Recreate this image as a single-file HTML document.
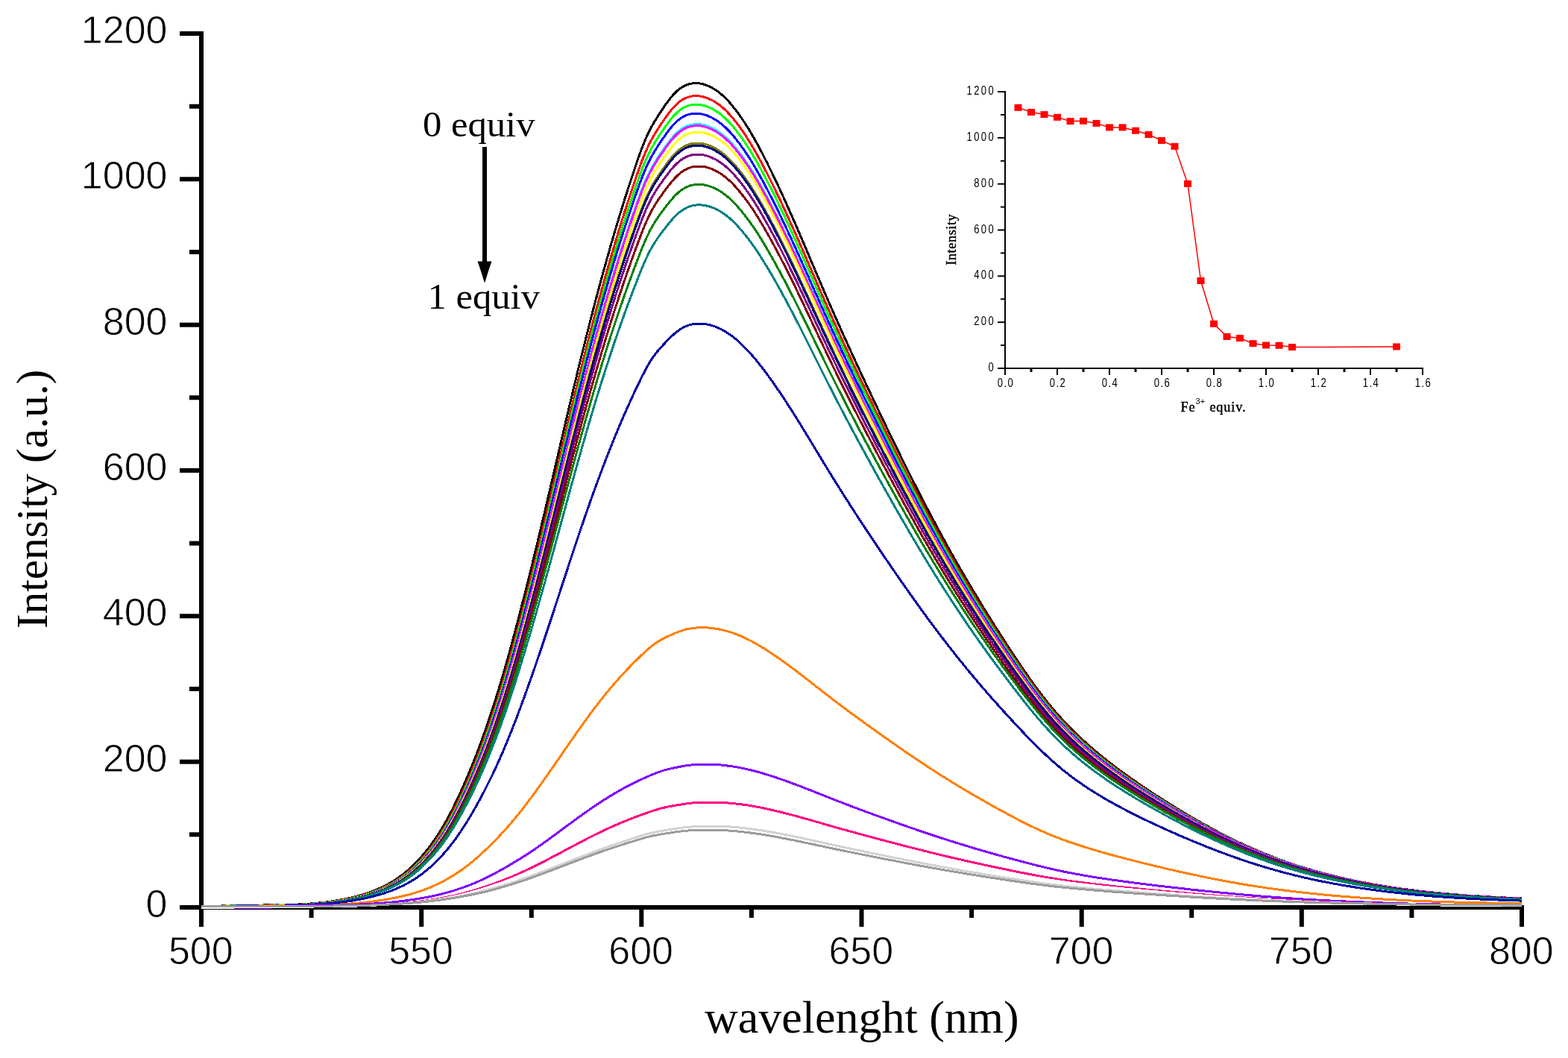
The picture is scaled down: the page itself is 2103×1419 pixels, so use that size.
<!DOCTYPE html><html><head><meta charset="utf-8"><style>html,body{margin:0;padding:0;background:#fff;}svg{display:block;}</style></head><body>
<svg width="2103" height="1419" viewBox="0 0 2103 1419">
<rect width="2103" height="1419" fill="#fff"/>
<g stroke="#000" stroke-width="6" fill="none">
<line x1="270" y1="42" x2="270" y2="1220"/>
<line x1="267" y1="1217" x2="2044" y2="1217"/>
<line x1="241.0" y1="1217.0" x2="270" y2="1217.0"/>
<line x1="254.0" y1="1119.3" x2="270" y2="1119.3"/>
<line x1="241.0" y1="1021.7" x2="270" y2="1021.7"/>
<line x1="254.0" y1="924.0" x2="270" y2="924.0"/>
<line x1="241.0" y1="826.3" x2="270" y2="826.3"/>
<line x1="254.0" y1="728.7" x2="270" y2="728.7"/>
<line x1="241.0" y1="631.0" x2="270" y2="631.0"/>
<line x1="254.0" y1="533.3" x2="270" y2="533.3"/>
<line x1="241.0" y1="435.7" x2="270" y2="435.7"/>
<line x1="254.0" y1="338.0" x2="270" y2="338.0"/>
<line x1="241.0" y1="240.3" x2="270" y2="240.3"/>
<line x1="254.0" y1="142.7" x2="270" y2="142.7"/>
<line x1="241.0" y1="45.0" x2="270" y2="45.0"/>
<line x1="270.0" y1="1217" x2="270.0" y2="1243"/>
<line x1="417.6" y1="1217" x2="417.6" y2="1231"/>
<line x1="565.2" y1="1217" x2="565.2" y2="1243"/>
<line x1="712.8" y1="1217" x2="712.8" y2="1231"/>
<line x1="860.3" y1="1217" x2="860.3" y2="1243"/>
<line x1="1007.9" y1="1217" x2="1007.9" y2="1231"/>
<line x1="1155.5" y1="1217" x2="1155.5" y2="1243"/>
<line x1="1303.1" y1="1217" x2="1303.1" y2="1231"/>
<line x1="1450.7" y1="1217" x2="1450.7" y2="1243"/>
<line x1="1598.2" y1="1217" x2="1598.2" y2="1231"/>
<line x1="1745.8" y1="1217" x2="1745.8" y2="1243"/>
<line x1="1893.4" y1="1217" x2="1893.4" y2="1231"/>
<line x1="2041.0" y1="1217" x2="2041.0" y2="1243"/>
</g>
<g fill="none" stroke-width="3" stroke-linejoin="round" shape-rendering="crispEdges">
<path stroke="#000000" d="M270.0 1216.9L273.0 1216.6L275.9 1216.4L278.9 1216.1L281.8 1215.9L284.8 1215.7L287.7 1215.5L290.7 1215.3L293.6 1215.2L296.6 1215.0L299.5 1214.9L302.5 1214.8L305.4 1214.7L308.4 1214.6L311.3 1214.5L314.3 1214.4L317.2 1214.3L320.2 1214.3L323.1 1214.2L326.1 1214.2L329.0 1214.2L332.0 1214.1L334.9 1214.1L337.9 1214.1L340.8 1214.0L343.8 1214.0L346.7 1214.0L349.7 1214.0L352.6 1214.0L355.6 1213.9L358.6 1213.9L361.5 1213.9L364.5 1213.9L367.4 1213.8L370.4 1213.8L373.3 1213.8L376.3 1213.7L379.2 1213.7L382.2 1213.6L385.1 1213.5L388.1 1213.4L391.0 1213.3L394.0 1213.2L396.9 1213.1L399.9 1213.0L402.8 1212.9L405.8 1212.7L408.7 1212.5L411.7 1212.3L414.6 1212.1L417.6 1211.9L420.5 1211.7L423.5 1211.4L426.4 1211.1L429.4 1210.8L432.3 1210.5L435.3 1210.2L438.2 1209.8L441.2 1209.4L444.1 1209.0L447.1 1208.6L450.1 1208.1L453.0 1207.6L456.0 1207.1L458.9 1206.6L461.9 1206.0L464.8 1205.4L467.8 1204.7L470.7 1204.1L473.7 1203.3L476.6 1202.6L479.6 1201.8L482.5 1201.0L485.5 1200.1L488.4 1199.2L491.4 1198.2L494.3 1197.2L497.3 1196.2L500.2 1195.1L503.2 1193.9L506.1 1192.7L509.1 1191.4L512.0 1190.0L515.0 1188.6L517.9 1187.1L520.9 1185.5L523.8 1183.9L526.8 1182.1L529.7 1180.3L532.7 1178.3L535.6 1176.3L538.6 1174.1L541.6 1171.8L544.5 1169.4L547.5 1166.9L550.4 1164.3L553.4 1161.5L556.3 1158.6L559.3 1155.6L562.2 1152.5L565.2 1149.2L568.1 1145.7L571.1 1142.2L574.0 1138.4L577.0 1134.5L579.9 1130.5L582.9 1126.3L585.8 1121.9L588.8 1117.3L591.7 1112.6L594.7 1107.6L597.6 1102.5L600.6 1097.2L603.5 1091.7L606.5 1086.0L609.4 1080.1L612.4 1074.0L615.3 1067.7L618.3 1061.3L621.2 1054.7L624.2 1047.9L627.2 1041.1L630.1 1034.0L633.1 1026.8L636.0 1019.4L639.0 1011.9L641.9 1004.1L644.9 996.2L647.8 988.1L650.8 979.8L653.7 971.3L656.7 962.6L659.6 953.7L662.6 944.6L665.5 935.3L668.5 925.8L671.4 916.0L674.4 906.1L677.3 895.9L680.3 885.6L683.2 875.0L686.2 864.3L689.1 853.3L692.1 842.2L695.0 831.0L698.0 819.6L700.9 808.1L703.9 796.5L706.8 784.7L709.8 772.8L712.8 760.8L715.7 748.8L718.7 736.6L721.6 724.3L724.6 711.9L727.5 699.5L730.5 687.0L733.4 674.4L736.4 661.8L739.3 649.1L742.3 636.5L745.2 623.8L748.2 611.1L751.1 598.4L754.1 585.8L757.0 573.1L760.0 560.5L762.9 548.0L765.9 535.5L768.8 523.1L771.8 510.8L774.7 498.6L777.7 486.5L780.6 474.5L783.6 462.5L786.5 450.7L789.5 439.1L792.4 427.5L795.4 416.1L798.3 404.8L801.3 393.7L804.3 382.6L807.2 371.8L810.2 361.0L813.1 350.4L816.1 340.0L819.0 329.7L822.0 319.5L824.9 309.5L827.9 299.6L830.8 289.9L833.8 280.3L836.7 270.8L839.7 261.5L842.6 252.3L845.6 243.2L848.5 234.3L851.5 225.5L854.4 216.8L857.4 208.3L860.3 200.3L863.3 192.7L866.2 185.7L869.2 179.2L872.1 173.3L875.1 167.9L878.0 162.8L881.0 158.0L883.9 153.3L886.9 148.8L889.9 144.4L892.8 140.1L895.8 136.0L898.7 132.1L901.7 128.5L904.6 125.3L907.6 122.4L910.5 119.9L913.5 117.7L916.4 115.9L919.4 114.4L922.3 113.3L925.3 112.5L928.2 111.9L931.2 111.6L934.1 111.6L937.1 111.8L940.0 112.2L943.0 112.9L945.9 113.8L948.9 114.9L951.8 116.2L954.8 117.7L957.7 119.4L960.7 121.3L963.6 123.4L966.6 125.7L969.5 128.3L972.5 131.1L975.4 134.1L978.4 137.3L981.4 140.8L984.3 144.4L987.3 148.3L990.2 152.2L993.2 156.3L996.1 160.6L999.1 165.1L1002.0 169.7L1005.0 174.5L1007.9 179.5L1010.9 184.6L1013.8 189.8L1016.8 195.2L1019.7 200.8L1022.7 206.4L1025.6 212.2L1028.6 218.0L1031.5 223.9L1034.5 229.9L1037.4 236.0L1040.4 242.2L1043.3 248.4L1046.3 254.8L1049.2 261.2L1052.2 267.7L1055.1 274.2L1058.1 280.8L1061.0 287.5L1064.0 294.2L1067.0 301.0L1069.9 307.8L1072.9 314.7L1075.8 321.6L1078.8 328.5L1081.7 335.4L1084.7 342.3L1087.6 349.3L1090.6 356.2L1093.5 363.2L1096.5 370.1L1099.4 377.0L1102.4 383.9L1105.3 390.7L1108.3 397.5L1111.2 404.3L1114.2 411.0L1117.1 417.7L1120.1 424.4L1123.0 431.0L1126.0 437.6L1128.9 444.2L1131.9 450.8L1134.8 457.3L1137.8 463.8L1140.7 470.3L1143.7 476.7L1146.6 483.1L1149.6 489.5L1152.5 495.9L1155.5 502.3L1158.5 508.6L1161.4 514.9L1164.4 521.2L1167.3 527.4L1170.3 533.7L1173.2 539.9L1176.2 546.1L1179.1 552.3L1182.1 558.5L1185.0 564.6L1188.0 570.7L1190.9 576.9L1193.9 583.0L1196.8 589.0L1199.8 595.1L1202.7 601.1L1205.7 607.1L1208.6 613.1L1211.6 619.1L1214.5 625.0L1217.5 630.9L1220.4 636.8L1223.4 642.7L1226.3 648.5L1229.3 654.3L1232.2 660.1L1235.2 665.8L1238.1 671.5L1241.1 677.2L1244.0 682.8L1247.0 688.5L1250.0 694.0L1252.9 699.6L1255.9 705.1L1258.8 710.6L1261.8 716.0L1264.7 721.4L1267.7 726.8L1270.6 732.2L1273.6 737.5L1276.5 742.8L1279.5 748.0L1282.4 753.2L1285.4 758.4L1288.3 763.5L1291.3 768.6L1294.2 773.7L1297.2 778.7L1300.1 783.7L1303.1 788.7L1306.0 793.6L1309.0 798.5L1311.9 803.4L1314.9 808.2L1317.8 813.1L1320.8 817.9L1323.7 822.6L1326.7 827.4L1329.6 832.1L1332.6 836.8L1335.6 841.5L1338.5 846.1L1341.5 850.7L1344.4 855.3L1347.4 859.9L1350.3 864.4L1353.3 869.0L1356.2 873.5L1359.2 878.0L1362.1 882.4L1365.1 886.9L1368.0 891.3L1371.0 895.6L1373.9 899.9L1376.9 904.2L1379.8 908.4L1382.8 912.6L1385.7 916.7L1388.7 920.7L1391.6 924.7L1394.6 928.7L1397.5 932.5L1400.5 936.3L1403.4 940.1L1406.4 943.8L1409.3 947.4L1412.3 950.9L1415.2 954.4L1418.2 957.8L1421.2 961.1L1424.1 964.4L1427.1 967.6L1430.0 970.7L1433.0 973.8L1435.9 976.8L1438.9 979.8L1441.8 982.7L1444.8 985.5L1447.7 988.3L1450.7 991.1L1453.6 993.8L1456.6 996.5L1459.5 999.1L1462.5 1001.7L1465.4 1004.2L1468.4 1006.8L1471.3 1009.2L1474.3 1011.7L1477.2 1014.1L1480.2 1016.5L1483.1 1018.8L1486.1 1021.2L1489.0 1023.5L1492.0 1025.7L1494.9 1028.0L1497.9 1030.2L1500.8 1032.4L1503.8 1034.6L1506.7 1036.7L1509.7 1038.9L1512.7 1041.0L1515.6 1043.1L1518.6 1045.1L1521.5 1047.2L1524.5 1049.3L1527.4 1051.3L1530.4 1053.3L1533.3 1055.3L1536.3 1057.3L1539.2 1059.2L1542.2 1061.2L1545.1 1063.1L1548.1 1065.1L1551.0 1067.0L1554.0 1068.9L1556.9 1070.8L1559.9 1072.7L1562.8 1074.6L1565.8 1076.4L1568.7 1078.3L1571.7 1080.1L1574.6 1081.9L1577.6 1083.8L1580.5 1085.6L1583.5 1087.4L1586.4 1089.1L1589.4 1090.9L1592.3 1092.7L1595.3 1094.4L1598.2 1096.1L1601.2 1097.8L1604.2 1099.5L1607.1 1101.2L1610.1 1102.9L1613.0 1104.6L1616.0 1106.2L1618.9 1107.8L1621.9 1109.4L1624.8 1111.0L1627.8 1112.6L1630.7 1114.2L1633.7 1115.8L1636.6 1117.3L1639.6 1118.8L1642.5 1120.3L1645.5 1121.8L1648.4 1123.3L1651.4 1124.8L1654.3 1126.2L1657.3 1127.7L1660.2 1129.1L1663.2 1130.5L1666.1 1131.9L1669.1 1133.2L1672.0 1134.6L1675.0 1135.9L1677.9 1137.2L1680.9 1138.5L1683.8 1139.8L1686.8 1141.1L1689.8 1142.3L1692.7 1143.6L1695.7 1144.8L1698.6 1146.0L1701.6 1147.1L1704.5 1148.3L1707.5 1149.5L1710.4 1150.6L1713.4 1151.7L1716.3 1152.8L1719.3 1153.9L1722.2 1154.9L1725.2 1156.0L1728.1 1157.0L1731.1 1158.0L1734.0 1159.0L1737.0 1160.0L1739.9 1160.9L1742.9 1161.9L1745.8 1162.8L1748.8 1163.7L1751.7 1164.6L1754.7 1165.5L1757.6 1166.4L1760.6 1167.3L1763.5 1168.1L1766.5 1168.9L1769.4 1169.7L1772.4 1170.5L1775.3 1171.3L1778.3 1172.1L1781.3 1172.9L1784.2 1173.6L1787.2 1174.4L1790.1 1175.1L1793.1 1175.8L1796.0 1176.5L1799.0 1177.2L1801.9 1177.9L1804.9 1178.5L1807.8 1179.2L1810.8 1179.8L1813.7 1180.5L1816.7 1181.1L1819.6 1181.7L1822.6 1182.3L1825.5 1182.9L1828.5 1183.5L1831.4 1184.0L1834.4 1184.6L1837.3 1185.1L1840.3 1185.7L1843.2 1186.2L1846.2 1186.7L1849.1 1187.2L1852.1 1187.7L1855.0 1188.2L1858.0 1188.7L1860.9 1189.2L1863.9 1189.6L1866.9 1190.1L1869.8 1190.5L1872.8 1191.0L1875.7 1191.4L1878.7 1191.8L1881.6 1192.2L1884.6 1192.6L1887.5 1193.0L1890.5 1193.4L1893.4 1193.8L1896.4 1194.1L1899.3 1194.5L1902.3 1194.9L1905.2 1195.2L1908.2 1195.6L1911.1 1195.9L1914.1 1196.2L1917.0 1196.5L1920.0 1196.8L1922.9 1197.1L1925.9 1197.4L1928.8 1197.7L1931.8 1198.0L1934.7 1198.3L1937.7 1198.6L1940.6 1198.8L1943.6 1199.1L1946.5 1199.3L1949.5 1199.6L1952.5 1199.8L1955.4 1200.1L1958.4 1200.3L1961.3 1200.5L1964.3 1200.7L1967.2 1201.0L1970.2 1201.2L1973.1 1201.4L1976.1 1201.6L1979.0 1201.8L1982.0 1201.9L1984.9 1202.1L1987.9 1202.3L1990.8 1202.5L1993.8 1202.6L1996.7 1202.8L1999.7 1203.0L2002.6 1203.1L2005.6 1203.3L2008.5 1203.4L2011.5 1203.6L2014.4 1203.7L2017.4 1203.8L2020.3 1204.0L2023.3 1204.1L2026.2 1204.2L2029.2 1204.3L2032.1 1204.4L2035.1 1204.5L2038.0 1204.7L2041.0 1204.8"/>
<path stroke="#FF0000" d="M270.0 1217.0L273.0 1216.9L275.9 1216.6L278.9 1216.3L281.8 1216.1L284.8 1215.9L287.7 1215.7L290.7 1215.5L293.6 1215.3L296.6 1215.2L299.5 1215.0L302.5 1214.9L305.4 1214.8L308.4 1214.7L311.3 1214.6L314.3 1214.5L317.2 1214.4L320.2 1214.4L323.1 1214.3L326.1 1214.3L329.0 1214.2L332.0 1214.2L334.9 1214.2L337.9 1214.1L340.8 1214.1L343.8 1214.1L346.7 1214.1L349.7 1214.0L352.6 1214.0L355.6 1214.0L358.6 1214.0L361.5 1214.0L364.5 1213.9L367.4 1213.9L370.4 1213.9L373.3 1213.8L376.3 1213.8L379.2 1213.7L382.2 1213.7L385.1 1213.6L388.1 1213.5L391.0 1213.5L394.0 1213.4L396.9 1213.3L399.9 1213.1L402.8 1213.0L405.8 1212.9L408.7 1212.7L411.7 1212.5L414.6 1212.4L417.6 1212.1L420.5 1211.9L423.5 1211.7L426.4 1211.4L429.4 1211.1L432.3 1210.8L435.3 1210.5L438.2 1210.2L441.2 1209.8L444.1 1209.4L447.1 1209.0L450.1 1208.6L453.0 1208.1L456.0 1207.6L458.9 1207.1L461.9 1206.5L464.8 1205.9L467.8 1205.3L470.7 1204.7L473.7 1204.0L476.6 1203.3L479.6 1202.5L482.5 1201.7L485.5 1200.9L488.4 1200.0L491.4 1199.1L494.3 1198.1L497.3 1197.1L500.2 1196.1L503.2 1194.9L506.1 1193.8L509.1 1192.5L512.0 1191.2L515.0 1189.9L517.9 1188.4L520.9 1186.9L523.8 1185.3L526.8 1183.7L529.7 1181.9L532.7 1180.0L535.6 1178.1L538.6 1176.0L541.6 1173.8L544.5 1171.5L547.5 1169.1L550.4 1166.5L553.4 1163.9L556.3 1161.1L559.3 1158.2L562.2 1155.2L565.2 1152.0L568.1 1148.7L571.1 1145.2L574.0 1141.6L577.0 1137.8L579.9 1133.9L582.9 1129.8L585.8 1125.6L588.8 1121.2L591.7 1116.6L594.7 1111.8L597.6 1106.8L600.6 1101.7L603.5 1096.3L606.5 1090.8L609.4 1085.0L612.4 1079.1L615.3 1073.0L618.3 1066.7L621.2 1060.3L624.2 1053.7L627.2 1047.0L630.1 1040.1L633.1 1033.0L636.0 1025.8L639.0 1018.4L641.9 1010.9L644.9 1003.1L647.8 995.2L650.8 987.1L653.7 978.8L656.7 970.3L659.6 961.6L662.6 952.7L665.5 943.6L668.5 934.3L671.4 924.7L674.4 915.0L677.3 905.0L680.3 894.9L683.2 884.5L686.2 874.0L689.1 863.3L692.1 852.4L695.0 841.3L698.0 830.1L700.9 818.8L703.9 807.4L706.8 795.8L709.8 784.1L712.8 772.3L715.7 760.4L718.7 748.4L721.6 736.3L724.6 724.1L727.5 711.8L730.5 699.5L733.4 687.1L736.4 674.7L739.3 662.2L742.3 649.7L745.2 637.2L748.2 624.6L751.1 612.1L754.1 599.6L757.0 587.1L760.0 574.7L762.9 562.3L765.9 549.9L768.8 537.7L771.8 525.5L774.7 513.4L777.7 501.3L780.6 489.4L783.6 477.6L786.5 465.9L789.5 454.4L792.4 442.9L795.4 431.6L798.3 420.4L801.3 409.4L804.3 398.5L807.2 387.7L810.2 377.0L813.1 366.5L816.1 356.2L819.0 346.0L822.0 335.9L824.9 326.0L827.9 316.2L830.8 306.5L833.8 297.0L836.7 287.6L839.7 278.4L842.6 269.2L845.6 260.3L848.5 251.4L851.5 242.7L854.4 234.0L857.4 225.6L860.3 217.6L863.3 210.0L866.2 203.0L869.2 196.5L872.1 190.5L875.1 185.1L878.0 180.0L881.0 175.2L883.9 170.6L886.9 166.1L889.9 161.7L892.8 157.4L895.8 153.3L898.7 149.5L901.7 145.9L904.6 142.6L907.6 139.7L910.5 137.1L913.5 134.9L916.4 133.1L919.4 131.6L922.3 130.4L925.3 129.6L928.2 129.0L931.2 128.7L934.1 128.6L937.1 128.8L940.0 129.2L943.0 129.8L945.9 130.7L948.9 131.7L951.8 133.0L954.8 134.4L957.7 136.0L960.7 137.9L963.6 139.9L966.6 142.2L969.5 144.6L972.5 147.3L975.4 150.2L978.4 153.4L981.4 156.8L984.3 160.3L987.3 164.0L990.2 167.9L993.2 171.9L996.1 176.1L999.1 180.5L1002.0 185.0L1005.0 189.7L1007.9 194.5L1010.9 199.5L1013.8 204.6L1016.8 209.9L1019.7 215.3L1022.7 220.8L1025.6 226.5L1028.6 232.2L1031.5 238.0L1034.5 243.9L1037.4 249.8L1040.4 255.9L1043.3 262.0L1046.3 268.2L1049.2 274.5L1052.2 280.9L1055.1 287.3L1058.1 293.8L1061.0 300.3L1064.0 306.9L1067.0 313.5L1069.9 320.2L1072.9 327.0L1075.8 333.7L1078.8 340.5L1081.7 347.3L1084.7 354.1L1087.6 361.0L1090.6 367.8L1093.5 374.6L1096.5 381.4L1099.4 388.2L1102.4 395.0L1105.3 401.7L1108.3 408.4L1111.2 415.0L1114.2 421.7L1117.1 428.3L1120.1 434.8L1123.0 441.4L1126.0 447.9L1128.9 454.3L1131.9 460.8L1134.8 467.2L1137.8 473.6L1140.7 480.0L1143.7 486.3L1146.6 492.6L1149.6 498.9L1152.5 505.2L1155.5 511.4L1158.5 517.6L1161.4 523.8L1164.4 530.0L1167.3 536.2L1170.3 542.3L1173.2 548.5L1176.2 554.6L1179.1 560.6L1182.1 566.7L1185.0 572.7L1188.0 578.8L1190.9 584.8L1193.9 590.8L1196.8 596.8L1199.8 602.7L1202.7 608.7L1205.7 614.6L1208.6 620.5L1211.6 626.3L1214.5 632.2L1217.5 638.0L1220.4 643.8L1223.4 649.5L1226.3 655.3L1229.3 661.0L1232.2 666.7L1235.2 672.3L1238.1 677.9L1241.1 683.5L1244.0 689.1L1247.0 694.6L1250.0 700.1L1252.9 705.6L1255.9 711.0L1258.8 716.4L1261.8 721.8L1264.7 727.1L1267.7 732.4L1270.6 737.7L1273.6 742.9L1276.5 748.1L1279.5 753.2L1282.4 758.4L1285.4 763.5L1288.3 768.5L1291.3 773.5L1294.2 778.5L1297.2 783.5L1300.1 788.4L1303.1 793.3L1306.0 798.2L1309.0 803.0L1311.9 807.8L1314.9 812.6L1317.8 817.3L1320.8 822.1L1323.7 826.8L1326.7 831.4L1329.6 836.1L1332.6 840.7L1335.6 845.3L1338.5 849.9L1341.5 854.4L1344.4 859.0L1347.4 863.5L1350.3 867.9L1353.3 872.4L1356.2 876.8L1359.2 881.3L1362.1 885.6L1365.1 890.0L1368.0 894.3L1371.0 898.6L1373.9 902.9L1376.9 907.1L1379.8 911.3L1382.8 915.4L1385.7 919.5L1388.7 923.5L1391.6 927.4L1394.6 931.3L1397.5 935.1L1400.5 938.9L1403.4 942.6L1406.4 946.3L1409.3 949.8L1412.3 953.4L1415.2 956.8L1418.2 960.2L1421.2 963.5L1424.1 966.7L1427.1 969.9L1430.0 973.0L1433.0 976.1L1435.9 979.1L1438.9 982.0L1441.8 984.9L1444.8 987.7L1447.7 990.5L1450.7 993.2L1453.6 995.9L1456.6 998.5L1459.5 1001.1L1462.5 1003.7L1465.4 1006.2L1468.4 1008.7L1471.3 1011.2L1474.3 1013.6L1477.2 1016.0L1480.2 1018.3L1483.1 1020.7L1486.1 1023.0L1489.0 1025.2L1492.0 1027.5L1494.9 1029.7L1497.9 1031.9L1500.8 1034.1L1503.8 1036.2L1506.7 1038.4L1509.7 1040.5L1512.7 1042.5L1515.6 1044.6L1518.6 1046.7L1521.5 1048.7L1524.5 1050.7L1527.4 1052.7L1530.4 1054.7L1533.3 1056.7L1536.3 1058.6L1539.2 1060.6L1542.2 1062.5L1545.1 1064.4L1548.1 1066.3L1551.0 1068.2L1554.0 1070.1L1556.9 1072.0L1559.9 1073.8L1562.8 1075.7L1565.8 1077.5L1568.7 1079.3L1571.7 1081.2L1574.6 1083.0L1577.6 1084.7L1580.5 1086.5L1583.5 1088.3L1586.4 1090.1L1589.4 1091.8L1592.3 1093.5L1595.3 1095.2L1598.2 1097.0L1601.2 1098.6L1604.2 1100.3L1607.1 1102.0L1610.1 1103.6L1613.0 1105.3L1616.0 1106.9L1618.9 1108.5L1621.9 1110.1L1624.8 1111.7L1627.8 1113.3L1630.7 1114.8L1633.7 1116.4L1636.6 1117.9L1639.6 1119.4L1642.5 1120.9L1645.5 1122.4L1648.4 1123.8L1651.4 1125.3L1654.3 1126.7L1657.3 1128.1L1660.2 1129.5L1663.2 1130.9L1666.1 1132.3L1669.1 1133.6L1672.0 1135.0L1675.0 1136.3L1677.9 1137.6L1680.9 1138.9L1683.8 1140.1L1686.8 1141.4L1689.8 1142.6L1692.7 1143.9L1695.7 1145.1L1698.6 1146.3L1701.6 1147.4L1704.5 1148.6L1707.5 1149.7L1710.4 1150.8L1713.4 1151.9L1716.3 1153.0L1719.3 1154.1L1722.2 1155.2L1725.2 1156.2L1728.1 1157.2L1731.1 1158.2L1734.0 1159.2L1737.0 1160.2L1739.9 1161.1L1742.9 1162.1L1745.8 1163.0L1748.8 1163.9L1751.7 1164.8L1754.7 1165.7L1757.6 1166.6L1760.6 1167.4L1763.5 1168.2L1766.5 1169.1L1769.4 1169.9L1772.4 1170.7L1775.3 1171.5L1778.3 1172.2L1781.3 1173.0L1784.2 1173.8L1787.2 1174.5L1790.1 1175.2L1793.1 1175.9L1796.0 1176.6L1799.0 1177.3L1801.9 1178.0L1804.9 1178.6L1807.8 1179.3L1810.8 1179.9L1813.7 1180.6L1816.7 1181.2L1819.6 1181.8L1822.6 1182.4L1825.5 1183.0L1828.5 1183.5L1831.4 1184.1L1834.4 1184.7L1837.3 1185.2L1840.3 1185.8L1843.2 1186.3L1846.2 1186.8L1849.1 1187.3L1852.1 1187.8L1855.0 1188.3L1858.0 1188.8L1860.9 1189.2L1863.9 1189.7L1866.9 1190.1L1869.8 1190.6L1872.8 1191.0L1875.7 1191.4L1878.7 1191.9L1881.6 1192.3L1884.6 1192.7L1887.5 1193.1L1890.5 1193.5L1893.4 1193.8L1896.4 1194.2L1899.3 1194.6L1902.3 1194.9L1905.2 1195.3L1908.2 1195.6L1911.1 1195.9L1914.1 1196.3L1917.0 1196.6L1920.0 1196.9L1922.9 1197.2L1925.9 1197.5L1928.8 1197.8L1931.8 1198.1L1934.7 1198.4L1937.7 1198.6L1940.6 1198.9L1943.6 1199.2L1946.5 1199.4L1949.5 1199.7L1952.5 1199.9L1955.4 1200.1L1958.4 1200.4L1961.3 1200.6L1964.3 1200.8L1967.2 1201.0L1970.2 1201.2L1973.1 1201.4L1976.1 1201.6L1979.0 1201.8L1982.0 1202.0L1984.9 1202.2L1987.9 1202.4L1990.8 1202.5L1993.8 1202.7L1996.7 1202.9L1999.7 1203.0L2002.6 1203.2L2005.6 1203.3L2008.5 1203.5L2011.5 1203.6L2014.4 1203.8L2017.4 1203.9L2020.3 1204.0L2023.3 1204.2L2026.2 1204.3L2029.2 1204.4L2032.1 1204.5L2035.1 1204.6L2038.0 1204.7L2041.0 1204.9"/>
<path stroke="#00FF00" d="M270.0 1217.0L273.0 1217.0L275.9 1216.7L278.9 1216.5L281.8 1216.2L284.8 1216.0L287.7 1215.8L290.7 1215.6L293.6 1215.4L296.6 1215.3L299.5 1215.1L302.5 1215.0L305.4 1214.9L308.4 1214.8L311.3 1214.7L314.3 1214.6L317.2 1214.5L320.2 1214.4L323.1 1214.4L326.1 1214.3L329.0 1214.3L332.0 1214.2L334.9 1214.2L337.9 1214.2L340.8 1214.1L343.8 1214.1L346.7 1214.1L349.7 1214.1L352.6 1214.1L355.6 1214.0L358.6 1214.0L361.5 1214.0L364.5 1214.0L367.4 1214.0L370.4 1213.9L373.3 1213.9L376.3 1213.9L379.2 1213.8L382.2 1213.8L385.1 1213.7L388.1 1213.6L391.0 1213.5L394.0 1213.5L396.9 1213.4L399.9 1213.2L402.8 1213.1L405.8 1213.0L408.7 1212.8L411.7 1212.7L414.6 1212.5L417.6 1212.3L420.5 1212.1L423.5 1211.8L426.4 1211.6L429.4 1211.3L432.3 1211.0L435.3 1210.7L438.2 1210.4L441.2 1210.0L444.1 1209.7L447.1 1209.3L450.1 1208.8L453.0 1208.4L456.0 1207.9L458.9 1207.4L461.9 1206.9L464.8 1206.3L467.8 1205.7L470.7 1205.1L473.7 1204.4L476.6 1203.7L479.6 1203.0L482.5 1202.2L485.5 1201.4L488.4 1200.6L491.4 1199.7L494.3 1198.7L497.3 1197.7L500.2 1196.7L503.2 1195.6L506.1 1194.5L509.1 1193.3L512.0 1192.0L515.0 1190.7L517.9 1189.3L520.9 1187.8L523.8 1186.3L526.8 1184.6L529.7 1182.9L532.7 1181.1L535.6 1179.2L538.6 1177.2L541.6 1175.0L544.5 1172.8L547.5 1170.5L550.4 1168.0L553.4 1165.4L556.3 1162.7L559.3 1159.8L562.2 1156.9L565.2 1153.8L568.1 1150.5L571.1 1147.1L574.0 1143.6L577.0 1139.9L579.9 1136.1L582.9 1132.1L585.8 1127.9L588.8 1123.6L591.7 1119.1L594.7 1114.4L597.6 1109.6L600.6 1104.5L603.5 1099.3L606.5 1093.8L609.4 1088.2L612.4 1082.4L615.3 1076.4L618.3 1070.2L621.2 1063.9L624.2 1057.4L627.2 1050.7L630.1 1044.0L633.1 1037.0L636.0 1029.9L639.0 1022.7L641.9 1015.2L644.9 1007.6L647.8 999.8L650.8 991.8L653.7 983.6L656.7 975.2L659.6 966.7L662.6 957.9L665.5 948.9L668.5 939.7L671.4 930.3L674.4 920.7L677.3 910.9L680.3 900.9L683.2 890.7L686.2 880.3L689.1 869.7L692.1 858.9L695.0 848.0L698.0 836.9L700.9 825.7L703.9 814.4L706.8 803.0L709.8 791.4L712.8 779.7L715.7 768.0L718.7 756.1L721.6 744.1L724.6 732.0L727.5 719.9L730.5 707.7L733.4 695.4L736.4 683.1L739.3 670.7L742.3 658.3L745.2 645.9L748.2 633.4L751.1 621.0L754.1 608.6L757.0 596.2L760.0 583.9L762.9 571.6L765.9 559.3L768.8 547.2L771.8 535.1L774.7 523.0L777.7 511.1L780.6 499.3L783.6 487.6L786.5 475.9L789.5 464.5L792.4 453.1L795.4 441.8L798.3 430.7L801.3 419.7L804.3 408.9L807.2 398.2L810.2 387.6L813.1 377.2L816.1 366.9L819.0 356.7L822.0 346.7L824.9 336.9L827.9 327.1L830.8 317.5L833.8 308.1L836.7 298.8L839.7 289.6L842.6 280.5L845.6 271.6L848.5 262.8L851.5 254.1L854.4 245.5L857.4 237.2L860.3 229.1L863.3 221.5L866.2 214.5L869.2 208.0L872.1 202.1L875.1 196.6L878.0 191.5L881.0 186.7L883.9 182.1L886.9 177.7L889.9 173.4L892.8 169.1L895.8 165.0L898.7 161.1L901.7 157.5L904.6 154.3L907.6 151.3L910.5 148.8L913.5 146.6L916.4 144.7L919.4 143.2L922.3 142.0L925.3 141.2L928.2 140.6L931.2 140.2L934.1 140.1L937.1 140.3L940.0 140.7L943.0 141.3L945.9 142.1L948.9 143.1L951.8 144.4L954.8 145.8L957.7 147.4L960.7 149.2L963.6 151.2L966.6 153.4L969.5 155.8L972.5 158.5L975.4 161.3L978.4 164.4L981.4 167.8L984.3 171.3L987.3 174.9L990.2 178.7L993.2 182.7L996.1 186.8L999.1 191.1L1002.0 195.6L1005.0 200.2L1007.9 205.0L1010.9 209.9L1013.8 214.9L1016.8 220.2L1019.7 225.5L1022.7 231.0L1025.6 236.5L1028.6 242.2L1031.5 247.9L1034.5 253.7L1037.4 259.6L1040.4 265.6L1043.3 271.6L1046.3 277.8L1049.2 284.0L1052.2 290.2L1055.1 296.6L1058.1 303.0L1061.0 309.5L1064.0 316.0L1067.0 322.5L1069.9 329.2L1072.9 335.8L1075.8 342.5L1078.8 349.2L1081.7 355.9L1084.7 362.7L1087.6 369.4L1090.6 376.2L1093.5 382.9L1096.5 389.7L1099.4 396.4L1102.4 403.1L1105.3 409.7L1108.3 416.3L1111.2 422.9L1114.2 429.5L1117.1 436.0L1120.1 442.5L1123.0 448.9L1126.0 455.4L1128.9 461.8L1131.9 468.2L1134.8 474.5L1137.8 480.8L1140.7 487.1L1143.7 493.4L1146.6 499.7L1149.6 505.9L1152.5 512.1L1155.5 518.3L1158.5 524.4L1161.4 530.6L1164.4 536.7L1167.3 542.8L1170.3 548.8L1173.2 554.9L1176.2 560.9L1179.1 567.0L1182.1 573.0L1185.0 578.9L1188.0 584.9L1190.9 590.8L1193.9 596.8L1196.8 602.7L1199.8 608.6L1202.7 614.4L1205.7 620.3L1208.6 626.1L1211.6 631.9L1214.5 637.7L1217.5 643.5L1220.4 649.2L1223.4 654.9L1226.3 660.6L1229.3 666.2L1232.2 671.8L1235.2 677.4L1238.1 683.0L1241.1 688.5L1244.0 694.0L1247.0 699.5L1250.0 704.9L1252.9 710.3L1255.9 715.7L1258.8 721.1L1261.8 726.4L1264.7 731.7L1267.7 736.9L1270.6 742.1L1273.6 747.3L1276.5 752.4L1279.5 757.5L1282.4 762.6L1285.4 767.6L1288.3 772.6L1291.3 777.6L1294.2 782.6L1297.2 787.5L1300.1 792.3L1303.1 797.2L1306.0 802.0L1309.0 806.8L1311.9 811.5L1314.9 816.3L1317.8 821.0L1320.8 825.6L1323.7 830.3L1326.7 834.9L1329.6 839.5L1332.6 844.1L1335.6 848.6L1338.5 853.2L1341.5 857.7L1344.4 862.1L1347.4 866.6L1350.3 871.0L1353.3 875.4L1356.2 879.8L1359.2 884.2L1362.1 888.6L1365.1 892.9L1368.0 897.2L1371.0 901.4L1373.9 905.6L1376.9 909.8L1379.8 913.9L1382.8 918.0L1385.7 922.0L1388.7 926.0L1391.6 929.9L1394.6 933.8L1397.5 937.6L1400.5 941.3L1403.4 945.0L1406.4 948.6L1409.3 952.2L1412.3 955.6L1415.2 959.1L1418.2 962.4L1421.2 965.7L1424.1 968.9L1427.1 972.1L1430.0 975.2L1433.0 978.2L1435.9 981.1L1438.9 984.1L1441.8 986.9L1444.8 989.7L1447.7 992.5L1450.7 995.2L1453.6 997.8L1456.6 1000.5L1459.5 1003.0L1462.5 1005.6L1465.4 1008.1L1468.4 1010.6L1471.3 1013.0L1474.3 1015.4L1477.2 1017.7L1480.2 1020.1L1483.1 1022.4L1486.1 1024.7L1489.0 1026.9L1492.0 1029.1L1494.9 1031.3L1497.9 1033.5L1500.8 1035.7L1503.8 1037.8L1506.7 1039.9L1509.7 1042.0L1512.7 1044.1L1515.6 1046.1L1518.6 1048.1L1521.5 1050.2L1524.5 1052.1L1527.4 1054.1L1530.4 1056.1L1533.3 1058.0L1536.3 1060.0L1539.2 1061.9L1542.2 1063.8L1545.1 1065.7L1548.1 1067.6L1551.0 1069.5L1554.0 1071.3L1556.9 1073.2L1559.9 1075.0L1562.8 1076.9L1565.8 1078.7L1568.7 1080.5L1571.7 1082.3L1574.6 1084.1L1577.6 1085.8L1580.5 1087.6L1583.5 1089.4L1586.4 1091.1L1589.4 1092.8L1592.3 1094.5L1595.3 1096.2L1598.2 1097.9L1601.2 1099.6L1604.2 1101.3L1607.1 1102.9L1610.1 1104.5L1613.0 1106.2L1616.0 1107.8L1618.9 1109.4L1621.9 1111.0L1624.8 1112.5L1627.8 1114.1L1630.7 1115.6L1633.7 1117.1L1636.6 1118.6L1639.6 1120.1L1642.5 1121.6L1645.5 1123.1L1648.4 1124.5L1651.4 1126.0L1654.3 1127.4L1657.3 1128.8L1660.2 1130.2L1663.2 1131.6L1666.1 1132.9L1669.1 1134.3L1672.0 1135.6L1675.0 1136.9L1677.9 1138.2L1680.9 1139.5L1683.8 1140.7L1686.8 1142.0L1689.8 1143.2L1692.7 1144.4L1695.7 1145.6L1698.6 1146.8L1701.6 1147.9L1704.5 1149.1L1707.5 1150.2L1710.4 1151.3L1713.4 1152.4L1716.3 1153.5L1719.3 1154.6L1722.2 1155.6L1725.2 1156.6L1728.1 1157.6L1731.1 1158.6L1734.0 1159.6L1737.0 1160.6L1739.9 1161.5L1742.9 1162.5L1745.8 1163.4L1748.8 1164.3L1751.7 1165.2L1754.7 1166.1L1757.6 1166.9L1760.6 1167.8L1763.5 1168.6L1766.5 1169.4L1769.4 1170.2L1772.4 1171.0L1775.3 1171.8L1778.3 1172.6L1781.3 1173.3L1784.2 1174.1L1787.2 1174.8L1790.1 1175.5L1793.1 1176.2L1796.0 1176.9L1799.0 1177.6L1801.9 1178.3L1804.9 1178.9L1807.8 1179.6L1810.8 1180.2L1813.7 1180.8L1816.7 1181.4L1819.6 1182.0L1822.6 1182.6L1825.5 1183.2L1828.5 1183.8L1831.4 1184.3L1834.4 1184.9L1837.3 1185.4L1840.3 1186.0L1843.2 1186.5L1846.2 1187.0L1849.1 1187.5L1852.1 1188.0L1855.0 1188.5L1858.0 1189.0L1860.9 1189.4L1863.9 1189.9L1866.9 1190.3L1869.8 1190.8L1872.8 1191.2L1875.7 1191.6L1878.7 1192.0L1881.6 1192.4L1884.6 1192.8L1887.5 1193.2L1890.5 1193.6L1893.4 1194.0L1896.4 1194.4L1899.3 1194.7L1902.3 1195.1L1905.2 1195.4L1908.2 1195.8L1911.1 1196.1L1914.1 1196.4L1917.0 1196.7L1920.0 1197.0L1922.9 1197.3L1925.9 1197.6L1928.8 1197.9L1931.8 1198.2L1934.7 1198.5L1937.7 1198.8L1940.6 1199.0L1943.6 1199.3L1946.5 1199.5L1949.5 1199.8L1952.5 1200.0L1955.4 1200.3L1958.4 1200.5L1961.3 1200.7L1964.3 1200.9L1967.2 1201.1L1970.2 1201.3L1973.1 1201.5L1976.1 1201.7L1979.0 1201.9L1982.0 1202.1L1984.9 1202.3L1987.9 1202.5L1990.8 1202.7L1993.8 1202.8L1996.7 1203.0L1999.7 1203.1L2002.6 1203.3L2005.6 1203.5L2008.5 1203.6L2011.5 1203.7L2014.4 1203.9L2017.4 1204.0L2020.3 1204.1L2023.3 1204.3L2026.2 1204.4L2029.2 1204.5L2032.1 1204.6L2035.1 1204.7L2038.0 1204.8L2041.0 1205.0"/>
<path stroke="#0000FF" d="M270.0 1217.0L273.0 1217.0L275.9 1217.0L278.9 1216.7L281.8 1216.4L284.8 1216.2L287.7 1216.0L290.7 1215.8L293.6 1215.6L296.6 1215.4L299.5 1215.2L302.5 1215.1L305.4 1215.0L308.4 1214.9L311.3 1214.8L314.3 1214.7L317.2 1214.6L320.2 1214.5L323.1 1214.4L326.1 1214.4L329.0 1214.3L332.0 1214.3L334.9 1214.3L337.9 1214.2L340.8 1214.2L343.8 1214.2L346.7 1214.2L349.7 1214.1L352.6 1214.1L355.6 1214.1L358.6 1214.1L361.5 1214.1L364.5 1214.0L367.4 1214.0L370.4 1214.0L373.3 1213.9L376.3 1213.9L379.2 1213.9L382.2 1213.8L385.1 1213.8L388.1 1213.7L391.0 1213.6L394.0 1213.5L396.9 1213.5L399.9 1213.3L402.8 1213.2L405.8 1213.1L408.7 1213.0L411.7 1212.8L414.6 1212.6L417.6 1212.5L420.5 1212.3L423.5 1212.0L426.4 1211.8L429.4 1211.5L432.3 1211.3L435.3 1211.0L438.2 1210.7L441.2 1210.3L444.1 1210.0L447.1 1209.6L450.1 1209.2L453.0 1208.7L456.0 1208.3L458.9 1207.8L461.9 1207.3L464.8 1206.7L467.8 1206.1L470.7 1205.5L473.7 1204.9L476.6 1204.2L479.6 1203.5L482.5 1202.8L485.5 1202.0L488.4 1201.1L491.4 1200.3L494.3 1199.4L497.3 1198.4L500.2 1197.4L503.2 1196.3L506.1 1195.2L509.1 1194.1L512.0 1192.8L515.0 1191.6L517.9 1190.2L520.9 1188.8L523.8 1187.3L526.8 1185.7L529.7 1184.0L532.7 1182.3L535.6 1180.4L538.6 1178.4L541.6 1176.4L544.5 1174.2L547.5 1171.9L550.4 1169.5L553.4 1167.0L556.3 1164.3L559.3 1161.6L562.2 1158.7L565.2 1155.6L568.1 1152.4L571.1 1149.1L574.0 1145.7L577.0 1142.1L579.9 1138.3L582.9 1134.4L585.8 1130.4L588.8 1126.1L591.7 1121.7L594.7 1117.1L597.6 1112.4L600.6 1107.4L603.5 1102.3L606.5 1096.9L609.4 1091.4L612.4 1085.7L615.3 1079.8L618.3 1073.7L621.2 1067.4L624.2 1061.0L627.2 1054.5L630.1 1047.8L633.1 1041.0L636.0 1034.0L639.0 1026.8L641.9 1019.5L644.9 1011.9L647.8 1004.2L650.8 996.4L653.7 988.3L656.7 980.0L659.6 971.6L662.6 962.9L665.5 954.0L668.5 945.0L671.4 935.7L674.4 926.2L677.3 916.5L680.3 906.6L683.2 896.5L686.2 886.2L689.1 875.7L692.1 865.1L695.0 854.3L698.0 843.3L700.9 832.2L703.9 821.0L706.8 809.7L709.8 798.2L712.8 786.6L715.7 775.0L718.7 763.2L721.6 751.3L724.6 739.3L727.5 727.3L730.5 715.2L733.4 703.0L736.4 690.8L739.3 678.5L742.3 666.2L745.2 653.9L748.2 641.5L751.1 629.2L754.1 616.9L757.0 604.6L760.0 592.3L762.9 580.1L765.9 567.9L768.8 555.8L771.8 543.8L774.7 531.9L777.7 520.0L780.6 508.3L783.6 496.6L786.5 485.1L789.5 473.7L792.4 462.4L795.4 451.2L798.3 440.2L801.3 429.3L804.3 418.5L807.2 407.8L810.2 397.3L813.1 387.0L816.1 376.8L819.0 366.7L822.0 356.7L824.9 346.9L827.9 337.3L830.8 327.7L833.8 318.3L836.7 309.1L839.7 300.0L842.6 291.0L845.6 282.1L848.5 273.4L851.5 264.7L854.4 256.3L857.4 247.9L860.3 240.0L863.3 232.5L866.2 225.5L869.2 219.1L872.1 213.2L875.1 207.8L878.0 202.7L881.0 198.0L883.9 193.4L886.9 189.0L889.9 184.7L892.8 180.5L895.8 176.4L898.7 172.6L901.7 169.1L904.6 165.9L907.6 163.0L910.5 160.5L913.5 158.3L916.4 156.5L919.4 155.0L922.3 153.9L925.3 153.1L928.2 152.5L931.2 152.2L934.1 152.1L937.1 152.3L940.0 152.7L943.0 153.4L945.9 154.2L948.9 155.2L951.8 156.5L954.8 157.9L957.7 159.5L960.7 161.3L963.6 163.3L966.6 165.5L969.5 167.9L972.5 170.5L975.4 173.4L978.4 176.4L981.4 179.7L984.3 183.2L987.3 186.8L990.2 190.6L993.2 194.5L996.1 198.6L999.1 202.9L1002.0 207.3L1005.0 211.8L1007.9 216.5L1010.9 221.4L1013.8 226.4L1016.8 231.6L1019.7 236.9L1022.7 242.3L1025.6 247.7L1028.6 253.3L1031.5 259.0L1034.5 264.7L1037.4 270.5L1040.4 276.4L1043.3 282.4L1046.3 288.5L1049.2 294.6L1052.2 300.8L1055.1 307.1L1058.1 313.4L1061.0 319.8L1064.0 326.2L1067.0 332.7L1069.9 339.2L1072.9 345.8L1075.8 352.4L1078.8 359.0L1081.7 365.6L1084.7 372.3L1087.6 379.0L1090.6 385.6L1093.5 392.3L1096.5 398.9L1099.4 405.5L1102.4 412.1L1105.3 418.7L1108.3 425.2L1111.2 431.7L1114.2 438.2L1117.1 444.6L1120.1 451.1L1123.0 457.4L1126.0 463.8L1128.9 470.1L1131.9 476.4L1134.8 482.7L1137.8 488.9L1140.7 495.1L1143.7 501.3L1146.6 507.5L1149.6 513.6L1152.5 519.7L1155.5 525.8L1158.5 531.9L1161.4 538.0L1164.4 544.0L1167.3 550.0L1170.3 556.0L1173.2 562.0L1176.2 568.0L1179.1 573.9L1182.1 579.8L1185.0 585.7L1188.0 591.6L1190.9 597.5L1193.9 603.3L1196.8 609.2L1199.8 615.0L1202.7 620.8L1205.7 626.6L1208.6 632.3L1211.6 638.0L1214.5 643.7L1217.5 649.4L1220.4 655.1L1223.4 660.7L1226.3 666.3L1229.3 671.9L1232.2 677.4L1235.2 683.0L1238.1 688.5L1241.1 693.9L1244.0 699.3L1247.0 704.8L1250.0 710.1L1252.9 715.5L1255.9 720.8L1258.8 726.0L1261.8 731.3L1264.7 736.5L1267.7 741.7L1270.6 746.8L1273.6 751.9L1276.5 757.0L1279.5 762.1L1282.4 767.1L1285.4 772.0L1288.3 777.0L1291.3 781.9L1294.2 786.8L1297.2 791.6L1300.1 796.4L1303.1 801.2L1306.0 806.0L1309.0 810.7L1311.9 815.4L1314.9 820.1L1317.8 824.7L1320.8 829.3L1323.7 833.9L1326.7 838.5L1329.6 843.0L1332.6 847.6L1335.6 852.0L1338.5 856.5L1341.5 861.0L1344.4 865.4L1347.4 869.8L1350.3 874.2L1353.3 878.5L1356.2 882.9L1359.2 887.2L1362.1 891.5L1365.1 895.7L1368.0 900.0L1371.0 904.2L1373.9 908.4L1376.9 912.5L1379.8 916.6L1382.8 920.6L1385.7 924.6L1388.7 928.5L1391.6 932.4L1394.6 936.2L1397.5 940.0L1400.5 943.7L1403.4 947.3L1406.4 950.9L1409.3 954.4L1412.3 957.8L1415.2 961.2L1418.2 964.6L1421.2 967.8L1424.1 971.0L1427.1 974.1L1430.0 977.2L1433.0 980.2L1435.9 983.1L1438.9 986.0L1441.8 988.8L1444.8 991.6L1447.7 994.3L1450.7 997.0L1453.6 999.7L1456.6 1002.3L1459.5 1004.8L1462.5 1007.3L1465.4 1009.8L1468.4 1012.3L1471.3 1014.7L1474.3 1017.0L1477.2 1019.4L1480.2 1021.7L1483.1 1024.0L1486.1 1026.2L1489.0 1028.5L1492.0 1030.7L1494.9 1032.8L1497.9 1035.0L1500.8 1037.1L1503.8 1039.2L1506.7 1041.3L1509.7 1043.4L1512.7 1045.4L1515.6 1047.5L1518.6 1049.5L1521.5 1051.5L1524.5 1053.4L1527.4 1055.4L1530.4 1057.3L1533.3 1059.3L1536.3 1061.2L1539.2 1063.1L1542.2 1065.0L1545.1 1066.8L1548.1 1068.7L1551.0 1070.6L1554.0 1072.4L1556.9 1074.2L1559.9 1076.0L1562.8 1077.9L1565.8 1079.7L1568.7 1081.4L1571.7 1083.2L1574.6 1085.0L1577.6 1086.7L1580.5 1088.5L1583.5 1090.2L1586.4 1091.9L1589.4 1093.6L1592.3 1095.3L1595.3 1097.0L1598.2 1098.7L1601.2 1100.4L1604.2 1102.0L1607.1 1103.6L1610.1 1105.3L1613.0 1106.9L1616.0 1108.5L1618.9 1110.0L1621.9 1111.6L1624.8 1113.1L1627.8 1114.7L1630.7 1116.2L1633.7 1117.7L1636.6 1119.2L1639.6 1120.7L1642.5 1122.2L1645.5 1123.6L1648.4 1125.0L1651.4 1126.5L1654.3 1127.9L1657.3 1129.3L1660.2 1130.6L1663.2 1132.0L1666.1 1133.3L1669.1 1134.7L1672.0 1136.0L1675.0 1137.3L1677.9 1138.6L1680.9 1139.8L1683.8 1141.1L1686.8 1142.3L1689.8 1143.5L1692.7 1144.7L1695.7 1145.9L1698.6 1147.1L1701.6 1148.3L1704.5 1149.4L1707.5 1150.5L1710.4 1151.6L1713.4 1152.7L1716.3 1153.8L1719.3 1154.8L1722.2 1155.9L1725.2 1156.9L1728.1 1157.9L1731.1 1158.9L1734.0 1159.9L1737.0 1160.8L1739.9 1161.8L1742.9 1162.7L1745.8 1163.6L1748.8 1164.5L1751.7 1165.4L1754.7 1166.2L1757.6 1167.1L1760.6 1167.9L1763.5 1168.8L1766.5 1169.6L1769.4 1170.4L1772.4 1171.2L1775.3 1172.0L1778.3 1172.7L1781.3 1173.5L1784.2 1174.2L1787.2 1174.9L1790.1 1175.6L1793.1 1176.3L1796.0 1177.0L1799.0 1177.7L1801.9 1178.4L1804.9 1179.0L1807.8 1179.7L1810.8 1180.3L1813.7 1180.9L1816.7 1181.5L1819.6 1182.1L1822.6 1182.7L1825.5 1183.3L1828.5 1183.9L1831.4 1184.4L1834.4 1185.0L1837.3 1185.5L1840.3 1186.1L1843.2 1186.6L1846.2 1187.1L1849.1 1187.6L1852.1 1188.1L1855.0 1188.6L1858.0 1189.0L1860.9 1189.5L1863.9 1190.0L1866.9 1190.4L1869.8 1190.8L1872.8 1191.3L1875.7 1191.7L1878.7 1192.1L1881.6 1192.5L1884.6 1192.9L1887.5 1193.3L1890.5 1193.7L1893.4 1194.1L1896.4 1194.4L1899.3 1194.8L1902.3 1195.1L1905.2 1195.5L1908.2 1195.8L1911.1 1196.1L1914.1 1196.5L1917.0 1196.8L1920.0 1197.1L1922.9 1197.4L1925.9 1197.7L1928.8 1198.0L1931.8 1198.3L1934.7 1198.5L1937.7 1198.8L1940.6 1199.1L1943.6 1199.3L1946.5 1199.6L1949.5 1199.8L1952.5 1200.1L1955.4 1200.3L1958.4 1200.5L1961.3 1200.8L1964.3 1201.0L1967.2 1201.2L1970.2 1201.4L1973.1 1201.6L1976.1 1201.8L1979.0 1202.0L1982.0 1202.2L1984.9 1202.4L1987.9 1202.5L1990.8 1202.7L1993.8 1202.9L1996.7 1203.0L1999.7 1203.2L2002.6 1203.4L2005.6 1203.5L2008.5 1203.7L2011.5 1203.8L2014.4 1203.9L2017.4 1204.1L2020.3 1204.2L2023.3 1204.3L2026.2 1204.5L2029.2 1204.6L2032.1 1204.7L2035.1 1204.8L2038.0 1204.9L2041.0 1205.0"/>
<path stroke="#00FFFF" d="M270.0 1217.0L273.0 1217.0L275.9 1216.9L278.9 1216.6L281.8 1216.4L284.8 1216.1L287.7 1215.9L290.7 1215.7L293.6 1215.5L296.6 1215.4L299.5 1215.2L302.5 1215.1L305.4 1215.0L308.4 1214.9L311.3 1214.8L314.3 1214.7L317.2 1214.6L320.2 1214.5L323.1 1214.5L326.1 1214.4L329.0 1214.4L332.0 1214.3L334.9 1214.3L337.9 1214.3L340.8 1214.2L343.8 1214.2L346.7 1214.2L349.7 1214.2L352.6 1214.1L355.6 1214.1L358.6 1214.1L361.5 1214.1L364.5 1214.1L367.4 1214.0L370.4 1214.0L373.3 1214.0L376.3 1213.9L379.2 1213.9L382.2 1213.9L385.1 1213.8L388.1 1213.7L391.0 1213.7L394.0 1213.6L396.9 1213.5L399.9 1213.4L402.8 1213.3L405.8 1213.1L408.7 1213.0L411.7 1212.8L414.6 1212.7L417.6 1212.5L420.5 1212.3L423.5 1212.1L426.4 1211.8L429.4 1211.6L432.3 1211.3L435.3 1211.0L438.2 1210.7L441.2 1210.4L444.1 1210.0L447.1 1209.6L450.1 1209.2L453.0 1208.8L456.0 1208.3L458.9 1207.8L461.9 1207.3L464.8 1206.8L467.8 1206.2L470.7 1205.6L473.7 1205.0L476.6 1204.3L479.6 1203.6L482.5 1202.9L485.5 1202.1L488.4 1201.3L491.4 1200.4L494.3 1199.5L497.3 1198.6L500.2 1197.6L503.2 1196.6L506.1 1195.5L509.1 1194.3L512.0 1193.1L515.0 1191.8L517.9 1190.5L520.9 1189.1L523.8 1187.6L526.8 1186.1L529.7 1184.4L532.7 1182.7L535.6 1180.9L538.6 1178.9L541.6 1176.9L544.5 1174.8L547.5 1172.5L550.4 1170.1L553.4 1167.7L556.3 1165.1L559.3 1162.3L562.2 1159.5L565.2 1156.5L568.1 1153.4L571.1 1150.1L574.0 1146.7L577.0 1143.2L579.9 1139.5L582.9 1135.7L585.8 1131.7L588.8 1127.5L591.7 1123.2L594.7 1118.7L597.6 1114.0L600.6 1109.2L603.5 1104.1L606.5 1098.9L609.4 1093.5L612.4 1087.9L615.3 1082.1L618.3 1076.1L621.2 1070.0L624.2 1063.7L627.2 1057.3L630.1 1050.7L633.1 1044.0L636.0 1037.1L639.0 1030.1L641.9 1022.9L644.9 1015.5L647.8 1008.0L650.8 1000.3L653.7 992.3L656.7 984.2L659.6 975.9L662.6 967.5L665.5 958.8L668.5 949.9L671.4 940.8L674.4 931.5L677.3 922.0L680.3 912.3L683.2 902.4L686.2 892.3L689.1 882.0L692.1 871.5L695.0 860.9L698.0 850.2L700.9 839.3L703.9 828.3L706.8 817.2L709.8 806.0L712.8 794.6L715.7 783.1L718.7 771.6L721.6 759.9L724.6 748.2L727.5 736.3L730.5 724.4L733.4 712.5L736.4 700.5L739.3 688.4L742.3 676.3L745.2 664.2L748.2 652.1L751.1 639.9L754.1 627.8L757.0 615.7L760.0 603.7L762.9 591.6L765.9 579.7L768.8 567.8L771.8 555.9L774.7 544.2L777.7 532.5L780.6 520.9L783.6 509.4L786.5 498.1L789.5 486.8L792.4 475.7L795.4 464.6L798.3 453.7L801.3 443.0L804.3 432.4L807.2 421.9L810.2 411.5L813.1 401.3L816.1 391.2L819.0 381.2L822.0 371.4L824.9 361.7L827.9 352.2L830.8 342.8L833.8 333.5L836.7 324.3L839.7 315.3L842.6 306.4L845.6 297.7L848.5 289.0L851.5 280.5L854.4 272.1L857.4 263.9L860.3 255.9L863.3 248.4L866.2 241.3L869.2 234.8L872.1 228.8L875.1 223.3L878.0 218.2L881.0 213.5L883.9 208.9L886.9 204.6L889.9 200.3L892.8 196.1L895.8 192.1L898.7 188.2L901.7 184.6L904.6 181.3L907.6 178.3L910.5 175.7L913.5 173.4L916.4 171.5L919.4 169.9L922.3 168.7L925.3 167.7L928.2 167.1L931.2 166.7L934.1 166.5L937.1 166.6L940.0 166.9L943.0 167.4L945.9 168.1L948.9 169.1L951.8 170.2L954.8 171.5L957.7 173.0L960.7 174.7L963.6 176.6L966.6 178.7L969.5 180.9L972.5 183.4L975.4 186.2L978.4 189.1L981.4 192.3L984.3 195.6L987.3 199.1L990.2 202.8L993.2 206.6L996.1 210.6L999.1 214.7L1002.0 219.0L1005.0 223.4L1007.9 228.0L1010.9 232.7L1013.8 237.6L1016.8 242.6L1019.7 247.8L1022.7 253.0L1025.6 258.4L1028.6 263.9L1031.5 269.4L1034.5 275.1L1037.4 280.8L1040.4 286.6L1043.3 292.4L1046.3 298.4L1049.2 304.4L1052.2 310.5L1055.1 316.6L1058.1 322.8L1061.0 329.1L1064.0 335.4L1067.0 341.8L1069.9 348.2L1072.9 354.7L1075.8 361.2L1078.8 367.7L1081.7 374.2L1084.7 380.8L1087.6 387.4L1090.6 393.9L1093.5 400.5L1096.5 407.1L1099.4 413.6L1102.4 420.1L1105.3 426.6L1108.3 433.1L1111.2 439.5L1114.2 445.9L1117.1 452.3L1120.1 458.6L1123.0 464.9L1126.0 471.2L1128.9 477.5L1131.9 483.7L1134.8 489.9L1137.8 496.0L1140.7 502.2L1143.7 508.3L1146.6 514.4L1149.6 520.5L1152.5 526.5L1155.5 532.5L1158.5 538.6L1161.4 544.5L1164.4 550.5L1167.3 556.4L1170.3 562.4L1173.2 568.3L1176.2 574.2L1179.1 580.0L1182.1 585.9L1185.0 591.7L1188.0 597.5L1190.9 603.3L1193.9 609.1L1196.8 614.9L1199.8 620.6L1202.7 626.3L1205.7 632.0L1208.6 637.7L1211.6 643.4L1214.5 649.0L1217.5 654.7L1220.4 660.2L1223.4 665.8L1226.3 671.3L1229.3 676.9L1232.2 682.3L1235.2 687.8L1238.1 693.2L1241.1 698.6L1244.0 704.0L1247.0 709.4L1250.0 714.7L1252.9 719.9L1255.9 725.2L1258.8 730.4L1261.8 735.6L1264.7 740.8L1267.7 745.9L1270.6 751.0L1273.6 756.0L1276.5 761.1L1279.5 766.0L1282.4 771.0L1285.4 775.9L1288.3 780.8L1291.3 785.7L1294.2 790.5L1297.2 795.3L1300.1 800.1L1303.1 804.8L1306.0 809.5L1309.0 814.2L1311.9 818.8L1314.9 823.4L1317.8 828.0L1320.8 832.6L1323.7 837.1L1326.7 841.7L1329.6 846.2L1332.6 850.6L1335.6 855.1L1338.5 859.5L1341.5 863.9L1344.4 868.3L1347.4 872.6L1350.3 876.9L1353.3 881.2L1356.2 885.5L1359.2 889.8L1362.1 894.1L1365.1 898.3L1368.0 902.5L1371.0 906.6L1373.9 910.8L1376.9 914.8L1379.8 918.9L1382.8 922.9L1385.7 926.8L1388.7 930.7L1391.6 934.6L1394.6 938.4L1397.5 942.1L1400.5 945.8L1403.4 949.4L1406.4 953.0L1409.3 956.5L1412.3 959.9L1415.2 963.3L1418.2 966.6L1421.2 969.8L1424.1 973.0L1427.1 976.1L1430.0 979.1L1433.0 982.1L1435.9 985.1L1438.9 987.9L1441.8 990.7L1444.8 993.5L1447.7 996.2L1450.7 998.9L1453.6 1001.5L1456.6 1004.1L1459.5 1006.6L1462.5 1009.1L1465.4 1011.6L1468.4 1014.0L1471.3 1016.4L1474.3 1018.7L1477.2 1021.1L1480.2 1023.4L1483.1 1025.6L1486.1 1027.9L1489.0 1030.1L1492.0 1032.3L1494.9 1034.4L1497.9 1036.5L1500.8 1038.7L1503.8 1040.7L1506.7 1042.8L1509.7 1044.9L1512.7 1046.9L1515.6 1048.9L1518.6 1050.9L1521.5 1052.9L1524.5 1054.8L1527.4 1056.8L1530.4 1058.7L1533.3 1060.6L1536.3 1062.5L1539.2 1064.4L1542.2 1066.2L1545.1 1068.1L1548.1 1069.9L1551.0 1071.8L1554.0 1073.6L1556.9 1075.4L1559.9 1077.2L1562.8 1079.0L1565.8 1080.8L1568.7 1082.5L1571.7 1084.3L1574.6 1086.0L1577.6 1087.8L1580.5 1089.5L1583.5 1091.2L1586.4 1092.9L1589.4 1094.6L1592.3 1096.3L1595.3 1097.9L1598.2 1099.6L1601.2 1101.2L1604.2 1102.9L1607.1 1104.5L1610.1 1106.1L1613.0 1107.7L1616.0 1109.3L1618.9 1110.8L1621.9 1112.4L1624.8 1113.9L1627.8 1115.4L1630.7 1116.9L1633.7 1118.4L1636.6 1119.9L1639.6 1121.4L1642.5 1122.8L1645.5 1124.3L1648.4 1125.7L1651.4 1127.1L1654.3 1128.5L1657.3 1129.9L1660.2 1131.2L1663.2 1132.6L1666.1 1133.9L1669.1 1135.2L1672.0 1136.5L1675.0 1137.8L1677.9 1139.1L1680.9 1140.4L1683.8 1141.6L1686.8 1142.8L1689.8 1144.0L1692.7 1145.2L1695.7 1146.4L1698.6 1147.6L1701.6 1148.7L1704.5 1149.8L1707.5 1150.9L1710.4 1152.0L1713.4 1153.1L1716.3 1154.2L1719.3 1155.2L1722.2 1156.3L1725.2 1157.3L1728.1 1158.3L1731.1 1159.3L1734.0 1160.2L1737.0 1161.2L1739.9 1162.1L1742.9 1163.0L1745.8 1163.9L1748.8 1164.8L1751.7 1165.7L1754.7 1166.6L1757.6 1167.4L1760.6 1168.3L1763.5 1169.1L1766.5 1169.9L1769.4 1170.7L1772.4 1171.5L1775.3 1172.2L1778.3 1173.0L1781.3 1173.7L1784.2 1174.5L1787.2 1175.2L1790.1 1175.9L1793.1 1176.6L1796.0 1177.3L1799.0 1178.0L1801.9 1178.6L1804.9 1179.3L1807.8 1179.9L1810.8 1180.5L1813.7 1181.2L1816.7 1181.8L1819.6 1182.4L1822.6 1183.0L1825.5 1183.5L1828.5 1184.1L1831.4 1184.6L1834.4 1185.2L1837.3 1185.7L1840.3 1186.3L1843.2 1186.8L1846.2 1187.3L1849.1 1187.8L1852.1 1188.3L1855.0 1188.7L1858.0 1189.2L1860.9 1189.7L1863.9 1190.1L1866.9 1190.6L1869.8 1191.0L1872.8 1191.4L1875.7 1191.9L1878.7 1192.3L1881.6 1192.7L1884.6 1193.1L1887.5 1193.5L1890.5 1193.8L1893.4 1194.2L1896.4 1194.6L1899.3 1194.9L1902.3 1195.3L1905.2 1195.6L1908.2 1196.0L1911.1 1196.3L1914.1 1196.6L1917.0 1196.9L1920.0 1197.2L1922.9 1197.5L1925.9 1197.8L1928.8 1198.1L1931.8 1198.4L1934.7 1198.7L1937.7 1198.9L1940.6 1199.2L1943.6 1199.5L1946.5 1199.7L1949.5 1200.0L1952.5 1200.2L1955.4 1200.4L1958.4 1200.7L1961.3 1200.9L1964.3 1201.1L1967.2 1201.3L1970.2 1201.5L1973.1 1201.7L1976.1 1201.9L1979.0 1202.1L1982.0 1202.3L1984.9 1202.5L1987.9 1202.7L1990.8 1202.8L1993.8 1203.0L1996.7 1203.2L1999.7 1203.3L2002.6 1203.5L2005.6 1203.6L2008.5 1203.8L2011.5 1203.9L2014.4 1204.1L2017.4 1204.2L2020.3 1204.3L2023.3 1204.5L2026.2 1204.6L2029.2 1204.7L2032.1 1204.8L2035.1 1204.9L2038.0 1205.0L2041.0 1205.1"/>
<path stroke="#FF00FF" d="M270.0 1217.0L273.0 1217.0L275.9 1216.9L278.9 1216.6L281.8 1216.4L284.8 1216.1L287.7 1215.9L290.7 1215.7L293.6 1215.5L296.6 1215.4L299.5 1215.2L302.5 1215.1L305.4 1215.0L308.4 1214.9L311.3 1214.8L314.3 1214.7L317.2 1214.6L320.2 1214.5L323.1 1214.5L326.1 1214.4L329.0 1214.4L332.0 1214.3L334.9 1214.3L337.9 1214.3L340.8 1214.2L343.8 1214.2L346.7 1214.2L349.7 1214.2L352.6 1214.2L355.6 1214.1L358.6 1214.1L361.5 1214.1L364.5 1214.1L367.4 1214.1L370.4 1214.0L373.3 1214.0L376.3 1214.0L379.2 1213.9L382.2 1213.9L385.1 1213.8L388.1 1213.7L391.0 1213.7L394.0 1213.6L396.9 1213.5L399.9 1213.4L402.8 1213.3L405.8 1213.1L408.7 1213.0L411.7 1212.9L414.6 1212.7L417.6 1212.5L420.5 1212.3L423.5 1212.1L426.4 1211.8L429.4 1211.6L432.3 1211.3L435.3 1211.0L438.2 1210.7L441.2 1210.4L444.1 1210.0L447.1 1209.6L450.1 1209.2L453.0 1208.8L456.0 1208.3L458.9 1207.9L461.9 1207.4L464.8 1206.8L467.8 1206.2L470.7 1205.6L473.7 1205.0L476.6 1204.3L479.6 1203.7L482.5 1202.9L485.5 1202.1L488.4 1201.3L491.4 1200.5L494.3 1199.6L497.3 1198.6L500.2 1197.6L503.2 1196.6L506.1 1195.5L509.1 1194.4L512.0 1193.2L515.0 1191.9L517.9 1190.6L520.9 1189.2L523.8 1187.7L526.8 1186.1L529.7 1184.5L532.7 1182.8L535.6 1180.9L538.6 1179.0L541.6 1177.0L544.5 1174.8L547.5 1172.6L550.4 1170.2L553.4 1167.8L556.3 1165.2L559.3 1162.4L562.2 1159.6L565.2 1156.6L568.1 1153.5L571.1 1150.3L574.0 1146.9L577.0 1143.4L579.9 1139.7L582.9 1135.9L585.8 1131.9L588.8 1127.7L591.7 1123.4L594.7 1118.9L597.6 1114.3L600.6 1109.4L603.5 1104.4L606.5 1099.1L609.4 1093.7L612.4 1088.1L615.3 1082.3L618.3 1076.4L621.2 1070.3L624.2 1064.0L627.2 1057.6L630.1 1051.1L633.1 1044.4L636.0 1037.5L639.0 1030.5L641.9 1023.3L644.9 1015.9L647.8 1008.4L650.8 1000.7L653.7 992.8L656.7 984.7L659.6 976.4L662.6 968.0L665.5 959.3L668.5 950.4L671.4 941.3L674.4 932.0L677.3 922.6L680.3 912.9L683.2 903.0L686.2 892.9L689.1 882.7L692.1 872.2L695.0 861.7L698.0 850.9L700.9 840.1L703.9 829.1L706.8 818.0L709.8 806.8L712.8 795.5L715.7 784.0L718.7 772.5L721.6 760.8L724.6 749.1L727.5 737.3L730.5 725.4L733.4 713.5L736.4 701.5L739.3 689.5L742.3 677.4L745.2 665.3L748.2 653.2L751.1 641.1L754.1 629.0L757.0 617.0L760.0 604.9L762.9 592.9L765.9 581.0L768.8 569.1L771.8 557.3L774.7 545.5L777.7 533.9L780.6 522.3L783.6 510.9L786.5 499.5L789.5 488.3L792.4 477.2L795.4 466.2L798.3 455.3L801.3 444.6L804.3 433.9L807.2 423.5L810.2 413.1L813.1 402.9L816.1 392.8L819.0 382.9L822.0 373.1L824.9 363.5L827.9 353.9L830.8 344.5L833.8 335.3L836.7 326.1L839.7 317.1L842.6 308.3L845.6 299.5L848.5 290.9L851.5 282.4L854.4 274.1L857.4 265.8L860.3 257.9L863.3 250.3L866.2 243.3L869.2 236.8L872.1 230.8L875.1 225.3L878.0 220.3L881.0 215.5L883.9 211.0L886.9 206.6L889.9 202.4L892.8 198.2L895.8 194.1L898.7 190.3L901.7 186.7L904.6 183.4L907.6 180.4L910.5 177.8L913.5 175.6L916.4 173.6L919.4 172.0L922.3 170.8L925.3 169.9L928.2 169.2L931.2 168.8L934.1 168.6L937.1 168.7L940.0 169.0L943.0 169.5L945.9 170.3L948.9 171.2L951.8 172.3L954.8 173.6L957.7 175.1L960.7 176.8L963.6 178.7L966.6 180.8L969.5 183.0L972.5 185.5L975.4 188.3L978.4 191.2L981.4 194.3L984.3 197.7L987.3 201.2L990.2 204.8L993.2 208.7L996.1 212.6L999.1 216.7L1002.0 221.0L1005.0 225.4L1007.9 230.0L1010.9 234.7L1013.8 239.6L1016.8 244.6L1019.7 249.7L1022.7 255.0L1025.6 260.4L1028.6 265.8L1031.5 271.4L1034.5 277.0L1037.4 282.7L1040.4 288.4L1043.3 294.3L1046.3 300.2L1049.2 306.2L1052.2 312.3L1055.1 318.4L1058.1 324.6L1061.0 330.9L1064.0 337.2L1067.0 343.6L1069.9 350.0L1072.9 356.4L1075.8 362.9L1078.8 369.4L1081.7 376.0L1084.7 382.5L1087.6 389.1L1090.6 395.6L1093.5 402.2L1096.5 408.7L1099.4 415.3L1102.4 421.8L1105.3 428.2L1108.3 434.7L1111.2 441.1L1114.2 447.5L1117.1 453.8L1120.1 460.2L1123.0 466.5L1126.0 472.7L1128.9 479.0L1131.9 485.2L1134.8 491.3L1137.8 497.5L1140.7 503.6L1143.7 509.7L1146.6 515.8L1149.6 521.9L1152.5 527.9L1155.5 533.9L1158.5 539.9L1161.4 545.9L1164.4 551.9L1167.3 557.8L1170.3 563.7L1173.2 569.6L1176.2 575.5L1179.1 581.3L1182.1 587.2L1185.0 593.0L1188.0 598.8L1190.9 604.6L1193.9 610.3L1196.8 616.1L1199.8 621.8L1202.7 627.5L1205.7 633.2L1208.6 638.9L1211.6 644.6L1214.5 650.2L1217.5 655.8L1220.4 661.4L1223.4 666.9L1226.3 672.5L1229.3 678.0L1232.2 683.4L1235.2 688.9L1238.1 694.3L1241.1 699.7L1244.0 705.1L1247.0 710.4L1250.0 715.7L1252.9 721.0L1255.9 726.2L1258.8 731.4L1261.8 736.6L1264.7 741.7L1267.7 746.8L1270.6 751.9L1273.6 757.0L1276.5 762.0L1279.5 767.0L1282.4 771.9L1285.4 776.8L1288.3 781.7L1291.3 786.6L1294.2 791.4L1297.2 796.2L1300.1 800.9L1303.1 805.6L1306.0 810.3L1309.0 815.0L1311.9 819.6L1314.9 824.2L1317.8 828.8L1320.8 833.4L1323.7 837.9L1326.7 842.4L1329.6 846.9L1332.6 851.4L1335.6 855.8L1338.5 860.2L1341.5 864.6L1344.4 869.0L1347.4 873.3L1350.3 877.6L1353.3 881.9L1356.2 886.2L1359.2 890.5L1362.1 894.7L1365.1 898.9L1368.0 903.1L1371.0 907.3L1373.9 911.4L1376.9 915.5L1379.8 919.5L1382.8 923.5L1385.7 927.4L1388.7 931.3L1391.6 935.2L1394.6 938.9L1397.5 942.7L1400.5 946.3L1403.4 950.0L1406.4 953.5L1409.3 957.0L1412.3 960.4L1415.2 963.8L1418.2 967.1L1421.2 970.3L1424.1 973.5L1427.1 976.6L1430.0 979.6L1433.0 982.6L1435.9 985.5L1438.9 988.4L1441.8 991.2L1444.8 993.9L1447.7 996.7L1450.7 999.3L1453.6 1001.9L1456.6 1004.5L1459.5 1007.0L1462.5 1009.5L1465.4 1012.0L1468.4 1014.4L1471.3 1016.8L1474.3 1019.1L1477.2 1021.5L1480.2 1023.8L1483.1 1026.0L1486.1 1028.2L1489.0 1030.5L1492.0 1032.6L1494.9 1034.8L1497.9 1036.9L1500.8 1039.0L1503.8 1041.1L1506.7 1043.2L1509.7 1045.2L1512.7 1047.2L1515.6 1049.2L1518.6 1051.2L1521.5 1053.2L1524.5 1055.1L1527.4 1057.1L1530.4 1059.0L1533.3 1060.9L1536.3 1062.8L1539.2 1064.7L1542.2 1066.5L1545.1 1068.4L1548.1 1070.2L1551.0 1072.0L1554.0 1073.9L1556.9 1075.7L1559.9 1077.5L1562.8 1079.3L1565.8 1081.0L1568.7 1082.8L1571.7 1084.6L1574.6 1086.3L1577.6 1088.0L1580.5 1089.8L1583.5 1091.5L1586.4 1093.2L1589.4 1094.9L1592.3 1096.5L1595.3 1098.2L1598.2 1099.8L1601.2 1101.5L1604.2 1103.1L1607.1 1104.7L1610.1 1106.3L1613.0 1107.9L1616.0 1109.5L1618.9 1111.0L1621.9 1112.6L1624.8 1114.1L1627.8 1115.6L1630.7 1117.1L1633.7 1118.6L1636.6 1120.1L1639.6 1121.6L1642.5 1123.0L1645.5 1124.5L1648.4 1125.9L1651.4 1127.3L1654.3 1128.7L1657.3 1130.0L1660.2 1131.4L1663.2 1132.8L1666.1 1134.1L1669.1 1135.4L1672.0 1136.7L1675.0 1138.0L1677.9 1139.3L1680.9 1140.5L1683.8 1141.7L1686.8 1143.0L1689.8 1144.2L1692.7 1145.4L1695.7 1146.5L1698.6 1147.7L1701.6 1148.8L1704.5 1150.0L1707.5 1151.1L1710.4 1152.2L1713.4 1153.3L1716.3 1154.3L1719.3 1155.4L1722.2 1156.4L1725.2 1157.4L1728.1 1158.4L1731.1 1159.4L1734.0 1160.3L1737.0 1161.3L1739.9 1162.2L1742.9 1163.1L1745.8 1164.0L1748.8 1164.9L1751.7 1165.8L1754.7 1166.7L1757.6 1167.5L1760.6 1168.4L1763.5 1169.2L1766.5 1170.0L1769.4 1170.8L1772.4 1171.6L1775.3 1172.3L1778.3 1173.1L1781.3 1173.8L1784.2 1174.6L1787.2 1175.3L1790.1 1176.0L1793.1 1176.7L1796.0 1177.4L1799.0 1178.0L1801.9 1178.7L1804.9 1179.4L1807.8 1180.0L1810.8 1180.6L1813.7 1181.2L1816.7 1181.8L1819.6 1182.4L1822.6 1183.0L1825.5 1183.6L1828.5 1184.2L1831.4 1184.7L1834.4 1185.3L1837.3 1185.8L1840.3 1186.3L1843.2 1186.8L1846.2 1187.3L1849.1 1187.8L1852.1 1188.3L1855.0 1188.8L1858.0 1189.3L1860.9 1189.7L1863.9 1190.2L1866.9 1190.6L1869.8 1191.1L1872.8 1191.5L1875.7 1191.9L1878.7 1192.3L1881.6 1192.7L1884.6 1193.1L1887.5 1193.5L1890.5 1193.9L1893.4 1194.3L1896.4 1194.6L1899.3 1195.0L1902.3 1195.3L1905.2 1195.7L1908.2 1196.0L1911.1 1196.3L1914.1 1196.7L1917.0 1197.0L1920.0 1197.3L1922.9 1197.6L1925.9 1197.9L1928.8 1198.2L1931.8 1198.4L1934.7 1198.7L1937.7 1199.0L1940.6 1199.2L1943.6 1199.5L1946.5 1199.8L1949.5 1200.0L1952.5 1200.2L1955.4 1200.5L1958.4 1200.7L1961.3 1200.9L1964.3 1201.1L1967.2 1201.4L1970.2 1201.6L1973.1 1201.8L1976.1 1202.0L1979.0 1202.1L1982.0 1202.3L1984.9 1202.5L1987.9 1202.7L1990.8 1202.9L1993.8 1203.0L1996.7 1203.2L1999.7 1203.4L2002.6 1203.5L2005.6 1203.7L2008.5 1203.8L2011.5 1203.9L2014.4 1204.1L2017.4 1204.2L2020.3 1204.4L2023.3 1204.5L2026.2 1204.6L2029.2 1204.7L2032.1 1204.8L2035.1 1204.9L2038.0 1205.1L2041.0 1205.2"/>
<path stroke="#FFFF00" d="M270.0 1217.0L273.0 1217.0L275.9 1216.9L278.9 1216.7L281.8 1216.4L284.8 1216.2L287.7 1216.0L290.7 1215.8L293.6 1215.6L296.6 1215.4L299.5 1215.3L302.5 1215.1L305.4 1215.0L308.4 1214.9L311.3 1214.8L314.3 1214.7L317.2 1214.6L320.2 1214.6L323.1 1214.5L326.1 1214.4L329.0 1214.4L332.0 1214.4L334.9 1214.3L337.9 1214.3L340.8 1214.3L343.8 1214.2L346.7 1214.2L349.7 1214.2L352.6 1214.2L355.6 1214.2L358.6 1214.1L361.5 1214.1L364.5 1214.1L367.4 1214.1L370.4 1214.1L373.3 1214.0L376.3 1214.0L379.2 1213.9L382.2 1213.9L385.1 1213.8L388.1 1213.8L391.0 1213.7L394.0 1213.6L396.9 1213.5L399.9 1213.4L402.8 1213.3L405.8 1213.2L408.7 1213.1L411.7 1212.9L414.6 1212.8L417.6 1212.6L420.5 1212.4L423.5 1212.2L426.4 1212.0L429.4 1211.7L432.3 1211.4L435.3 1211.2L438.2 1210.9L441.2 1210.5L444.1 1210.2L447.1 1209.8L450.1 1209.4L453.0 1209.0L456.0 1208.5L458.9 1208.1L461.9 1207.6L464.8 1207.0L467.8 1206.5L470.7 1205.9L473.7 1205.3L476.6 1204.6L479.6 1204.0L482.5 1203.2L485.5 1202.5L488.4 1201.7L491.4 1200.9L494.3 1200.0L497.3 1199.1L500.2 1198.1L503.2 1197.1L506.1 1196.0L509.1 1194.9L512.0 1193.7L515.0 1192.5L517.9 1191.2L520.9 1189.8L523.8 1188.4L526.8 1186.8L529.7 1185.2L532.7 1183.6L535.6 1181.8L538.6 1179.9L541.6 1177.9L544.5 1175.8L547.5 1173.6L550.4 1171.3L553.4 1168.9L556.3 1166.4L559.3 1163.7L562.2 1160.9L565.2 1158.0L568.1 1155.0L571.1 1151.8L574.0 1148.5L577.0 1145.0L579.9 1141.4L582.9 1137.7L585.8 1133.8L588.8 1129.7L591.7 1125.5L594.7 1121.1L597.6 1116.5L600.6 1111.8L603.5 1106.8L606.5 1101.7L609.4 1096.4L612.4 1090.9L615.3 1085.2L618.3 1079.4L621.2 1073.4L624.2 1067.2L627.2 1060.9L630.1 1054.4L633.1 1047.8L636.0 1041.1L639.0 1034.2L641.9 1027.1L644.9 1019.9L647.8 1012.5L650.8 1004.9L653.7 997.1L656.7 989.2L659.6 981.0L662.6 972.7L665.5 964.1L668.5 955.4L671.4 946.5L674.4 937.3L677.3 928.0L680.3 918.5L683.2 908.7L686.2 898.8L689.1 888.7L692.1 878.4L695.0 868.0L698.0 857.4L700.9 846.7L703.9 835.8L706.8 824.9L709.8 813.8L712.8 802.6L715.7 791.3L718.7 779.9L721.6 768.4L724.6 756.8L727.5 745.1L730.5 733.4L733.4 721.6L736.4 709.7L739.3 697.8L742.3 685.8L745.2 673.8L748.2 661.8L751.1 649.8L754.1 637.9L757.0 625.9L760.0 613.9L762.9 602.0L765.9 590.2L768.8 578.4L771.8 566.6L774.7 555.0L777.7 543.4L780.6 531.9L783.6 520.5L786.5 509.2L789.5 498.1L792.4 487.0L795.4 476.0L798.3 465.2L801.3 454.5L804.3 444.0L807.2 433.5L810.2 423.2L813.1 413.1L816.1 403.1L819.0 393.2L822.0 383.4L824.9 373.8L827.9 364.3L830.8 354.9L833.8 345.7L836.7 336.6L839.7 327.6L842.6 318.8L845.6 310.1L848.5 301.5L851.5 293.1L854.4 284.7L857.4 276.5L860.3 268.5L863.3 260.9L866.2 253.7L869.2 247.1L872.1 241.0L875.1 235.4L878.0 230.2L881.0 225.4L883.9 220.8L886.9 216.5L889.9 212.2L892.8 208.0L895.8 204.0L898.7 200.1L901.7 196.4L904.6 193.0L907.6 190.0L910.5 187.2L913.5 184.9L916.4 182.8L919.4 181.1L922.3 179.8L925.3 178.7L928.2 178.0L931.2 177.5L934.1 177.3L937.1 177.2L940.0 177.5L943.0 177.9L945.9 178.6L948.9 179.4L951.8 180.5L954.8 181.7L957.7 183.1L960.7 184.8L963.6 186.6L966.6 188.6L969.5 190.8L972.5 193.2L975.4 195.8L978.4 198.7L981.4 201.7L984.3 205.0L987.3 208.5L990.2 212.1L993.2 215.8L996.1 219.7L999.1 223.8L1002.0 228.0L1005.0 232.3L1007.9 236.9L1010.9 241.5L1013.8 246.4L1016.8 251.3L1019.7 256.4L1022.7 261.6L1025.6 267.0L1028.6 272.4L1031.5 277.9L1034.5 283.4L1037.4 289.1L1040.4 294.8L1043.3 300.7L1046.3 306.6L1049.2 312.5L1052.2 318.6L1055.1 324.7L1058.1 330.8L1061.0 337.0L1064.0 343.3L1067.0 349.7L1069.9 356.0L1072.9 362.5L1075.8 368.9L1078.8 375.4L1081.7 381.9L1084.7 388.4L1087.6 395.0L1090.6 401.5L1093.5 408.0L1096.5 414.6L1099.4 421.1L1102.4 427.6L1105.3 434.0L1108.3 440.4L1111.2 446.8L1114.2 453.2L1117.1 459.5L1120.1 465.8L1123.0 472.1L1126.0 478.3L1128.9 484.6L1131.9 490.7L1134.8 496.9L1137.8 503.0L1140.7 509.2L1143.7 515.2L1146.6 521.3L1149.6 527.3L1152.5 533.4L1155.5 539.4L1158.5 545.3L1161.4 551.3L1164.4 557.2L1167.3 563.1L1170.3 569.0L1173.2 574.9L1176.2 580.7L1179.1 586.6L1182.1 592.4L1185.0 598.2L1188.0 604.0L1190.9 609.7L1193.9 615.5L1196.8 621.2L1199.8 626.9L1202.7 632.6L1205.7 638.3L1208.6 643.9L1211.6 649.6L1214.5 655.2L1217.5 660.8L1220.4 666.3L1223.4 671.9L1226.3 677.4L1229.3 682.8L1232.2 688.3L1235.2 693.7L1238.1 699.1L1241.1 704.5L1244.0 709.8L1247.0 715.1L1250.0 720.4L1252.9 725.7L1255.9 730.9L1258.8 736.1L1261.8 741.2L1264.7 746.3L1267.7 751.4L1270.6 756.5L1273.6 761.5L1276.5 766.5L1279.5 771.5L1282.4 776.4L1285.4 781.3L1288.3 786.1L1291.3 791.0L1294.2 795.7L1297.2 800.5L1300.1 805.2L1303.1 809.9L1306.0 814.6L1309.0 819.3L1311.9 823.9L1314.9 828.5L1317.8 833.0L1320.8 837.6L1323.7 842.1L1326.7 846.6L1329.6 851.0L1332.6 855.4L1335.6 859.9L1338.5 864.2L1341.5 868.6L1344.4 873.0L1347.4 877.3L1350.3 881.6L1353.3 885.9L1356.2 890.1L1359.2 894.4L1362.1 898.6L1365.1 902.8L1368.0 906.9L1371.0 911.1L1373.9 915.2L1376.9 919.2L1379.8 923.2L1382.8 927.2L1385.7 931.1L1388.7 934.9L1391.6 938.8L1394.6 942.5L1397.5 946.2L1400.5 949.8L1403.4 953.4L1406.4 956.9L1409.3 960.4L1412.3 963.8L1415.2 967.1L1418.2 970.4L1421.2 973.6L1424.1 976.7L1427.1 979.8L1430.0 982.8L1433.0 985.7L1435.9 988.6L1438.9 991.4L1441.8 994.2L1444.8 996.9L1447.7 999.6L1450.7 1002.2L1453.6 1004.8L1456.6 1007.4L1459.5 1009.9L1462.5 1012.3L1465.4 1014.8L1468.4 1017.2L1471.3 1019.5L1474.3 1021.8L1477.2 1024.1L1480.2 1026.4L1483.1 1028.7L1486.1 1030.9L1489.0 1033.0L1492.0 1035.2L1494.9 1037.3L1497.9 1039.4L1500.8 1041.5L1503.8 1043.6L1506.7 1045.6L1509.7 1047.7L1512.7 1049.7L1515.6 1051.7L1518.6 1053.6L1521.5 1055.6L1524.5 1057.5L1527.4 1059.4L1530.4 1061.3L1533.3 1063.2L1536.3 1065.1L1539.2 1067.0L1542.2 1068.8L1545.1 1070.7L1548.1 1072.5L1551.0 1074.3L1554.0 1076.1L1556.9 1077.9L1559.9 1079.7L1562.8 1081.5L1565.8 1083.2L1568.7 1085.0L1571.7 1086.7L1574.6 1088.4L1577.6 1090.2L1580.5 1091.9L1583.5 1093.6L1586.4 1095.3L1589.4 1096.9L1592.3 1098.6L1595.3 1100.2L1598.2 1101.9L1601.2 1103.5L1604.2 1105.1L1607.1 1106.7L1610.1 1108.3L1613.0 1109.9L1616.0 1111.4L1618.9 1113.0L1621.9 1114.5L1624.8 1116.0L1627.8 1117.5L1630.7 1119.0L1633.7 1120.5L1636.6 1122.0L1639.6 1123.4L1642.5 1124.8L1645.5 1126.3L1648.4 1127.7L1651.4 1129.0L1654.3 1130.4L1657.3 1131.8L1660.2 1133.1L1663.2 1134.5L1666.1 1135.8L1669.1 1137.1L1672.0 1138.4L1675.0 1139.6L1677.9 1140.9L1680.9 1142.1L1683.8 1143.3L1686.8 1144.5L1689.8 1145.7L1692.7 1146.9L1695.7 1148.1L1698.6 1149.2L1701.6 1150.3L1704.5 1151.4L1707.5 1152.5L1710.4 1153.6L1713.4 1154.7L1716.3 1155.7L1719.3 1156.7L1722.2 1157.7L1725.2 1158.7L1728.1 1159.7L1731.1 1160.7L1734.0 1161.6L1737.0 1162.6L1739.9 1163.5L1742.9 1164.4L1745.8 1165.3L1748.8 1166.1L1751.7 1167.0L1754.7 1167.9L1757.6 1168.7L1760.6 1169.5L1763.5 1170.3L1766.5 1171.1L1769.4 1171.9L1772.4 1172.6L1775.3 1173.4L1778.3 1174.1L1781.3 1174.9L1784.2 1175.6L1787.2 1176.3L1790.1 1177.0L1793.1 1177.7L1796.0 1178.3L1799.0 1179.0L1801.9 1179.6L1804.9 1180.3L1807.8 1180.9L1810.8 1181.5L1813.7 1182.1L1816.7 1182.7L1819.6 1183.3L1822.6 1183.9L1825.5 1184.4L1828.5 1185.0L1831.4 1185.5L1834.4 1186.1L1837.3 1186.6L1840.3 1187.1L1843.2 1187.6L1846.2 1188.1L1849.1 1188.6L1852.1 1189.1L1855.0 1189.5L1858.0 1190.0L1860.9 1190.4L1863.9 1190.9L1866.9 1191.3L1869.8 1191.7L1872.8 1192.2L1875.7 1192.6L1878.7 1193.0L1881.6 1193.4L1884.6 1193.7L1887.5 1194.1L1890.5 1194.5L1893.4 1194.8L1896.4 1195.2L1899.3 1195.6L1902.3 1195.9L1905.2 1196.2L1908.2 1196.5L1911.1 1196.9L1914.1 1197.2L1917.0 1197.5L1920.0 1197.8L1922.9 1198.1L1925.9 1198.4L1928.8 1198.6L1931.8 1198.9L1934.7 1199.2L1937.7 1199.4L1940.6 1199.7L1943.6 1199.9L1946.5 1200.2L1949.5 1200.4L1952.5 1200.7L1955.4 1200.9L1958.4 1201.1L1961.3 1201.3L1964.3 1201.5L1967.2 1201.7L1970.2 1201.9L1973.1 1202.1L1976.1 1202.3L1979.0 1202.5L1982.0 1202.7L1984.9 1202.9L1987.9 1203.0L1990.8 1203.2L1993.8 1203.4L1996.7 1203.5L1999.7 1203.7L2002.6 1203.8L2005.6 1204.0L2008.5 1204.1L2011.5 1204.2L2014.4 1204.4L2017.4 1204.5L2020.3 1204.6L2023.3 1204.7L2026.2 1204.9L2029.2 1205.0L2032.1 1205.1L2035.1 1205.2L2038.0 1205.3L2041.0 1205.4"/>
<path stroke="#808000" d="M270.0 1217.0L273.0 1217.0L275.9 1217.0L278.9 1216.8L281.8 1216.5L284.8 1216.3L287.7 1216.0L290.7 1215.8L293.6 1215.7L296.6 1215.5L299.5 1215.3L302.5 1215.2L305.4 1215.1L308.4 1215.0L311.3 1214.9L314.3 1214.8L317.2 1214.7L320.2 1214.6L323.1 1214.6L326.1 1214.5L329.0 1214.4L332.0 1214.4L334.9 1214.4L337.9 1214.3L340.8 1214.3L343.8 1214.3L346.7 1214.3L349.7 1214.2L352.6 1214.2L355.6 1214.2L358.6 1214.2L361.5 1214.2L364.5 1214.2L367.4 1214.1L370.4 1214.1L373.3 1214.1L376.3 1214.0L379.2 1214.0L382.2 1214.0L385.1 1213.9L388.1 1213.8L391.0 1213.8L394.0 1213.7L396.9 1213.6L399.9 1213.5L402.8 1213.4L405.8 1213.3L408.7 1213.2L411.7 1213.0L414.6 1212.9L417.6 1212.7L420.5 1212.5L423.5 1212.3L426.4 1212.1L429.4 1211.8L432.3 1211.6L435.3 1211.3L438.2 1211.0L441.2 1210.7L444.1 1210.3L447.1 1210.0L450.1 1209.6L453.0 1209.2L456.0 1208.7L458.9 1208.3L461.9 1207.8L464.8 1207.3L467.8 1206.7L470.7 1206.2L473.7 1205.6L476.6 1204.9L479.6 1204.2L482.5 1203.5L485.5 1202.8L488.4 1202.0L491.4 1201.2L494.3 1200.3L497.3 1199.4L500.2 1198.5L503.2 1197.5L506.1 1196.4L509.1 1195.3L512.0 1194.2L515.0 1193.0L517.9 1191.7L520.9 1190.3L523.8 1188.9L526.8 1187.4L529.7 1185.9L532.7 1184.2L535.6 1182.5L538.6 1180.6L541.6 1178.7L544.5 1176.6L547.5 1174.5L550.4 1172.2L553.4 1169.8L556.3 1167.3L559.3 1164.7L562.2 1161.9L565.2 1159.1L568.1 1156.1L571.1 1153.0L574.0 1149.7L577.0 1146.3L579.9 1142.8L582.9 1139.1L585.8 1135.2L588.8 1131.2L591.7 1127.0L594.7 1122.7L597.6 1118.2L600.6 1113.5L603.5 1108.6L606.5 1103.6L609.4 1098.3L612.4 1092.9L615.3 1087.3L618.3 1081.5L621.2 1075.6L624.2 1069.5L627.2 1063.3L630.1 1056.9L633.1 1050.4L636.0 1043.7L639.0 1036.9L641.9 1029.9L644.9 1022.8L647.8 1015.5L650.8 1008.0L653.7 1000.3L656.7 992.4L659.6 984.4L662.6 976.2L665.5 967.7L668.5 959.1L671.4 950.3L674.4 941.2L677.3 932.0L680.3 922.6L683.2 913.0L686.2 903.1L689.1 893.2L692.1 883.0L695.0 872.7L698.0 862.2L700.9 851.6L703.9 840.9L706.8 830.1L709.8 819.1L712.8 808.0L715.7 796.9L718.7 785.6L721.6 774.2L724.6 762.8L727.5 751.2L730.5 739.6L733.4 727.9L736.4 716.2L739.3 704.4L742.3 692.6L745.2 680.8L748.2 668.9L751.1 657.1L754.1 645.2L757.0 633.4L760.0 621.6L762.9 609.8L765.9 598.1L768.8 586.4L771.8 574.9L774.7 563.3L777.7 551.9L780.6 540.6L783.6 529.3L786.5 518.2L789.5 507.1L792.4 496.2L795.4 485.4L798.3 474.7L801.3 464.2L804.3 453.8L807.2 443.5L810.2 433.3L813.1 423.3L816.1 413.4L819.0 403.6L822.0 394.0L824.9 384.5L827.9 375.2L830.8 365.9L833.8 356.8L836.7 347.9L839.7 339.0L842.6 330.3L845.6 321.7L848.5 313.3L851.5 304.9L854.4 296.7L857.4 288.6L860.3 280.7L863.3 273.3L866.2 266.3L869.2 259.8L872.1 253.8L875.1 248.4L878.0 243.4L881.0 238.7L883.9 234.2L886.9 229.9L889.9 225.7L892.8 221.6L895.8 217.6L898.7 213.8L901.7 210.2L904.6 207.0L907.6 204.0L910.5 201.4L913.5 199.1L916.4 197.2L919.4 195.6L922.3 194.3L925.3 193.3L928.2 192.6L931.2 192.2L934.1 192.0L937.1 192.0L940.0 192.3L943.0 192.8L945.9 193.5L948.9 194.3L951.8 195.4L954.8 196.7L957.7 198.1L960.7 199.7L963.6 201.5L966.6 203.5L969.5 205.7L972.5 208.1L975.4 210.8L978.4 213.6L981.4 216.6L984.3 219.9L987.3 223.3L990.2 226.8L993.2 230.5L996.1 234.4L999.1 238.4L1002.0 242.5L1005.0 246.8L1007.9 251.3L1010.9 255.9L1013.8 260.6L1016.8 265.5L1019.7 270.5L1022.7 275.6L1025.6 280.9L1028.6 286.2L1031.5 291.6L1034.5 297.1L1037.4 302.6L1040.4 308.3L1043.3 314.0L1046.3 319.8L1049.2 325.6L1052.2 331.5L1055.1 337.5L1058.1 343.6L1061.0 349.7L1064.0 355.8L1067.0 362.1L1069.9 368.3L1072.9 374.6L1075.8 381.0L1078.8 387.3L1081.7 393.7L1084.7 400.1L1087.6 406.5L1090.6 412.9L1093.5 419.3L1096.5 425.7L1099.4 432.1L1102.4 438.5L1105.3 444.8L1108.3 451.1L1111.2 457.4L1114.2 463.7L1117.1 469.9L1120.1 476.1L1123.0 482.2L1126.0 488.3L1128.9 494.4L1131.9 500.5L1134.8 506.6L1137.8 512.6L1140.7 518.6L1143.7 524.6L1146.6 530.5L1149.6 536.4L1152.5 542.3L1155.5 548.2L1158.5 554.1L1161.4 559.9L1164.4 565.8L1167.3 571.6L1170.3 577.3L1173.2 583.1L1176.2 588.8L1179.1 594.6L1182.1 600.3L1185.0 606.0L1188.0 611.7L1190.9 617.3L1193.9 623.0L1196.8 628.6L1199.8 634.2L1202.7 639.8L1205.7 645.4L1208.6 650.9L1211.6 656.4L1214.5 661.9L1217.5 667.4L1220.4 672.9L1223.4 678.3L1226.3 683.7L1229.3 689.1L1232.2 694.5L1235.2 699.8L1238.1 705.1L1241.1 710.4L1244.0 715.6L1247.0 720.8L1250.0 726.0L1252.9 731.2L1255.9 736.3L1258.8 741.4L1261.8 746.5L1264.7 751.5L1267.7 756.5L1270.6 761.5L1273.6 766.4L1276.5 771.3L1279.5 776.2L1282.4 781.0L1285.4 785.9L1288.3 790.6L1291.3 795.4L1294.2 800.1L1297.2 804.8L1300.1 809.4L1303.1 814.0L1306.0 818.6L1309.0 823.2L1311.9 827.7L1314.9 832.3L1317.8 836.7L1320.8 841.2L1323.7 845.6L1326.7 850.0L1329.6 854.4L1332.6 858.8L1335.6 863.1L1338.5 867.5L1341.5 871.7L1344.4 876.0L1347.4 880.3L1350.3 884.5L1353.3 888.7L1356.2 892.9L1359.2 897.1L1362.1 901.2L1365.1 905.3L1368.0 909.4L1371.0 913.5L1373.9 917.5L1376.9 921.5L1379.8 925.5L1382.8 929.4L1385.7 933.2L1388.7 937.1L1391.6 940.8L1394.6 944.5L1397.5 948.2L1400.5 951.8L1403.4 955.3L1406.4 958.8L1409.3 962.2L1412.3 965.6L1415.2 968.9L1418.2 972.1L1421.2 975.3L1424.1 978.4L1427.1 981.4L1430.0 984.4L1433.0 987.3L1435.9 990.2L1438.9 993.0L1441.8 995.8L1444.8 998.5L1447.7 1001.1L1450.7 1003.7L1453.6 1006.3L1456.6 1008.8L1459.5 1011.3L1462.5 1013.7L1465.4 1016.2L1468.4 1018.5L1471.3 1020.9L1474.3 1023.2L1477.2 1025.4L1480.2 1027.7L1483.1 1029.9L1486.1 1032.1L1489.0 1034.2L1492.0 1036.4L1494.9 1038.5L1497.9 1040.6L1500.8 1042.6L1503.8 1044.7L1506.7 1046.7L1509.7 1048.7L1512.7 1050.7L1515.6 1052.6L1518.6 1054.6L1521.5 1056.5L1524.5 1058.4L1527.4 1060.3L1530.4 1062.2L1533.3 1064.1L1536.3 1065.9L1539.2 1067.7L1542.2 1069.6L1545.1 1071.4L1548.1 1073.2L1551.0 1075.0L1554.0 1076.8L1556.9 1078.5L1559.9 1080.3L1562.8 1082.0L1565.8 1083.8L1568.7 1085.5L1571.7 1087.2L1574.6 1088.9L1577.6 1090.6L1580.5 1092.3L1583.5 1094.0L1586.4 1095.6L1589.4 1097.3L1592.3 1098.9L1595.3 1100.6L1598.2 1102.2L1601.2 1103.8L1604.2 1105.4L1607.1 1106.9L1610.1 1108.5L1613.0 1110.1L1616.0 1111.6L1618.9 1113.1L1621.9 1114.6L1624.8 1116.1L1627.8 1117.6L1630.7 1119.1L1633.7 1120.6L1636.6 1122.0L1639.6 1123.4L1642.5 1124.9L1645.5 1126.3L1648.4 1127.7L1651.4 1129.0L1654.3 1130.4L1657.3 1131.8L1660.2 1133.1L1663.2 1134.4L1666.1 1135.7L1669.1 1137.0L1672.0 1138.3L1675.0 1139.5L1677.9 1140.8L1680.9 1142.0L1683.8 1143.2L1686.8 1144.4L1689.8 1145.6L1692.7 1146.8L1695.7 1147.9L1698.6 1149.0L1701.6 1150.2L1704.5 1151.3L1707.5 1152.4L1710.4 1153.4L1713.4 1154.5L1716.3 1155.5L1719.3 1156.6L1722.2 1157.6L1725.2 1158.6L1728.1 1159.5L1731.1 1160.5L1734.0 1161.4L1737.0 1162.4L1739.9 1163.3L1742.9 1164.2L1745.8 1165.1L1748.8 1165.9L1751.7 1166.8L1754.7 1167.6L1757.6 1168.5L1760.6 1169.3L1763.5 1170.1L1766.5 1170.9L1769.4 1171.7L1772.4 1172.4L1775.3 1173.2L1778.3 1173.9L1781.3 1174.7L1784.2 1175.4L1787.2 1176.1L1790.1 1176.8L1793.1 1177.5L1796.0 1178.1L1799.0 1178.8L1801.9 1179.4L1804.9 1180.1L1807.8 1180.7L1810.8 1181.3L1813.7 1181.9L1816.7 1182.5L1819.6 1183.1L1822.6 1183.7L1825.5 1184.2L1828.5 1184.8L1831.4 1185.3L1834.4 1185.9L1837.3 1186.4L1840.3 1186.9L1843.2 1187.4L1846.2 1187.9L1849.1 1188.4L1852.1 1188.9L1855.0 1189.3L1858.0 1189.8L1860.9 1190.3L1863.9 1190.7L1866.9 1191.1L1869.8 1191.6L1872.8 1192.0L1875.7 1192.4L1878.7 1192.8L1881.6 1193.2L1884.6 1193.6L1887.5 1194.0L1890.5 1194.3L1893.4 1194.7L1896.4 1195.1L1899.3 1195.4L1902.3 1195.7L1905.2 1196.1L1908.2 1196.4L1911.1 1196.7L1914.1 1197.1L1917.0 1197.4L1920.0 1197.7L1922.9 1198.0L1925.9 1198.2L1928.8 1198.5L1931.8 1198.8L1934.7 1199.1L1937.7 1199.3L1940.6 1199.6L1943.6 1199.8L1946.5 1200.1L1949.5 1200.3L1952.5 1200.6L1955.4 1200.8L1958.4 1201.0L1961.3 1201.2L1964.3 1201.5L1967.2 1201.7L1970.2 1201.9L1973.1 1202.1L1976.1 1202.3L1979.0 1202.4L1982.0 1202.6L1984.9 1202.8L1987.9 1203.0L1990.8 1203.1L1993.8 1203.3L1996.7 1203.5L1999.7 1203.6L2002.6 1203.8L2005.6 1203.9L2008.5 1204.1L2011.5 1204.2L2014.4 1204.4L2017.4 1204.5L2020.3 1204.6L2023.3 1204.7L2026.2 1204.9L2029.2 1205.0L2032.1 1205.1L2035.1 1205.2L2038.0 1205.3L2041.0 1205.4"/>
<path stroke="#000080" d="M270.0 1217.0L273.0 1217.0L275.9 1217.0L278.9 1216.8L281.8 1216.5L284.8 1216.3L287.7 1216.1L290.7 1215.9L293.6 1215.7L296.6 1215.5L299.5 1215.3L302.5 1215.2L305.4 1215.1L308.4 1215.0L311.3 1214.9L314.3 1214.8L317.2 1214.7L320.2 1214.6L323.1 1214.6L326.1 1214.5L329.0 1214.5L332.0 1214.4L334.9 1214.4L337.9 1214.3L340.8 1214.3L343.8 1214.3L346.7 1214.3L349.7 1214.3L352.6 1214.2L355.6 1214.2L358.6 1214.2L361.5 1214.2L364.5 1214.2L367.4 1214.1L370.4 1214.1L373.3 1214.1L376.3 1214.0L379.2 1214.0L382.2 1214.0L385.1 1213.9L388.1 1213.9L391.0 1213.8L394.0 1213.7L396.9 1213.6L399.9 1213.5L402.8 1213.4L405.8 1213.3L408.7 1213.2L411.7 1213.0L414.6 1212.9L417.6 1212.7L420.5 1212.5L423.5 1212.3L426.4 1212.1L429.4 1211.8L432.3 1211.6L435.3 1211.3L438.2 1211.0L441.2 1210.7L444.1 1210.4L447.1 1210.0L450.1 1209.6L453.0 1209.2L456.0 1208.8L458.9 1208.3L461.9 1207.8L464.8 1207.3L467.8 1206.8L470.7 1206.2L473.7 1205.6L476.6 1205.0L479.6 1204.3L482.5 1203.6L485.5 1202.8L488.4 1202.1L491.4 1201.2L494.3 1200.4L497.3 1199.5L500.2 1198.5L503.2 1197.5L506.1 1196.5L509.1 1195.4L512.0 1194.3L515.0 1193.0L517.9 1191.8L520.9 1190.4L523.8 1189.0L526.8 1187.5L529.7 1186.0L532.7 1184.3L535.6 1182.6L538.6 1180.7L541.6 1178.8L544.5 1176.7L547.5 1174.6L550.4 1172.3L553.4 1169.9L556.3 1167.5L559.3 1164.8L562.2 1162.1L565.2 1159.3L568.1 1156.3L571.1 1153.2L574.0 1149.9L577.0 1146.5L579.9 1143.0L582.9 1139.3L585.8 1135.5L588.8 1131.5L591.7 1127.3L594.7 1123.0L597.6 1118.5L600.6 1113.8L603.5 1109.0L606.5 1103.9L609.4 1098.7L612.4 1093.3L615.3 1087.7L618.3 1082.0L621.2 1076.0L624.2 1070.0L627.2 1063.8L630.1 1057.4L633.1 1050.9L636.0 1044.3L639.0 1037.5L641.9 1030.5L644.9 1023.4L647.8 1016.1L650.8 1008.6L653.7 1001.0L656.7 993.1L659.6 985.1L662.6 976.9L665.5 968.5L668.5 959.9L671.4 951.1L674.4 942.1L677.3 932.9L680.3 923.5L683.2 913.9L686.2 904.1L689.1 894.1L692.1 884.0L695.0 873.7L698.0 863.3L700.9 852.7L703.9 842.1L706.8 831.3L709.8 820.3L712.8 809.3L715.7 798.2L718.7 786.9L721.6 775.6L724.6 764.2L727.5 752.6L730.5 741.1L733.4 729.4L736.4 717.7L739.3 706.0L742.3 694.2L745.2 682.4L748.2 670.6L751.1 658.8L754.1 647.0L757.0 635.2L760.0 623.4L762.9 611.7L765.9 600.0L768.8 588.4L771.8 576.8L774.7 565.3L777.7 553.9L780.6 542.6L783.6 531.4L786.5 520.3L789.5 509.3L792.4 498.4L795.4 487.7L798.3 477.0L801.3 466.5L804.3 456.1L807.2 445.9L810.2 435.7L813.1 425.7L816.1 415.9L819.0 406.1L822.0 396.5L824.9 387.1L827.9 377.7L830.8 368.5L833.8 359.5L836.7 350.5L839.7 341.7L842.6 333.0L845.6 324.5L848.5 316.0L851.5 307.7L854.4 299.5L857.4 291.4L860.3 283.6L863.3 276.2L866.2 269.2L869.2 262.7L872.1 256.8L875.1 251.4L878.0 246.4L881.0 241.7L883.9 237.2L886.9 232.9L889.9 228.8L892.8 224.7L895.8 220.7L898.7 216.9L901.7 213.3L904.6 210.1L907.6 207.1L910.5 204.5L913.5 202.2L916.4 200.3L919.4 198.7L922.3 197.4L925.3 196.5L928.2 195.8L931.2 195.3L934.1 195.1L937.1 195.2L940.0 195.4L943.0 195.9L945.9 196.6L948.9 197.5L951.8 198.6L954.8 199.8L957.7 201.2L960.7 202.9L963.6 204.7L966.6 206.6L969.5 208.8L972.5 211.2L975.4 213.8L978.4 216.7L981.4 219.7L984.3 222.9L987.3 226.3L990.2 229.9L993.2 233.6L996.1 237.4L999.1 241.4L1002.0 245.5L1005.0 249.8L1007.9 254.2L1010.9 258.8L1013.8 263.6L1016.8 268.4L1019.7 273.4L1022.7 278.5L1025.6 283.7L1028.6 289.0L1031.5 294.4L1034.5 299.9L1037.4 305.4L1040.4 311.0L1043.3 316.7L1046.3 322.5L1049.2 328.3L1052.2 334.3L1055.1 340.2L1058.1 346.3L1061.0 352.3L1064.0 358.5L1067.0 364.7L1069.9 370.9L1072.9 377.2L1075.8 383.5L1078.8 389.9L1081.7 396.2L1084.7 402.6L1087.6 409.0L1090.6 415.4L1093.5 421.8L1096.5 428.2L1099.4 434.5L1102.4 440.9L1105.3 447.2L1108.3 453.5L1111.2 459.7L1114.2 466.0L1117.1 472.2L1120.1 478.3L1123.0 484.5L1126.0 490.6L1128.9 496.7L1131.9 502.7L1134.8 508.7L1137.8 514.7L1140.7 520.7L1143.7 526.7L1146.6 532.6L1149.6 538.5L1152.5 544.4L1155.5 550.3L1158.5 556.1L1161.4 561.9L1164.4 567.7L1167.3 573.5L1170.3 579.3L1173.2 585.0L1176.2 590.8L1179.1 596.5L1182.1 602.2L1185.0 607.9L1188.0 613.5L1190.9 619.2L1193.9 624.8L1196.8 630.4L1199.8 636.0L1202.7 641.6L1205.7 647.1L1208.6 652.6L1211.6 658.2L1214.5 663.6L1217.5 669.1L1220.4 674.5L1223.4 680.0L1226.3 685.4L1229.3 690.7L1232.2 696.1L1235.2 701.4L1238.1 706.7L1241.1 711.9L1244.0 717.2L1247.0 722.4L1250.0 727.5L1252.9 732.7L1255.9 737.8L1258.8 742.9L1261.8 747.9L1264.7 752.9L1267.7 757.9L1270.6 762.9L1273.6 767.8L1276.5 772.7L1279.5 777.6L1282.4 782.4L1285.4 787.2L1288.3 791.9L1291.3 796.7L1294.2 801.4L1297.2 806.0L1300.1 810.7L1303.1 815.3L1306.0 819.9L1309.0 824.4L1311.9 828.9L1314.9 833.4L1317.8 837.9L1320.8 842.4L1323.7 846.8L1326.7 851.2L1329.6 855.5L1332.6 859.9L1335.6 864.2L1338.5 868.5L1341.5 872.8L1344.4 877.1L1347.4 881.3L1350.3 885.5L1353.3 889.7L1356.2 893.9L1359.2 898.0L1362.1 902.2L1365.1 906.3L1368.0 910.4L1371.0 914.4L1373.9 918.4L1376.9 922.4L1379.8 926.4L1382.8 930.3L1385.7 934.1L1388.7 937.9L1391.6 941.7L1394.6 945.4L1397.5 949.0L1400.5 952.6L1403.4 956.1L1406.4 959.6L1409.3 963.0L1412.3 966.4L1415.2 969.6L1418.2 972.9L1421.2 976.0L1424.1 979.1L1427.1 982.2L1430.0 985.1L1433.0 988.0L1435.9 990.9L1438.9 993.7L1441.8 996.4L1444.8 999.1L1447.7 1001.8L1450.7 1004.4L1453.6 1006.9L1456.6 1009.5L1459.5 1011.9L1462.5 1014.4L1465.4 1016.8L1468.4 1019.1L1471.3 1021.5L1474.3 1023.8L1477.2 1026.0L1480.2 1028.3L1483.1 1030.5L1486.1 1032.7L1489.0 1034.8L1492.0 1036.9L1494.9 1039.0L1497.9 1041.1L1500.8 1043.2L1503.8 1045.2L1506.7 1047.2L1509.7 1049.2L1512.7 1051.2L1515.6 1053.1L1518.6 1055.1L1521.5 1057.0L1524.5 1058.9L1527.4 1060.8L1530.4 1062.7L1533.3 1064.5L1536.3 1066.4L1539.2 1068.2L1542.2 1070.0L1545.1 1071.8L1548.1 1073.6L1551.0 1075.4L1554.0 1077.2L1556.9 1078.9L1559.9 1080.7L1562.8 1082.4L1565.8 1084.2L1568.7 1085.9L1571.7 1087.6L1574.6 1089.3L1577.6 1091.0L1580.5 1092.7L1583.5 1094.4L1586.4 1096.0L1589.4 1097.7L1592.3 1099.3L1595.3 1100.9L1598.2 1102.5L1601.2 1104.1L1604.2 1105.7L1607.1 1107.3L1610.1 1108.8L1613.0 1110.4L1616.0 1111.9L1618.9 1113.4L1621.9 1115.0L1624.8 1116.5L1627.8 1117.9L1630.7 1119.4L1633.7 1120.9L1636.6 1122.3L1639.6 1123.7L1642.5 1125.2L1645.5 1126.6L1648.4 1127.9L1651.4 1129.3L1654.3 1130.7L1657.3 1132.0L1660.2 1133.3L1663.2 1134.7L1666.1 1136.0L1669.1 1137.2L1672.0 1138.5L1675.0 1139.8L1677.9 1141.0L1680.9 1142.2L1683.8 1143.4L1686.8 1144.6L1689.8 1145.8L1692.7 1147.0L1695.7 1148.1L1698.6 1149.3L1701.6 1150.4L1704.5 1151.5L1707.5 1152.6L1710.4 1153.6L1713.4 1154.7L1716.3 1155.7L1719.3 1156.7L1722.2 1157.7L1725.2 1158.7L1728.1 1159.7L1731.1 1160.7L1734.0 1161.6L1737.0 1162.5L1739.9 1163.4L1742.9 1164.3L1745.8 1165.2L1748.8 1166.1L1751.7 1167.0L1754.7 1167.8L1757.6 1168.6L1760.6 1169.4L1763.5 1170.2L1766.5 1171.0L1769.4 1171.8L1772.4 1172.6L1775.3 1173.3L1778.3 1174.1L1781.3 1174.8L1784.2 1175.5L1787.2 1176.2L1790.1 1176.9L1793.1 1177.6L1796.0 1178.3L1799.0 1178.9L1801.9 1179.6L1804.9 1180.2L1807.8 1180.8L1810.8 1181.4L1813.7 1182.0L1816.7 1182.6L1819.6 1183.2L1822.6 1183.8L1825.5 1184.3L1828.5 1184.9L1831.4 1185.4L1834.4 1186.0L1837.3 1186.5L1840.3 1187.0L1843.2 1187.5L1846.2 1188.0L1849.1 1188.5L1852.1 1189.0L1855.0 1189.4L1858.0 1189.9L1860.9 1190.3L1863.9 1190.8L1866.9 1191.2L1869.8 1191.6L1872.8 1192.1L1875.7 1192.5L1878.7 1192.9L1881.6 1193.3L1884.6 1193.7L1887.5 1194.0L1890.5 1194.4L1893.4 1194.8L1896.4 1195.1L1899.3 1195.5L1902.3 1195.8L1905.2 1196.1L1908.2 1196.5L1911.1 1196.8L1914.1 1197.1L1917.0 1197.4L1920.0 1197.7L1922.9 1198.0L1925.9 1198.3L1928.8 1198.6L1931.8 1198.9L1934.7 1199.1L1937.7 1199.4L1940.6 1199.6L1943.6 1199.9L1946.5 1200.1L1949.5 1200.4L1952.5 1200.6L1955.4 1200.8L1958.4 1201.1L1961.3 1201.3L1964.3 1201.5L1967.2 1201.7L1970.2 1201.9L1973.1 1202.1L1976.1 1202.3L1979.0 1202.5L1982.0 1202.7L1984.9 1202.8L1987.9 1203.0L1990.8 1203.2L1993.8 1203.4L1996.7 1203.5L1999.7 1203.7L2002.6 1203.8L2005.6 1204.0L2008.5 1204.1L2011.5 1204.3L2014.4 1204.4L2017.4 1204.5L2020.3 1204.6L2023.3 1204.8L2026.2 1204.9L2029.2 1205.0L2032.1 1205.1L2035.1 1205.2L2038.0 1205.3L2041.0 1205.4"/>
<path stroke="#800080" d="M270.0 1217.0L273.0 1217.0L275.9 1217.0L278.9 1216.8L281.8 1216.5L284.8 1216.3L287.7 1216.1L290.7 1215.9L293.6 1215.7L296.6 1215.5L299.5 1215.4L302.5 1215.3L305.4 1215.1L308.4 1215.0L311.3 1214.9L314.3 1214.8L317.2 1214.7L320.2 1214.7L323.1 1214.6L326.1 1214.5L329.0 1214.5L332.0 1214.5L334.9 1214.4L337.9 1214.4L340.8 1214.4L343.8 1214.3L346.7 1214.3L349.7 1214.3L352.6 1214.3L355.6 1214.3L358.6 1214.2L361.5 1214.2L364.5 1214.2L367.4 1214.2L370.4 1214.1L373.3 1214.1L376.3 1214.1L379.2 1214.1L382.2 1214.0L385.1 1214.0L388.1 1213.9L391.0 1213.8L394.0 1213.8L396.9 1213.7L399.9 1213.6L402.8 1213.5L405.8 1213.4L408.7 1213.2L411.7 1213.1L414.6 1212.9L417.6 1212.8L420.5 1212.6L423.5 1212.4L426.4 1212.2L429.4 1211.9L432.3 1211.7L435.3 1211.4L438.2 1211.1L441.2 1210.8L444.1 1210.5L447.1 1210.1L450.1 1209.8L453.0 1209.4L456.0 1208.9L458.9 1208.5L461.9 1208.0L464.8 1207.5L467.8 1207.0L470.7 1206.4L473.7 1205.8L476.6 1205.2L479.6 1204.6L482.5 1203.9L485.5 1203.1L488.4 1202.4L491.4 1201.6L494.3 1200.7L497.3 1199.9L500.2 1198.9L503.2 1198.0L506.1 1196.9L509.1 1195.9L512.0 1194.7L515.0 1193.5L517.9 1192.3L520.9 1191.0L523.8 1189.6L526.8 1188.1L529.7 1186.6L532.7 1185.0L535.6 1183.3L538.6 1181.5L541.6 1179.6L544.5 1177.6L547.5 1175.5L550.4 1173.2L553.4 1170.9L556.3 1168.5L559.3 1165.9L562.2 1163.2L565.2 1160.4L568.1 1157.5L571.1 1154.5L574.0 1151.3L577.0 1147.9L579.9 1144.5L582.9 1140.9L585.8 1137.1L588.8 1133.2L591.7 1129.1L594.7 1124.9L597.6 1120.5L600.6 1115.9L603.5 1111.1L606.5 1106.2L609.4 1101.0L612.4 1095.7L615.3 1090.2L618.3 1084.6L621.2 1078.7L624.2 1072.8L627.2 1066.7L630.1 1060.4L633.1 1054.0L636.0 1047.5L639.0 1040.8L641.9 1034.0L644.9 1026.9L647.8 1019.8L650.8 1012.4L653.7 1004.9L656.7 997.2L659.6 989.3L662.6 981.2L665.5 972.9L668.5 964.4L671.4 955.8L674.4 946.9L677.3 937.9L680.3 928.6L683.2 919.2L686.2 909.5L689.1 899.7L692.1 889.7L695.0 879.6L698.0 869.3L700.9 858.9L703.9 848.4L706.8 837.7L709.8 826.9L712.8 816.1L715.7 805.1L718.7 794.0L721.6 782.8L724.6 771.5L727.5 760.2L730.5 748.7L733.4 737.2L736.4 725.7L739.3 714.1L742.3 702.5L745.2 690.8L748.2 679.1L751.1 667.5L754.1 655.8L757.0 644.1L760.0 632.5L762.9 620.9L765.9 609.3L768.8 597.8L771.8 586.4L774.7 575.0L777.7 563.8L780.6 552.6L783.6 541.5L786.5 530.5L789.5 519.6L792.4 508.8L795.4 498.2L798.3 487.6L801.3 477.2L804.3 466.9L807.2 456.7L810.2 446.7L813.1 436.8L816.1 427.0L819.0 417.4L822.0 407.9L824.9 398.5L827.9 389.3L830.8 380.2L833.8 371.2L836.7 362.3L839.7 353.6L842.6 345.0L845.6 336.5L848.5 328.1L851.5 319.9L854.4 311.8L857.4 303.8L860.3 296.0L863.3 288.5L866.2 281.5L869.2 275.1L872.1 269.1L875.1 263.6L878.0 258.6L881.0 253.9L883.9 249.5L886.9 245.2L889.9 241.1L892.8 237.0L895.8 233.1L898.7 229.3L901.7 225.7L904.6 222.4L907.6 219.4L910.5 216.8L913.5 214.5L916.4 212.5L919.4 210.9L922.3 209.6L925.3 208.6L928.2 207.8L931.2 207.4L934.1 207.1L937.1 207.1L940.0 207.3L943.0 207.8L945.9 208.4L948.9 209.2L951.8 210.3L954.8 211.5L957.7 212.9L960.7 214.4L963.6 216.2L966.6 218.1L969.5 220.3L972.5 222.6L975.4 225.2L978.4 228.0L981.4 231.0L984.3 234.1L987.3 237.5L990.2 241.0L993.2 244.6L996.1 248.4L999.1 252.3L1002.0 256.4L1005.0 260.6L1007.9 265.0L1010.9 269.6L1013.8 274.2L1016.8 279.1L1019.7 284.0L1022.7 289.1L1025.6 294.2L1028.6 299.5L1031.5 304.8L1034.5 310.2L1037.4 315.7L1040.4 321.3L1043.3 326.9L1046.3 332.6L1049.2 338.4L1052.2 344.3L1055.1 350.2L1058.1 356.2L1061.0 362.2L1064.0 368.3L1067.0 374.4L1069.9 380.6L1072.9 386.9L1075.8 393.1L1078.8 399.4L1081.7 405.7L1084.7 412.0L1087.6 418.4L1090.6 424.7L1093.5 431.1L1096.5 437.4L1099.4 443.7L1102.4 450.0L1105.3 456.3L1108.3 462.5L1111.2 468.7L1114.2 474.9L1117.1 481.0L1120.1 487.1L1123.0 493.2L1126.0 499.3L1128.9 505.3L1131.9 511.3L1134.8 517.3L1137.8 523.3L1140.7 529.2L1143.7 535.1L1146.6 541.0L1149.6 546.8L1152.5 552.7L1155.5 558.5L1158.5 564.3L1161.4 570.1L1164.4 575.8L1167.3 581.5L1170.3 587.3L1173.2 593.0L1176.2 598.6L1179.1 604.3L1182.1 609.9L1185.0 615.6L1188.0 621.2L1190.9 626.8L1193.9 632.4L1196.8 637.9L1199.8 643.5L1202.7 649.0L1205.7 654.5L1208.6 660.0L1211.6 665.4L1214.5 670.9L1217.5 676.3L1220.4 681.7L1223.4 687.1L1226.3 692.4L1229.3 697.7L1232.2 703.0L1235.2 708.3L1238.1 713.5L1241.1 718.7L1244.0 723.9L1247.0 729.1L1250.0 734.2L1252.9 739.3L1255.9 744.3L1258.8 749.4L1261.8 754.4L1264.7 759.4L1267.7 764.3L1270.6 769.2L1273.6 774.1L1276.5 778.9L1279.5 783.7L1282.4 788.5L1285.4 793.3L1288.3 798.0L1291.3 802.7L1294.2 807.3L1297.2 811.9L1300.1 816.5L1303.1 821.1L1306.0 825.6L1309.0 830.1L1311.9 834.6L1314.9 839.1L1317.8 843.5L1320.8 847.9L1323.7 852.3L1326.7 856.6L1329.6 861.0L1332.6 865.3L1335.6 869.6L1338.5 873.8L1341.5 878.1L1344.4 882.3L1347.4 886.5L1350.3 890.6L1353.3 894.8L1356.2 898.9L1359.2 903.1L1362.1 907.1L1365.1 911.2L1368.0 915.3L1371.0 919.3L1373.9 923.2L1376.9 927.2L1379.8 931.1L1382.8 934.9L1385.7 938.7L1388.7 942.5L1391.6 946.2L1394.6 949.8L1397.5 953.4L1400.5 957.0L1403.4 960.4L1406.4 963.9L1409.3 967.2L1412.3 970.5L1415.2 973.7L1418.2 976.9L1421.2 980.0L1424.1 983.1L1427.1 986.1L1430.0 989.0L1433.0 991.9L1435.9 994.7L1438.9 997.4L1441.8 1000.1L1444.8 1002.8L1447.7 1005.4L1450.7 1007.9L1453.6 1010.5L1456.6 1012.9L1459.5 1015.4L1462.5 1017.8L1465.4 1020.1L1468.4 1022.5L1471.3 1024.8L1474.3 1027.0L1477.2 1029.3L1480.2 1031.5L1483.1 1033.6L1486.1 1035.8L1489.0 1037.9L1492.0 1040.0L1494.9 1042.1L1497.9 1044.1L1500.8 1046.2L1503.8 1048.2L1506.7 1050.2L1509.7 1052.1L1512.7 1054.1L1515.6 1056.0L1518.6 1057.9L1521.5 1059.8L1524.5 1061.7L1527.4 1063.6L1530.4 1065.4L1533.3 1067.3L1536.3 1069.1L1539.2 1070.9L1542.2 1072.7L1545.1 1074.5L1548.1 1076.2L1551.0 1078.0L1554.0 1079.8L1556.9 1081.5L1559.9 1083.2L1562.8 1085.0L1565.8 1086.7L1568.7 1088.4L1571.7 1090.1L1574.6 1091.8L1577.6 1093.4L1580.5 1095.1L1583.5 1096.7L1586.4 1098.4L1589.4 1100.0L1592.3 1101.6L1595.3 1103.2L1598.2 1104.8L1601.2 1106.4L1604.2 1107.9L1607.1 1109.5L1610.1 1111.0L1613.0 1112.6L1616.0 1114.1L1618.9 1115.6L1621.9 1117.1L1624.8 1118.6L1627.8 1120.0L1630.7 1121.5L1633.7 1122.9L1636.6 1124.3L1639.6 1125.7L1642.5 1127.1L1645.5 1128.5L1648.4 1129.9L1651.4 1131.2L1654.3 1132.6L1657.3 1133.9L1660.2 1135.2L1663.2 1136.5L1666.1 1137.8L1669.1 1139.0L1672.0 1140.3L1675.0 1141.5L1677.9 1142.7L1680.9 1143.9L1683.8 1145.1L1686.8 1146.3L1689.8 1147.5L1692.7 1148.6L1695.7 1149.7L1698.6 1150.8L1701.6 1151.9L1704.5 1153.0L1707.5 1154.1L1710.4 1155.1L1713.4 1156.2L1716.3 1157.2L1719.3 1158.2L1722.2 1159.2L1725.2 1160.1L1728.1 1161.1L1731.1 1162.0L1734.0 1162.9L1737.0 1163.9L1739.9 1164.8L1742.9 1165.6L1745.8 1166.5L1748.8 1167.4L1751.7 1168.2L1754.7 1169.0L1757.6 1169.8L1760.6 1170.6L1763.5 1171.4L1766.5 1172.2L1769.4 1172.9L1772.4 1173.7L1775.3 1174.4L1778.3 1175.2L1781.3 1175.9L1784.2 1176.6L1787.2 1177.3L1790.1 1177.9L1793.1 1178.6L1796.0 1179.2L1799.0 1179.9L1801.9 1180.5L1804.9 1181.1L1807.8 1181.7L1810.8 1182.3L1813.7 1182.9L1816.7 1183.5L1819.6 1184.1L1822.6 1184.6L1825.5 1185.2L1828.5 1185.7L1831.4 1186.3L1834.4 1186.8L1837.3 1187.3L1840.3 1187.8L1843.2 1188.3L1846.2 1188.8L1849.1 1189.2L1852.1 1189.7L1855.0 1190.2L1858.0 1190.6L1860.9 1191.1L1863.9 1191.5L1866.9 1191.9L1869.8 1192.3L1872.8 1192.7L1875.7 1193.1L1878.7 1193.5L1881.6 1193.9L1884.6 1194.3L1887.5 1194.6L1890.5 1195.0L1893.4 1195.4L1896.4 1195.7L1899.3 1196.0L1902.3 1196.4L1905.2 1196.7L1908.2 1197.0L1911.1 1197.3L1914.1 1197.6L1917.0 1197.9L1920.0 1198.2L1922.9 1198.5L1925.9 1198.8L1928.8 1199.1L1931.8 1199.3L1934.7 1199.6L1937.7 1199.9L1940.6 1200.1L1943.6 1200.3L1946.5 1200.6L1949.5 1200.8L1952.5 1201.0L1955.4 1201.3L1958.4 1201.5L1961.3 1201.7L1964.3 1201.9L1967.2 1202.1L1970.2 1202.3L1973.1 1202.5L1976.1 1202.7L1979.0 1202.8L1982.0 1203.0L1984.9 1203.2L1987.9 1203.4L1990.8 1203.5L1993.8 1203.7L1996.7 1203.8L1999.7 1204.0L2002.6 1204.1L2005.6 1204.3L2008.5 1204.4L2011.5 1204.5L2014.4 1204.7L2017.4 1204.8L2020.3 1204.9L2023.3 1205.0L2026.2 1205.2L2029.2 1205.3L2032.1 1205.4L2035.1 1205.5L2038.0 1205.6L2041.0 1205.7"/>
<path stroke="#800000" d="M270.0 1217.0L273.0 1217.0L275.9 1216.9L278.9 1216.6L281.8 1216.4L284.8 1216.2L287.7 1216.0L290.7 1215.8L293.6 1215.6L296.6 1215.5L299.5 1215.3L302.5 1215.2L305.4 1215.1L308.4 1215.0L311.3 1214.9L314.3 1214.8L317.2 1214.7L320.2 1214.7L323.1 1214.6L326.1 1214.6L329.0 1214.5L332.0 1214.5L334.9 1214.4L337.9 1214.4L340.8 1214.4L343.8 1214.4L346.7 1214.3L349.7 1214.3L352.6 1214.3L355.6 1214.3L358.6 1214.3L361.5 1214.3L364.5 1214.2L367.4 1214.2L370.4 1214.2L373.3 1214.2L376.3 1214.1L379.2 1214.1L382.2 1214.0L385.1 1214.0L388.1 1213.9L391.0 1213.9L394.0 1213.8L396.9 1213.7L399.9 1213.6L402.8 1213.5L405.8 1213.4L408.7 1213.2L411.7 1213.1L414.6 1212.9L417.6 1212.8L420.5 1212.6L423.5 1212.4L426.4 1212.2L429.4 1211.9L432.3 1211.7L435.3 1211.4L438.2 1211.1L441.2 1210.8L444.1 1210.5L447.1 1210.1L450.1 1209.8L453.0 1209.4L456.0 1208.9L458.9 1208.5L461.9 1208.0L464.8 1207.5L467.8 1207.0L470.7 1206.4L473.7 1205.8L476.6 1205.2L479.6 1204.6L482.5 1203.9L485.5 1203.2L488.4 1202.4L491.4 1201.6L494.3 1200.8L497.3 1199.9L500.2 1199.0L503.2 1198.0L506.1 1197.0L509.1 1195.9L512.0 1194.8L515.0 1193.6L517.9 1192.4L520.9 1191.1L523.8 1189.7L526.8 1188.3L529.7 1186.8L532.7 1185.2L535.6 1183.5L538.6 1181.7L541.6 1179.8L544.5 1177.9L547.5 1175.8L550.4 1173.6L553.4 1171.3L556.3 1168.9L559.3 1166.4L562.2 1163.7L565.2 1161.0L568.1 1158.1L571.1 1155.1L574.0 1151.9L577.0 1148.7L579.9 1145.3L582.9 1141.7L585.8 1138.0L588.8 1134.2L591.7 1130.2L594.7 1126.0L597.6 1121.7L600.6 1117.1L603.5 1112.5L606.5 1107.6L609.4 1102.6L612.4 1097.4L615.3 1092.0L618.3 1086.4L621.2 1080.7L624.2 1074.9L627.2 1068.9L630.1 1062.8L633.1 1056.5L636.0 1050.1L639.0 1043.6L641.9 1036.8L644.9 1030.0L647.8 1022.9L650.8 1015.8L653.7 1008.4L656.7 1000.8L659.6 993.1L662.6 985.2L665.5 977.1L668.5 968.8L671.4 960.3L674.4 951.7L677.3 942.8L680.3 933.8L683.2 924.5L686.2 915.1L689.1 905.5L692.1 895.8L695.0 885.8L698.0 875.8L700.9 865.6L703.9 855.3L706.8 844.9L709.8 834.3L712.8 823.7L715.7 812.9L718.7 802.1L721.6 791.1L724.6 780.1L727.5 769.0L730.5 757.8L733.4 746.6L736.4 735.3L739.3 723.9L742.3 712.5L745.2 701.1L748.2 689.7L751.1 678.3L754.1 666.8L757.0 655.4L760.0 644.0L762.9 632.6L765.9 621.3L768.8 610.0L771.8 598.8L774.7 587.7L777.7 576.6L780.6 565.6L783.6 554.7L786.5 544.0L789.5 533.3L792.4 522.7L795.4 512.2L798.3 501.9L801.3 491.6L804.3 481.5L807.2 471.5L810.2 461.7L813.1 451.9L816.1 442.3L819.0 432.8L822.0 423.5L824.9 414.3L827.9 405.2L830.8 396.2L833.8 387.4L836.7 378.6L839.7 370.0L842.6 361.6L845.6 353.2L848.5 345.0L851.5 336.9L854.4 328.9L857.4 321.0L860.3 313.3L863.3 305.8L866.2 298.8L869.2 292.3L872.1 286.2L875.1 280.7L878.0 275.6L881.0 270.9L883.9 266.5L886.9 262.3L889.9 258.1L892.8 254.1L895.8 250.2L898.7 246.4L901.7 242.8L904.6 239.5L907.6 236.4L910.5 233.7L913.5 231.3L916.4 229.2L919.4 227.4L922.3 226.0L925.3 224.9L928.2 224.0L931.2 223.4L934.1 223.1L937.1 223.0L940.0 223.1L943.0 223.4L945.9 223.9L948.9 224.7L951.8 225.6L954.8 226.7L957.7 228.0L960.7 229.5L963.6 231.1L966.6 233.0L969.5 235.0L972.5 237.2L975.4 239.7L978.4 242.3L981.4 245.2L984.3 248.2L987.3 251.5L990.2 254.9L993.2 258.4L996.1 262.1L999.1 265.9L1002.0 269.9L1005.0 274.0L1007.9 278.3L1010.9 282.7L1013.8 287.3L1016.8 292.0L1019.7 296.8L1022.7 301.8L1025.6 306.8L1028.6 312.0L1031.5 317.2L1034.5 322.6L1037.4 328.0L1040.4 333.4L1043.3 339.0L1046.3 344.6L1049.2 350.3L1052.2 356.1L1055.1 361.9L1058.1 367.8L1061.0 373.7L1064.0 379.7L1067.0 385.8L1069.9 391.9L1072.9 398.0L1075.8 404.2L1078.8 410.4L1081.7 416.7L1084.7 422.9L1087.6 429.2L1090.6 435.4L1093.5 441.7L1096.5 448.0L1099.4 454.2L1102.4 460.4L1105.3 466.6L1108.3 472.8L1111.2 478.9L1114.2 485.1L1117.1 491.1L1120.1 497.2L1123.0 503.2L1126.0 509.2L1128.9 515.2L1131.9 521.1L1134.8 527.0L1137.8 532.9L1140.7 538.8L1143.7 544.6L1146.6 550.4L1149.6 556.2L1152.5 562.0L1155.5 567.8L1158.5 573.5L1161.4 579.2L1164.4 584.9L1167.3 590.6L1170.3 596.2L1173.2 601.9L1176.2 607.5L1179.1 613.1L1182.1 618.7L1185.0 624.2L1188.0 629.8L1190.9 635.3L1193.9 640.8L1196.8 646.3L1199.8 651.8L1202.7 657.3L1205.7 662.7L1208.6 668.1L1211.6 673.5L1214.5 678.9L1217.5 684.3L1220.4 689.6L1223.4 694.9L1226.3 700.2L1229.3 705.5L1232.2 710.7L1235.2 715.9L1238.1 721.1L1241.1 726.2L1244.0 731.3L1247.0 736.4L1250.0 741.5L1252.9 746.5L1255.9 751.6L1258.8 756.5L1261.8 761.5L1264.7 766.4L1267.7 771.3L1270.6 776.1L1273.6 781.0L1276.5 785.7L1279.5 790.5L1282.4 795.2L1285.4 799.9L1288.3 804.6L1291.3 809.2L1294.2 813.8L1297.2 818.4L1300.1 822.9L1303.1 827.4L1306.0 831.9L1309.0 836.4L1311.9 840.8L1314.9 845.2L1317.8 849.6L1320.8 853.9L1323.7 858.2L1326.7 862.5L1329.6 866.8L1332.6 871.1L1335.6 875.3L1338.5 879.5L1341.5 883.7L1344.4 887.9L1347.4 892.0L1350.3 896.1L1353.3 900.3L1356.2 904.3L1359.2 908.4L1362.1 912.4L1365.1 916.5L1368.0 920.5L1371.0 924.4L1373.9 928.3L1376.9 932.2L1379.8 936.1L1382.8 939.9L1385.7 943.6L1388.7 947.3L1391.6 951.0L1394.6 954.6L1397.5 958.1L1400.5 961.6L1403.4 965.0L1406.4 968.4L1409.3 971.7L1412.3 975.0L1415.2 978.1L1418.2 981.3L1421.2 984.3L1424.1 987.3L1427.1 990.3L1430.0 993.2L1433.0 996.0L1435.9 998.7L1438.9 1001.5L1441.8 1004.1L1444.8 1006.7L1447.7 1009.3L1450.7 1011.8L1453.6 1014.3L1456.6 1016.7L1459.5 1019.1L1462.5 1021.5L1465.4 1023.8L1468.4 1026.1L1471.3 1028.4L1474.3 1030.6L1477.2 1032.8L1480.2 1035.0L1483.1 1037.1L1486.1 1039.2L1489.0 1041.3L1492.0 1043.4L1494.9 1045.4L1497.9 1047.5L1500.8 1049.5L1503.8 1051.4L1506.7 1053.4L1509.7 1055.3L1512.7 1057.3L1515.6 1059.2L1518.6 1061.1L1521.5 1062.9L1524.5 1064.8L1527.4 1066.6L1530.4 1068.4L1533.3 1070.2L1536.3 1072.0L1539.2 1073.8L1542.2 1075.6L1545.1 1077.4L1548.1 1079.1L1551.0 1080.9L1554.0 1082.6L1556.9 1084.3L1559.9 1086.0L1562.8 1087.7L1565.8 1089.4L1568.7 1091.1L1571.7 1092.7L1574.6 1094.4L1577.6 1096.1L1580.5 1097.7L1583.5 1099.3L1586.4 1100.9L1589.4 1102.5L1592.3 1104.1L1595.3 1105.7L1598.2 1107.3L1601.2 1108.8L1604.2 1110.4L1607.1 1111.9L1610.1 1113.4L1613.0 1114.9L1616.0 1116.4L1618.9 1117.9L1621.9 1119.3L1624.8 1120.8L1627.8 1122.2L1630.7 1123.7L1633.7 1125.1L1636.6 1126.5L1639.6 1127.9L1642.5 1129.2L1645.5 1130.6L1648.4 1131.9L1651.4 1133.3L1654.3 1134.6L1657.3 1135.9L1660.2 1137.2L1663.2 1138.4L1666.1 1139.7L1669.1 1140.9L1672.0 1142.2L1675.0 1143.4L1677.9 1144.6L1680.9 1145.7L1683.8 1146.9L1686.8 1148.1L1689.8 1149.2L1692.7 1150.3L1695.7 1151.4L1698.6 1152.5L1701.6 1153.6L1704.5 1154.6L1707.5 1155.7L1710.4 1156.7L1713.4 1157.7L1716.3 1158.7L1719.3 1159.7L1722.2 1160.7L1725.2 1161.6L1728.1 1162.6L1731.1 1163.5L1734.0 1164.4L1737.0 1165.3L1739.9 1166.1L1742.9 1167.0L1745.8 1167.8L1748.8 1168.7L1751.7 1169.5L1754.7 1170.3L1757.6 1171.1L1760.6 1171.9L1763.5 1172.6L1766.5 1173.4L1769.4 1174.1L1772.4 1174.9L1775.3 1175.6L1778.3 1176.3L1781.3 1177.0L1784.2 1177.7L1787.2 1178.4L1790.1 1179.0L1793.1 1179.7L1796.0 1180.3L1799.0 1180.9L1801.9 1181.5L1804.9 1182.1L1807.8 1182.7L1810.8 1183.3L1813.7 1183.9L1816.7 1184.5L1819.6 1185.0L1822.6 1185.6L1825.5 1186.1L1828.5 1186.6L1831.4 1187.1L1834.4 1187.7L1837.3 1188.1L1840.3 1188.6L1843.2 1189.1L1846.2 1189.6L1849.1 1190.0L1852.1 1190.5L1855.0 1190.9L1858.0 1191.4L1860.9 1191.8L1863.9 1192.2L1866.9 1192.6L1869.8 1193.0L1872.8 1193.4L1875.7 1193.8L1878.7 1194.2L1881.6 1194.6L1884.6 1194.9L1887.5 1195.3L1890.5 1195.7L1893.4 1196.0L1896.4 1196.3L1899.3 1196.7L1902.3 1197.0L1905.2 1197.3L1908.2 1197.6L1911.1 1197.9L1914.1 1198.2L1917.0 1198.5L1920.0 1198.8L1922.9 1199.1L1925.9 1199.3L1928.8 1199.6L1931.8 1199.8L1934.7 1200.1L1937.7 1200.3L1940.6 1200.6L1943.6 1200.8L1946.5 1201.1L1949.5 1201.3L1952.5 1201.5L1955.4 1201.7L1958.4 1201.9L1961.3 1202.1L1964.3 1202.3L1967.2 1202.5L1970.2 1202.7L1973.1 1202.9L1976.1 1203.1L1979.0 1203.2L1982.0 1203.4L1984.9 1203.6L1987.9 1203.7L1990.8 1203.9L1993.8 1204.0L1996.7 1204.2L1999.7 1204.3L2002.6 1204.5L2005.6 1204.6L2008.5 1204.7L2011.5 1204.9L2014.4 1205.0L2017.4 1205.1L2020.3 1205.2L2023.3 1205.4L2026.2 1205.5L2029.2 1205.6L2032.1 1205.7L2035.1 1205.8L2038.0 1205.9L2041.0 1206.0"/>
<path stroke="#008000" d="M270.0 1217.0L273.0 1217.0L275.9 1216.8L278.9 1216.6L281.8 1216.3L284.8 1216.1L287.7 1215.9L290.7 1215.8L293.6 1215.6L296.6 1215.5L299.5 1215.3L302.5 1215.2L305.4 1215.1L308.4 1215.0L311.3 1214.9L314.3 1214.8L317.2 1214.8L320.2 1214.7L323.1 1214.6L326.1 1214.6L329.0 1214.6L332.0 1214.5L334.9 1214.5L337.9 1214.5L340.8 1214.4L343.8 1214.4L346.7 1214.4L349.7 1214.4L352.6 1214.4L355.6 1214.3L358.6 1214.3L361.5 1214.3L364.5 1214.3L367.4 1214.3L370.4 1214.2L373.3 1214.2L376.3 1214.2L379.2 1214.1L382.2 1214.1L385.1 1214.0L388.1 1214.0L391.0 1213.9L394.0 1213.8L396.9 1213.7L399.9 1213.7L402.8 1213.5L405.8 1213.4L408.7 1213.3L411.7 1213.2L414.6 1213.0L417.6 1212.8L420.5 1212.6L423.5 1212.4L426.4 1212.2L429.4 1212.0L432.3 1211.7L435.3 1211.5L438.2 1211.2L441.2 1210.9L444.1 1210.5L447.1 1210.2L450.1 1209.8L453.0 1209.4L456.0 1209.0L458.9 1208.6L461.9 1208.1L464.8 1207.6L467.8 1207.1L470.7 1206.5L473.7 1205.9L476.6 1205.3L479.6 1204.7L482.5 1204.0L485.5 1203.3L488.4 1202.6L491.4 1201.8L494.3 1201.0L497.3 1200.1L500.2 1199.2L503.2 1198.2L506.1 1197.2L509.1 1196.2L512.0 1195.1L515.0 1193.9L517.9 1192.7L520.9 1191.4L523.8 1190.1L526.8 1188.7L529.7 1187.2L532.7 1185.6L535.6 1183.9L538.6 1182.2L541.6 1180.3L544.5 1178.4L547.5 1176.3L550.4 1174.1L553.4 1171.9L556.3 1169.5L559.3 1167.0L562.2 1164.4L565.2 1161.7L568.1 1158.9L571.1 1155.9L574.0 1152.8L577.0 1149.6L579.9 1146.3L582.9 1142.8L585.8 1139.2L588.8 1135.4L591.7 1131.4L594.7 1127.3L597.6 1123.1L600.6 1118.7L603.5 1114.1L606.5 1109.3L609.4 1104.4L612.4 1099.3L615.3 1094.0L618.3 1088.6L621.2 1083.0L624.2 1077.2L627.2 1071.4L630.1 1065.4L633.1 1059.3L636.0 1053.0L639.0 1046.6L641.9 1040.0L644.9 1033.3L647.8 1026.4L650.8 1019.4L653.7 1012.2L656.7 1004.8L659.6 997.2L662.6 989.5L665.5 981.6L668.5 973.5L671.4 965.2L674.4 956.7L677.3 948.1L680.3 939.2L683.2 930.2L686.2 921.0L689.1 911.6L692.1 902.1L695.0 892.4L698.0 882.6L700.9 872.7L703.9 862.6L706.8 852.4L709.8 842.1L712.8 831.8L715.7 821.3L718.7 810.7L721.6 800.0L724.6 789.3L727.5 778.4L730.5 767.5L733.4 756.6L736.4 745.5L739.3 734.5L742.3 723.4L745.2 712.3L748.2 701.1L751.1 690.0L754.1 678.9L757.0 667.7L760.0 656.6L762.9 645.6L765.9 634.5L768.8 623.6L771.8 612.7L774.7 601.8L777.7 591.0L780.6 580.4L783.6 569.8L786.5 559.3L789.5 548.9L792.4 538.6L795.4 528.4L798.3 518.3L801.3 508.3L804.3 498.5L807.2 488.8L810.2 479.2L813.1 469.7L816.1 460.4L819.0 451.2L822.0 442.1L824.9 433.1L827.9 424.2L830.8 415.5L833.8 406.9L836.7 398.4L839.7 390.1L842.6 381.8L845.6 373.7L848.5 365.7L851.5 357.8L854.4 350.0L857.4 342.4L860.3 334.8L863.3 327.6L866.2 320.8L869.2 314.5L872.1 308.6L875.1 303.3L878.0 298.4L881.0 293.8L883.9 289.5L886.9 285.4L889.9 281.4L892.8 277.5L895.8 273.7L898.7 270.0L901.7 266.5L904.6 263.2L907.6 260.3L910.5 257.6L913.5 255.3L916.4 253.3L919.4 251.6L922.3 250.2L925.3 249.1L928.2 248.3L931.2 247.7L934.1 247.4L937.1 247.3L940.0 247.4L943.0 247.7L945.9 248.3L948.9 249.0L951.8 249.9L954.8 251.0L957.7 252.2L960.7 253.6L963.6 255.2L966.6 257.0L969.5 259.0L972.5 261.1L975.4 263.5L978.4 266.1L981.4 268.8L984.3 271.8L987.3 274.9L990.2 278.2L993.2 281.6L996.1 285.2L999.1 288.9L1002.0 292.8L1005.0 296.7L1007.9 300.9L1010.9 305.2L1013.8 309.6L1016.8 314.1L1019.7 318.8L1022.7 323.6L1025.6 328.5L1028.6 333.5L1031.5 338.6L1034.5 343.8L1037.4 349.0L1040.4 354.3L1043.3 359.7L1046.3 365.1L1049.2 370.6L1052.2 376.2L1055.1 381.9L1058.1 387.6L1061.0 393.3L1064.0 399.1L1067.0 405.0L1069.9 410.9L1072.9 416.9L1075.8 422.9L1078.8 428.9L1081.7 434.9L1084.7 441.0L1087.6 447.1L1090.6 453.2L1093.5 459.2L1096.5 465.3L1099.4 471.4L1102.4 477.4L1105.3 483.5L1108.3 489.5L1111.2 495.4L1114.2 501.4L1117.1 507.3L1120.1 513.2L1123.0 519.0L1126.0 524.8L1128.9 530.6L1131.9 536.4L1134.8 542.2L1137.8 547.9L1140.7 553.6L1143.7 559.3L1146.6 564.9L1149.6 570.5L1152.5 576.2L1155.5 581.7L1158.5 587.3L1161.4 592.9L1164.4 598.4L1167.3 603.9L1170.3 609.4L1173.2 614.9L1176.2 620.3L1179.1 625.8L1182.1 631.2L1185.0 636.6L1188.0 642.0L1190.9 647.4L1193.9 652.7L1196.8 658.1L1199.8 663.4L1202.7 668.7L1205.7 674.0L1208.6 679.3L1211.6 684.5L1214.5 689.8L1217.5 695.0L1220.4 700.1L1223.4 705.3L1226.3 710.5L1229.3 715.6L1232.2 720.7L1235.2 725.7L1238.1 730.8L1241.1 735.8L1244.0 740.8L1247.0 745.7L1250.0 750.7L1252.9 755.6L1255.9 760.4L1258.8 765.3L1261.8 770.1L1264.7 774.9L1267.7 779.6L1270.6 784.4L1273.6 789.1L1276.5 793.7L1279.5 798.4L1282.4 803.0L1285.4 807.5L1288.3 812.1L1291.3 816.6L1294.2 821.1L1297.2 825.5L1300.1 829.9L1303.1 834.3L1306.0 838.7L1309.0 843.0L1311.9 847.4L1314.9 851.6L1317.8 855.9L1320.8 860.1L1323.7 864.4L1326.7 868.5L1329.6 872.7L1332.6 876.9L1335.6 881.0L1338.5 885.1L1341.5 889.2L1344.4 893.2L1347.4 897.3L1350.3 901.3L1353.3 905.3L1356.2 909.2L1359.2 913.2L1362.1 917.1L1365.1 921.1L1368.0 925.0L1371.0 928.8L1373.9 932.7L1376.9 936.5L1379.8 940.2L1382.8 943.9L1385.7 947.6L1388.7 951.2L1391.6 954.8L1394.6 958.4L1397.5 961.8L1400.5 965.3L1403.4 968.6L1406.4 971.9L1409.3 975.2L1412.3 978.4L1415.2 981.5L1418.2 984.6L1421.2 987.6L1424.1 990.6L1427.1 993.5L1430.0 996.4L1433.0 999.1L1435.9 1001.9L1438.9 1004.5L1441.8 1007.2L1444.8 1009.7L1447.7 1012.3L1450.7 1014.7L1453.6 1017.2L1456.6 1019.6L1459.5 1021.9L1462.5 1024.3L1465.4 1026.6L1468.4 1028.8L1471.3 1031.0L1474.3 1033.2L1477.2 1035.4L1480.2 1037.5L1483.1 1039.6L1486.1 1041.7L1489.0 1043.8L1492.0 1045.8L1494.9 1047.8L1497.9 1049.8L1500.8 1051.7L1503.8 1053.7L1506.7 1055.6L1509.7 1057.5L1512.7 1059.4L1515.6 1061.2L1518.6 1063.1L1521.5 1064.9L1524.5 1066.7L1527.4 1068.5L1530.4 1070.3L1533.3 1072.1L1536.3 1073.8L1539.2 1075.6L1542.2 1077.3L1545.1 1079.0L1548.1 1080.7L1551.0 1082.4L1554.0 1084.1L1556.9 1085.8L1559.9 1087.5L1562.8 1089.1L1565.8 1090.8L1568.7 1092.4L1571.7 1094.1L1574.6 1095.7L1577.6 1097.3L1580.5 1098.9L1583.5 1100.5L1586.4 1102.1L1589.4 1103.6L1592.3 1105.2L1595.3 1106.7L1598.2 1108.3L1601.2 1109.8L1604.2 1111.3L1607.1 1112.8L1610.1 1114.3L1613.0 1115.7L1616.0 1117.2L1618.9 1118.7L1621.9 1120.1L1624.8 1121.5L1627.8 1122.9L1630.7 1124.3L1633.7 1125.7L1636.6 1127.1L1639.6 1128.4L1642.5 1129.8L1645.5 1131.1L1648.4 1132.4L1651.4 1133.8L1654.3 1135.0L1657.3 1136.3L1660.2 1137.6L1663.2 1138.8L1666.1 1140.1L1669.1 1141.3L1672.0 1142.5L1675.0 1143.7L1677.9 1144.9L1680.9 1146.0L1683.8 1147.2L1686.8 1148.3L1689.8 1149.5L1692.7 1150.6L1695.7 1151.7L1698.6 1152.7L1701.6 1153.8L1704.5 1154.8L1707.5 1155.9L1710.4 1156.9L1713.4 1157.9L1716.3 1158.9L1719.3 1159.8L1722.2 1160.8L1725.2 1161.7L1728.1 1162.7L1731.1 1163.6L1734.0 1164.5L1737.0 1165.4L1739.9 1166.2L1742.9 1167.1L1745.8 1167.9L1748.8 1168.7L1751.7 1169.6L1754.7 1170.4L1757.6 1171.2L1760.6 1171.9L1763.5 1172.7L1766.5 1173.4L1769.4 1174.2L1772.4 1174.9L1775.3 1175.6L1778.3 1176.3L1781.3 1177.0L1784.2 1177.7L1787.2 1178.4L1790.1 1179.0L1793.1 1179.7L1796.0 1180.3L1799.0 1180.9L1801.9 1181.5L1804.9 1182.1L1807.8 1182.7L1810.8 1183.3L1813.7 1183.9L1816.7 1184.4L1819.6 1185.0L1822.6 1185.5L1825.5 1186.1L1828.5 1186.6L1831.4 1187.1L1834.4 1187.6L1837.3 1188.1L1840.3 1188.6L1843.2 1189.1L1846.2 1189.5L1849.1 1190.0L1852.1 1190.5L1855.0 1190.9L1858.0 1191.3L1860.9 1191.8L1863.9 1192.2L1866.9 1192.6L1869.8 1193.0L1872.8 1193.4L1875.7 1193.8L1878.7 1194.2L1881.6 1194.5L1884.6 1194.9L1887.5 1195.3L1890.5 1195.6L1893.4 1196.0L1896.4 1196.3L1899.3 1196.6L1902.3 1197.0L1905.2 1197.3L1908.2 1197.6L1911.1 1197.9L1914.1 1198.2L1917.0 1198.5L1920.0 1198.8L1922.9 1199.0L1925.9 1199.3L1928.8 1199.6L1931.8 1199.8L1934.7 1200.1L1937.7 1200.3L1940.6 1200.6L1943.6 1200.8L1946.5 1201.1L1949.5 1201.3L1952.5 1201.5L1955.4 1201.7L1958.4 1201.9L1961.3 1202.1L1964.3 1202.3L1967.2 1202.5L1970.2 1202.7L1973.1 1202.9L1976.1 1203.1L1979.0 1203.3L1982.0 1203.4L1984.9 1203.6L1987.9 1203.8L1990.8 1203.9L1993.8 1204.1L1996.7 1204.2L1999.7 1204.4L2002.6 1204.5L2005.6 1204.7L2008.5 1204.8L2011.5 1204.9L2014.4 1205.1L2017.4 1205.2L2020.3 1205.3L2023.3 1205.4L2026.2 1205.5L2029.2 1205.7L2032.1 1205.8L2035.1 1205.9L2038.0 1206.0L2041.0 1206.1"/>
<path stroke="#008080" d="M270.0 1217.0L273.0 1217.0L275.9 1216.8L278.9 1216.6L281.8 1216.3L284.8 1216.1L287.7 1216.0L290.7 1215.8L293.6 1215.6L296.6 1215.5L299.5 1215.4L302.5 1215.3L305.4 1215.1L308.4 1215.0L311.3 1215.0L314.3 1214.9L317.2 1214.8L320.2 1214.8L323.1 1214.7L326.1 1214.7L329.0 1214.6L332.0 1214.6L334.9 1214.6L337.9 1214.5L340.8 1214.5L343.8 1214.5L346.7 1214.5L349.7 1214.5L352.6 1214.4L355.6 1214.4L358.6 1214.4L361.5 1214.4L364.5 1214.4L367.4 1214.3L370.4 1214.3L373.3 1214.3L376.3 1214.3L379.2 1214.2L382.2 1214.2L385.1 1214.1L388.1 1214.1L391.0 1214.0L394.0 1213.9L396.9 1213.8L399.9 1213.7L402.8 1213.6L405.8 1213.5L408.7 1213.4L411.7 1213.3L414.6 1213.1L417.6 1212.9L420.5 1212.8L423.5 1212.6L426.4 1212.4L429.4 1212.1L432.3 1211.9L435.3 1211.6L438.2 1211.3L441.2 1211.0L444.1 1210.7L447.1 1210.4L450.1 1210.0L453.0 1209.6L456.0 1209.2L458.9 1208.8L461.9 1208.3L464.8 1207.9L467.8 1207.4L470.7 1206.8L473.7 1206.3L476.6 1205.7L479.6 1205.0L482.5 1204.4L485.5 1203.7L488.4 1203.0L491.4 1202.2L494.3 1201.4L497.3 1200.6L500.2 1199.7L503.2 1198.8L506.1 1197.8L509.1 1196.8L512.0 1195.7L515.0 1194.6L517.9 1193.4L520.9 1192.2L523.8 1190.9L526.8 1189.5L529.7 1188.1L532.7 1186.5L535.6 1184.9L538.6 1183.2L541.6 1181.4L544.5 1179.5L547.5 1177.5L550.4 1175.4L553.4 1173.3L556.3 1171.0L559.3 1168.6L562.2 1166.1L565.2 1163.4L568.1 1160.7L571.1 1157.8L574.0 1154.8L577.0 1151.7L579.9 1148.5L582.9 1145.1L585.8 1141.6L588.8 1137.9L591.7 1134.1L594.7 1130.2L597.6 1126.0L600.6 1121.8L603.5 1117.3L606.5 1112.7L609.4 1107.9L612.4 1103.0L615.3 1097.9L618.3 1092.6L621.2 1087.2L624.2 1081.7L627.2 1076.0L630.1 1070.2L633.1 1064.3L636.0 1058.2L639.0 1052.0L641.9 1045.6L644.9 1039.1L647.8 1032.5L650.8 1025.7L653.7 1018.7L656.7 1011.5L659.6 1004.2L662.6 996.7L665.5 989.1L668.5 981.2L671.4 973.2L674.4 965.0L677.3 956.6L680.3 948.1L683.2 939.3L686.2 930.4L689.1 921.3L692.1 912.1L695.0 902.7L698.0 893.2L700.9 883.6L703.9 873.9L706.8 864.0L709.8 854.0L712.8 844.0L715.7 833.8L718.7 823.6L721.6 813.2L724.6 802.8L727.5 792.3L730.5 781.7L733.4 771.1L736.4 760.4L739.3 749.7L742.3 739.0L745.2 728.2L748.2 717.4L751.1 706.6L754.1 695.8L757.0 685.0L760.0 674.2L762.9 663.4L765.9 652.7L768.8 642.1L771.8 631.5L774.7 621.0L777.7 610.5L780.6 600.1L783.6 589.8L786.5 579.6L789.5 569.5L792.4 559.5L795.4 549.6L798.3 539.8L801.3 530.1L804.3 520.6L807.2 511.1L810.2 501.8L813.1 492.6L816.1 483.5L819.0 474.5L822.0 465.7L824.9 457.0L827.9 448.4L830.8 439.9L833.8 431.5L836.7 423.3L839.7 415.1L842.6 407.1L845.6 399.2L848.5 391.4L851.5 383.7L854.4 376.2L857.4 368.7L860.3 361.4L863.3 354.3L866.2 347.6L869.2 341.4L872.1 335.6L875.1 330.3L878.0 325.5L881.0 321.0L883.9 316.7L886.9 312.7L889.9 308.8L892.8 305.0L895.8 301.3L898.7 297.7L901.7 294.2L904.6 291.0L907.6 288.1L910.5 285.4L913.5 283.1L916.4 281.1L919.4 279.4L922.3 277.9L925.3 276.8L928.2 276.0L931.2 275.4L934.1 275.0L937.1 274.8L940.0 274.9L943.0 275.2L945.9 275.6L948.9 276.3L951.8 277.1L954.8 278.1L957.7 279.3L960.7 280.7L963.6 282.2L966.6 283.9L969.5 285.7L972.5 287.8L975.4 290.1L978.4 292.5L981.4 295.2L984.3 298.0L987.3 301.0L990.2 304.2L993.2 307.5L996.1 311.0L999.1 314.5L1002.0 318.3L1005.0 322.1L1007.9 326.1L1010.9 330.3L1013.8 334.5L1016.8 339.0L1019.7 343.5L1022.7 348.2L1025.6 352.9L1028.6 357.8L1031.5 362.7L1034.5 367.7L1037.4 372.8L1040.4 378.0L1043.3 383.2L1046.3 388.5L1049.2 393.8L1052.2 399.3L1055.1 404.8L1058.1 410.3L1061.0 415.9L1064.0 421.6L1067.0 427.3L1069.9 433.0L1072.9 438.8L1075.8 444.7L1078.8 450.5L1081.7 456.4L1084.7 462.3L1087.6 468.2L1090.6 474.2L1093.5 480.1L1096.5 486.0L1099.4 491.9L1102.4 497.8L1105.3 503.7L1108.3 509.5L1111.2 515.4L1114.2 521.1L1117.1 526.9L1120.1 532.6L1123.0 538.3L1126.0 544.0L1128.9 549.7L1131.9 555.3L1134.8 560.9L1137.8 566.5L1140.7 572.0L1143.7 577.6L1146.6 583.1L1149.6 588.6L1152.5 594.0L1155.5 599.5L1158.5 604.9L1161.4 610.3L1164.4 615.7L1167.3 621.1L1170.3 626.4L1173.2 631.7L1176.2 637.1L1179.1 642.4L1182.1 647.6L1185.0 652.9L1188.0 658.2L1190.9 663.4L1193.9 668.6L1196.8 673.8L1199.8 679.0L1202.7 684.2L1205.7 689.3L1208.6 694.5L1211.6 699.6L1214.5 704.7L1217.5 709.8L1220.4 714.8L1223.4 719.9L1226.3 724.9L1229.3 729.8L1232.2 734.8L1235.2 739.7L1238.1 744.6L1241.1 749.5L1244.0 754.4L1247.0 759.2L1250.0 764.0L1252.9 768.8L1255.9 773.5L1258.8 778.3L1261.8 783.0L1264.7 787.6L1267.7 792.2L1270.6 796.9L1273.6 801.4L1276.5 806.0L1279.5 810.5L1282.4 815.0L1285.4 819.4L1288.3 823.8L1291.3 828.2L1294.2 832.6L1297.2 836.9L1300.1 841.2L1303.1 845.5L1306.0 849.8L1309.0 854.0L1311.9 858.2L1314.9 862.4L1317.8 866.5L1320.8 870.6L1323.7 874.7L1326.7 878.8L1329.6 882.9L1332.6 886.9L1335.6 890.9L1338.5 894.9L1341.5 898.9L1344.4 902.8L1347.4 906.8L1350.3 910.7L1353.3 914.6L1356.2 918.4L1359.2 922.3L1362.1 926.1L1365.1 930.0L1368.0 933.7L1371.0 937.5L1373.9 941.2L1376.9 944.9L1379.8 948.6L1382.8 952.2L1385.7 955.8L1388.7 959.3L1391.6 962.8L1394.6 966.2L1397.5 969.6L1400.5 972.9L1403.4 976.2L1406.4 979.4L1409.3 982.6L1412.3 985.7L1415.2 988.7L1418.2 991.7L1421.2 994.7L1424.1 997.5L1427.1 1000.4L1430.0 1003.1L1433.0 1005.8L1435.9 1008.5L1438.9 1011.1L1441.8 1013.6L1444.8 1016.1L1447.7 1018.6L1450.7 1021.0L1453.6 1023.3L1456.6 1025.7L1459.5 1028.0L1462.5 1030.2L1465.4 1032.4L1468.4 1034.6L1471.3 1036.8L1474.3 1038.9L1477.2 1041.0L1480.2 1043.1L1483.1 1045.1L1486.1 1047.2L1489.0 1049.2L1492.0 1051.1L1494.9 1053.1L1497.9 1055.0L1500.8 1056.9L1503.8 1058.8L1506.7 1060.6L1509.7 1062.5L1512.7 1064.3L1515.6 1066.1L1518.6 1067.9L1521.5 1069.7L1524.5 1071.5L1527.4 1073.2L1530.4 1075.0L1533.3 1076.7L1536.3 1078.4L1539.2 1080.1L1542.2 1081.8L1545.1 1083.4L1548.1 1085.1L1551.0 1086.7L1554.0 1088.4L1556.9 1090.0L1559.9 1091.6L1562.8 1093.3L1565.8 1094.9L1568.7 1096.5L1571.7 1098.0L1574.6 1099.6L1577.6 1101.2L1580.5 1102.7L1583.5 1104.3L1586.4 1105.8L1589.4 1107.3L1592.3 1108.8L1595.3 1110.3L1598.2 1111.8L1601.2 1113.3L1604.2 1114.8L1607.1 1116.2L1610.1 1117.7L1613.0 1119.1L1616.0 1120.5L1618.9 1121.9L1621.9 1123.3L1624.8 1124.7L1627.8 1126.1L1630.7 1127.4L1633.7 1128.8L1636.6 1130.1L1639.6 1131.4L1642.5 1132.8L1645.5 1134.0L1648.4 1135.3L1651.4 1136.6L1654.3 1137.9L1657.3 1139.1L1660.2 1140.3L1663.2 1141.5L1666.1 1142.7L1669.1 1143.9L1672.0 1145.1L1675.0 1146.2L1677.9 1147.4L1680.9 1148.5L1683.8 1149.6L1686.8 1150.7L1689.8 1151.8L1692.7 1152.9L1695.7 1153.9L1698.6 1155.0L1701.6 1156.0L1704.5 1157.0L1707.5 1158.0L1710.4 1159.0L1713.4 1160.0L1716.3 1160.9L1719.3 1161.9L1722.2 1162.8L1725.2 1163.7L1728.1 1164.6L1731.1 1165.5L1734.0 1166.4L1737.0 1167.2L1739.9 1168.0L1742.9 1168.9L1745.8 1169.7L1748.8 1170.5L1751.7 1171.3L1754.7 1172.0L1757.6 1172.8L1760.6 1173.6L1763.5 1174.3L1766.5 1175.0L1769.4 1175.7L1772.4 1176.4L1775.3 1177.1L1778.3 1177.8L1781.3 1178.5L1784.2 1179.1L1787.2 1179.8L1790.1 1180.4L1793.1 1181.0L1796.0 1181.6L1799.0 1182.2L1801.9 1182.8L1804.9 1183.4L1807.8 1184.0L1810.8 1184.6L1813.7 1185.1L1816.7 1185.7L1819.6 1186.2L1822.6 1186.7L1825.5 1187.2L1828.5 1187.7L1831.4 1188.2L1834.4 1188.7L1837.3 1189.2L1840.3 1189.7L1843.2 1190.1L1846.2 1190.6L1849.1 1191.0L1852.1 1191.5L1855.0 1191.9L1858.0 1192.3L1860.9 1192.7L1863.9 1193.1L1866.9 1193.5L1869.8 1193.9L1872.8 1194.3L1875.7 1194.7L1878.7 1195.0L1881.6 1195.4L1884.6 1195.7L1887.5 1196.1L1890.5 1196.4L1893.4 1196.8L1896.4 1197.1L1899.3 1197.4L1902.3 1197.7L1905.2 1198.0L1908.2 1198.3L1911.1 1198.6L1914.1 1198.9L1917.0 1199.2L1920.0 1199.4L1922.9 1199.7L1925.9 1200.0L1928.8 1200.2L1931.8 1200.5L1934.7 1200.7L1937.7 1201.0L1940.6 1201.2L1943.6 1201.4L1946.5 1201.7L1949.5 1201.9L1952.5 1202.1L1955.4 1202.3L1958.4 1202.5L1961.3 1202.7L1964.3 1202.9L1967.2 1203.1L1970.2 1203.3L1973.1 1203.4L1976.1 1203.6L1979.0 1203.8L1982.0 1203.9L1984.9 1204.1L1987.9 1204.3L1990.8 1204.4L1993.8 1204.6L1996.7 1204.7L1999.7 1204.8L2002.6 1205.0L2005.6 1205.1L2008.5 1205.2L2011.5 1205.4L2014.4 1205.5L2017.4 1205.6L2020.3 1205.7L2023.3 1205.8L2026.2 1205.9L2029.2 1206.1L2032.1 1206.2L2035.1 1206.3L2038.0 1206.4L2041.0 1206.4"/>
<path stroke="#0000A0" d="M270.0 1217.0L273.0 1217.0L275.9 1217.0L278.9 1217.0L281.8 1217.0L284.8 1217.0L287.7 1217.0L290.7 1216.9L293.6 1216.6L296.6 1216.3L299.5 1216.1L302.5 1215.9L305.4 1215.7L308.4 1215.5L311.3 1215.3L314.3 1215.2L317.2 1215.0L320.2 1214.9L323.1 1214.8L326.1 1214.7L329.0 1214.6L332.0 1214.5L334.9 1214.5L337.9 1214.4L340.8 1214.3L343.8 1214.3L346.7 1214.3L349.7 1214.2L352.6 1214.2L355.6 1214.2L358.6 1214.1L361.5 1214.1L364.5 1214.1L367.4 1214.1L370.4 1214.1L373.3 1214.1L376.3 1214.0L379.2 1214.0L382.2 1214.0L385.1 1214.0L388.1 1213.9L391.0 1213.9L394.0 1213.8L396.9 1213.8L399.9 1213.7L402.8 1213.7L405.8 1213.6L408.7 1213.5L411.7 1213.4L414.6 1213.3L417.6 1213.2L420.5 1213.1L423.5 1212.9L426.4 1212.8L429.4 1212.6L432.3 1212.4L435.3 1212.2L438.2 1212.0L441.2 1211.7L444.1 1211.5L447.1 1211.2L450.1 1210.9L453.0 1210.6L456.0 1210.3L458.9 1209.9L461.9 1209.5L464.8 1209.1L467.8 1208.7L470.7 1208.3L473.7 1207.8L476.6 1207.3L479.6 1206.8L482.5 1206.2L485.5 1205.7L488.4 1205.1L491.4 1204.4L494.3 1203.8L497.3 1203.1L500.2 1202.3L503.2 1201.6L506.1 1200.7L509.1 1199.9L512.0 1199.0L515.0 1198.1L517.9 1197.1L520.9 1196.1L523.8 1195.0L526.8 1193.9L529.7 1192.7L532.7 1191.4L535.6 1190.1L538.6 1188.8L541.6 1187.3L544.5 1185.8L547.5 1184.2L550.4 1182.5L553.4 1180.7L556.3 1178.9L559.3 1176.9L562.2 1174.8L565.2 1172.7L568.1 1170.5L571.1 1168.1L574.0 1165.7L577.0 1163.1L579.9 1160.4L582.9 1157.7L585.8 1154.8L588.8 1151.8L591.7 1148.7L594.7 1145.4L597.6 1142.0L600.6 1138.5L603.5 1134.9L606.5 1131.1L609.4 1127.2L612.4 1123.2L615.3 1118.9L618.3 1114.6L621.2 1110.1L624.2 1105.5L627.2 1100.7L630.1 1095.8L633.1 1090.8L636.0 1085.7L639.0 1080.5L641.9 1075.2L644.9 1069.8L647.8 1064.2L650.8 1058.5L653.7 1052.7L656.7 1046.8L659.6 1040.8L662.6 1034.6L665.5 1028.2L668.5 1021.7L671.4 1015.1L674.4 1008.4L677.3 1001.4L680.3 994.4L683.2 987.2L686.2 979.8L689.1 972.3L692.1 964.7L695.0 956.9L698.0 949.0L700.9 941.0L703.9 932.9L706.8 924.7L709.8 916.4L712.8 908.0L715.7 899.5L718.7 891.0L721.6 882.4L724.6 873.7L727.5 864.9L730.5 856.1L733.4 847.3L736.4 838.4L739.3 829.5L742.3 820.5L745.2 811.5L748.2 802.5L751.1 793.5L754.1 784.4L757.0 775.4L760.0 766.4L762.9 757.5L765.9 748.5L768.8 739.6L771.8 730.8L774.7 722.0L777.7 713.2L780.6 704.5L783.6 695.9L786.5 687.4L789.5 679.0L792.4 670.6L795.4 662.4L798.3 654.2L801.3 646.1L804.3 638.1L807.2 630.3L810.2 622.5L813.1 614.9L816.1 607.3L819.0 599.9L822.0 592.5L824.9 585.3L827.9 578.2L830.8 571.1L833.8 564.2L836.7 557.4L839.7 550.7L842.6 544.1L845.6 537.6L848.5 531.2L851.5 524.8L854.4 518.6L857.4 512.5L860.3 506.5L863.3 500.6L866.2 494.9L869.2 489.6L872.1 484.7L875.1 480.2L878.0 476.0L881.0 472.2L883.9 468.7L886.9 465.4L889.9 462.2L892.8 459.0L895.8 456.0L898.7 453.0L901.7 450.2L904.6 447.5L907.6 445.1L910.5 442.9L913.5 440.9L916.4 439.2L919.4 437.8L922.3 436.6L925.3 435.6L928.2 434.9L931.2 434.4L934.1 434.1L937.1 434.0L940.0 434.0L943.0 434.2L945.9 434.6L948.9 435.1L951.8 435.8L954.8 436.6L957.7 437.5L960.7 438.6L963.6 439.9L966.6 441.3L969.5 442.8L972.5 444.4L975.4 446.3L978.4 448.3L981.4 450.4L984.3 452.7L987.3 455.2L990.2 457.8L993.2 460.5L996.1 463.3L999.1 466.2L1002.0 469.3L1005.0 472.4L1007.9 475.7L1010.9 479.1L1013.8 482.6L1016.8 486.2L1019.7 489.9L1022.7 493.7L1025.6 497.6L1028.6 501.6L1031.5 505.7L1034.5 509.8L1037.4 513.9L1040.4 518.2L1043.3 522.5L1046.3 526.8L1049.2 531.2L1052.2 535.7L1055.1 540.2L1058.1 544.7L1061.0 549.3L1064.0 554.0L1067.0 558.7L1069.9 563.4L1072.9 568.2L1075.8 573.0L1078.8 577.8L1081.7 582.6L1084.7 587.5L1087.6 592.4L1090.6 597.3L1093.5 602.2L1096.5 607.0L1099.4 611.9L1102.4 616.8L1105.3 621.7L1108.3 626.5L1111.2 631.3L1114.2 636.1L1117.1 640.9L1120.1 645.6L1123.0 650.3L1126.0 655.0L1128.9 659.7L1131.9 664.4L1134.8 669.0L1137.8 673.6L1140.7 678.2L1143.7 682.8L1146.6 687.4L1149.6 691.9L1152.5 696.4L1155.5 700.9L1158.5 705.4L1161.4 709.9L1164.4 714.3L1167.3 718.8L1170.3 723.2L1173.2 727.6L1176.2 732.0L1179.1 736.4L1182.1 740.8L1185.0 745.1L1188.0 749.5L1190.9 753.8L1193.9 758.1L1196.8 762.4L1199.8 766.7L1202.7 771.0L1205.7 775.2L1208.6 779.5L1211.6 783.7L1214.5 787.9L1217.5 792.1L1220.4 796.3L1223.4 800.5L1226.3 804.6L1229.3 808.7L1232.2 812.8L1235.2 816.9L1238.1 821.0L1241.1 825.0L1244.0 829.1L1247.0 833.1L1250.0 837.1L1252.9 841.0L1255.9 845.0L1258.8 848.9L1261.8 852.8L1264.7 856.6L1267.7 860.5L1270.6 864.3L1273.6 868.1L1276.5 871.8L1279.5 875.6L1282.4 879.3L1285.4 883.0L1288.3 886.7L1291.3 890.3L1294.2 894.0L1297.2 897.5L1300.1 901.1L1303.1 904.7L1306.0 908.2L1309.0 911.7L1311.9 915.2L1314.9 918.7L1317.8 922.1L1320.8 925.5L1323.7 928.9L1326.7 932.3L1329.6 935.7L1332.6 939.0L1335.6 942.3L1338.5 945.6L1341.5 948.9L1344.4 952.2L1347.4 955.5L1350.3 958.7L1353.3 961.9L1356.2 965.1L1359.2 968.3L1362.1 971.5L1365.1 974.6L1368.0 977.8L1371.0 980.9L1373.9 984.0L1376.9 987.1L1379.8 990.1L1382.8 993.2L1385.7 996.2L1388.7 999.1L1391.6 1002.1L1394.6 1004.9L1397.5 1007.8L1400.5 1010.6L1403.4 1013.4L1406.4 1016.1L1409.3 1018.8L1412.3 1021.4L1415.2 1024.0L1418.2 1026.5L1421.2 1029.0L1424.1 1031.5L1427.1 1033.9L1430.0 1036.2L1433.0 1038.5L1435.9 1040.8L1438.9 1043.0L1441.8 1045.2L1444.8 1047.3L1447.7 1049.4L1450.7 1051.4L1453.6 1053.5L1456.6 1055.4L1459.5 1057.4L1462.5 1059.3L1465.4 1061.2L1468.4 1063.0L1471.3 1064.8L1474.3 1066.6L1477.2 1068.4L1480.2 1070.2L1483.1 1071.9L1486.1 1073.6L1489.0 1075.2L1492.0 1076.9L1494.9 1078.5L1497.9 1080.2L1500.8 1081.8L1503.8 1083.3L1506.7 1084.9L1509.7 1086.4L1512.7 1088.0L1515.6 1089.5L1518.6 1091.0L1521.5 1092.5L1524.5 1093.9L1527.4 1095.4L1530.4 1096.8L1533.3 1098.3L1536.3 1099.7L1539.2 1101.1L1542.2 1102.5L1545.1 1103.9L1548.1 1105.3L1551.0 1106.6L1554.0 1108.0L1556.9 1109.4L1559.9 1110.7L1562.8 1112.0L1565.8 1113.4L1568.7 1114.7L1571.7 1116.0L1574.6 1117.3L1577.6 1118.6L1580.5 1119.9L1583.5 1121.2L1586.4 1122.5L1589.4 1123.7L1592.3 1125.0L1595.3 1126.2L1598.2 1127.5L1601.2 1128.7L1604.2 1129.9L1607.1 1131.1L1610.1 1132.3L1613.0 1133.5L1616.0 1134.7L1618.9 1135.9L1621.9 1137.1L1624.8 1138.2L1627.8 1139.4L1630.7 1140.5L1633.7 1141.6L1636.6 1142.7L1639.6 1143.8L1642.5 1144.9L1645.5 1146.0L1648.4 1147.1L1651.4 1148.1L1654.3 1149.2L1657.3 1150.2L1660.2 1151.3L1663.2 1152.3L1666.1 1153.3L1669.1 1154.3L1672.0 1155.3L1675.0 1156.3L1677.9 1157.2L1680.9 1158.2L1683.8 1159.1L1686.8 1160.1L1689.8 1161.0L1692.7 1161.9L1695.7 1162.8L1698.6 1163.7L1701.6 1164.5L1704.5 1165.4L1707.5 1166.2L1710.4 1167.1L1713.4 1167.9L1716.3 1168.7L1719.3 1169.5L1722.2 1170.3L1725.2 1171.1L1728.1 1171.8L1731.1 1172.6L1734.0 1173.3L1737.0 1174.1L1739.9 1174.8L1742.9 1175.5L1745.8 1176.2L1748.8 1176.9L1751.7 1177.5L1754.7 1178.2L1757.6 1178.9L1760.6 1179.5L1763.5 1180.1L1766.5 1180.8L1769.4 1181.4L1772.4 1182.0L1775.3 1182.6L1778.3 1183.1L1781.3 1183.7L1784.2 1184.3L1787.2 1184.8L1790.1 1185.4L1793.1 1185.9L1796.0 1186.4L1799.0 1187.0L1801.9 1187.5L1804.9 1188.0L1807.8 1188.5L1810.8 1188.9L1813.7 1189.4L1816.7 1189.9L1819.6 1190.3L1822.6 1190.8L1825.5 1191.2L1828.5 1191.7L1831.4 1192.1L1834.4 1192.5L1837.3 1192.9L1840.3 1193.3L1843.2 1193.7L1846.2 1194.1L1849.1 1194.5L1852.1 1194.9L1855.0 1195.3L1858.0 1195.6L1860.9 1196.0L1863.9 1196.3L1866.9 1196.7L1869.8 1197.0L1872.8 1197.4L1875.7 1197.7L1878.7 1198.0L1881.6 1198.3L1884.6 1198.6L1887.5 1198.9L1890.5 1199.2L1893.4 1199.5L1896.4 1199.8L1899.3 1200.1L1902.3 1200.3L1905.2 1200.6L1908.2 1200.9L1911.1 1201.1L1914.1 1201.4L1917.0 1201.6L1920.0 1201.9L1922.9 1202.1L1925.9 1202.3L1928.8 1202.5L1931.8 1202.8L1934.7 1203.0L1937.7 1203.2L1940.6 1203.4L1943.6 1203.6L1946.5 1203.8L1949.5 1204.0L1952.5 1204.2L1955.4 1204.4L1958.4 1204.5L1961.3 1204.7L1964.3 1204.9L1967.2 1205.1L1970.2 1205.2L1973.1 1205.4L1976.1 1205.5L1979.0 1205.7L1982.0 1205.8L1984.9 1206.0L1987.9 1206.1L1990.8 1206.3L1993.8 1206.4L1996.7 1206.5L1999.7 1206.7L2002.6 1206.8L2005.6 1206.9L2008.5 1207.0L2011.5 1207.1L2014.4 1207.2L2017.4 1207.3L2020.3 1207.5L2023.3 1207.6L2026.2 1207.7L2029.2 1207.7L2032.1 1207.8L2035.1 1207.9L2038.0 1208.0L2041.0 1208.1"/>
<path stroke="#FF8000" d="M270.0 1217.0L273.0 1217.0L275.9 1217.0L278.9 1217.0L281.8 1217.0L284.8 1217.0L287.7 1217.0L290.7 1217.0L293.6 1217.0L296.6 1217.0L299.5 1217.0L302.5 1217.0L305.4 1217.0L308.4 1217.0L311.3 1217.0L314.3 1217.0L317.2 1217.0L320.2 1216.9L323.1 1216.5L326.1 1216.3L329.0 1216.0L332.0 1215.8L334.9 1215.6L337.9 1215.4L340.8 1215.3L343.8 1215.2L346.7 1215.0L349.7 1214.9L352.6 1214.8L355.6 1214.8L358.6 1214.7L361.5 1214.6L364.5 1214.6L367.4 1214.5L370.4 1214.5L373.3 1214.4L376.3 1214.4L379.2 1214.4L382.2 1214.4L385.1 1214.3L388.1 1214.3L391.0 1214.3L394.0 1214.3L396.9 1214.3L399.9 1214.3L402.8 1214.2L405.8 1214.2L408.7 1214.2L411.7 1214.2L414.6 1214.1L417.6 1214.1L420.5 1214.1L423.5 1214.0L426.4 1214.0L429.4 1213.9L432.3 1213.9L435.3 1213.8L438.2 1213.7L441.2 1213.6L444.1 1213.5L447.1 1213.4L450.1 1213.2L453.0 1213.1L456.0 1213.0L458.9 1212.8L461.9 1212.6L464.8 1212.4L467.8 1212.2L470.7 1212.0L473.7 1211.8L476.6 1211.5L479.6 1211.3L482.5 1211.0L485.5 1210.7L488.4 1210.4L491.4 1210.1L494.3 1209.7L497.3 1209.4L500.2 1209.0L503.2 1208.6L506.1 1208.2L509.1 1207.8L512.0 1207.3L515.0 1206.8L517.9 1206.4L520.9 1205.8L523.8 1205.3L526.8 1204.7L529.7 1204.2L532.7 1203.5L535.6 1202.9L538.6 1202.2L541.6 1201.5L544.5 1200.8L547.5 1200.1L550.4 1199.3L553.4 1198.4L556.3 1197.6L559.3 1196.6L562.2 1195.7L565.2 1194.7L568.1 1193.6L571.1 1192.5L574.0 1191.4L577.0 1190.2L579.9 1188.9L582.9 1187.6L585.8 1186.2L588.8 1184.8L591.7 1183.3L594.7 1181.8L597.6 1180.2L600.6 1178.5L603.5 1176.8L606.5 1175.0L609.4 1173.2L612.4 1171.3L615.3 1169.3L618.3 1167.3L621.2 1165.2L624.2 1163.0L627.2 1160.8L630.1 1158.4L633.1 1156.0L636.0 1153.6L639.0 1151.0L641.9 1148.4L644.9 1145.8L647.8 1143.0L650.8 1140.3L653.7 1137.5L656.7 1134.6L659.6 1131.7L662.6 1128.7L665.5 1125.7L668.5 1122.7L671.4 1119.5L674.4 1116.4L677.3 1113.1L680.3 1109.8L683.2 1106.4L686.2 1103.0L689.1 1099.5L692.1 1095.9L695.0 1092.3L698.0 1088.6L700.9 1084.9L703.9 1081.0L706.8 1077.2L709.8 1073.2L712.8 1069.3L715.7 1065.3L718.7 1061.2L721.6 1057.1L724.6 1053.0L727.5 1048.9L730.5 1044.7L733.4 1040.5L736.4 1036.3L739.3 1032.0L742.3 1027.8L745.2 1023.5L748.2 1019.3L751.1 1015.0L754.1 1010.7L757.0 1006.4L760.0 1002.1L762.9 997.9L765.9 993.6L768.8 989.4L771.8 985.1L774.7 980.9L777.7 976.7L780.6 972.6L783.6 968.5L786.5 964.4L789.5 960.4L792.4 956.4L795.4 952.4L798.3 948.5L801.3 944.7L804.3 940.9L807.2 937.1L810.2 933.4L813.1 929.8L816.1 926.2L819.0 922.7L822.0 919.2L824.9 915.8L827.9 912.4L830.8 909.1L833.8 905.8L836.7 902.6L839.7 899.5L842.6 896.4L845.6 893.3L848.5 890.3L851.5 887.4L854.4 884.5L857.4 881.6L860.3 878.8L863.3 876.1L866.2 873.4L869.2 870.7L872.1 868.2L875.1 865.8L878.0 863.6L881.0 861.5L883.9 859.7L886.9 858.0L889.9 856.4L892.8 855.0L895.8 853.5L898.7 852.2L901.7 850.8L904.6 849.5L907.6 848.3L910.5 847.1L913.5 846.1L916.4 845.2L919.4 844.3L922.3 843.6L925.3 843.1L928.2 842.6L931.2 842.2L934.1 842.0L937.1 841.8L940.0 841.7L943.0 841.7L945.9 841.8L948.9 841.9L951.8 842.2L954.8 842.5L957.7 842.9L960.7 843.3L963.6 843.8L966.6 844.4L969.5 845.1L972.5 845.8L975.4 846.6L978.4 847.5L981.4 848.4L984.3 849.5L987.3 850.6L990.2 851.8L993.2 853.0L996.1 854.3L999.1 855.7L1002.0 857.1L1005.0 858.5L1007.9 860.0L1010.9 861.6L1013.8 863.3L1016.8 865.0L1019.7 866.7L1022.7 868.5L1025.6 870.3L1028.6 872.2L1031.5 874.1L1034.5 876.0L1037.4 878.0L1040.4 880.0L1043.3 882.0L1046.3 884.1L1049.2 886.2L1052.2 888.3L1055.1 890.4L1058.1 892.6L1061.0 894.8L1064.0 897.0L1067.0 899.2L1069.9 901.5L1072.9 903.7L1075.8 906.0L1078.8 908.3L1081.7 910.6L1084.7 912.9L1087.6 915.2L1090.6 917.5L1093.5 919.9L1096.5 922.2L1099.4 924.5L1102.4 926.8L1105.3 929.1L1108.3 931.4L1111.2 933.6L1114.2 935.9L1117.1 938.1L1120.1 940.4L1123.0 942.6L1126.0 944.8L1128.9 947.1L1131.9 949.3L1134.8 951.5L1137.8 953.6L1140.7 955.8L1143.7 958.0L1146.6 960.2L1149.6 962.3L1152.5 964.5L1155.5 966.6L1158.5 968.8L1161.4 970.9L1164.4 973.0L1167.3 975.2L1170.3 977.3L1173.2 979.4L1176.2 981.5L1179.1 983.6L1182.1 985.7L1185.0 987.8L1188.0 989.9L1190.9 991.9L1193.9 994.0L1196.8 996.1L1199.8 998.2L1202.7 1000.2L1205.7 1002.3L1208.6 1004.3L1211.6 1006.4L1214.5 1008.4L1217.5 1010.4L1220.4 1012.4L1223.4 1014.4L1226.3 1016.4L1229.3 1018.4L1232.2 1020.4L1235.2 1022.4L1238.1 1024.3L1241.1 1026.3L1244.0 1028.2L1247.0 1030.1L1250.0 1032.0L1252.9 1033.9L1255.9 1035.8L1258.8 1037.7L1261.8 1039.6L1264.7 1041.5L1267.7 1043.3L1270.6 1045.2L1273.6 1047.0L1276.5 1048.8L1279.5 1050.6L1282.4 1052.4L1285.4 1054.2L1288.3 1056.0L1291.3 1057.7L1294.2 1059.5L1297.2 1061.2L1300.1 1063.0L1303.1 1064.7L1306.0 1066.4L1309.0 1068.1L1311.9 1069.8L1314.9 1071.5L1317.8 1073.2L1320.8 1074.9L1323.7 1076.6L1326.7 1078.2L1329.6 1079.9L1332.6 1081.5L1335.6 1083.2L1338.5 1084.8L1341.5 1086.4L1344.4 1088.0L1347.4 1089.6L1350.3 1091.2L1353.3 1092.8L1356.2 1094.4L1359.2 1096.0L1362.1 1097.6L1365.1 1099.1L1368.0 1100.6L1371.0 1102.2L1373.9 1103.7L1376.9 1105.1L1379.8 1106.6L1382.8 1108.0L1385.7 1109.4L1388.7 1110.8L1391.6 1112.2L1394.6 1113.5L1397.5 1114.8L1400.5 1116.1L1403.4 1117.4L1406.4 1118.7L1409.3 1119.9L1412.3 1121.1L1415.2 1122.2L1418.2 1123.4L1421.2 1124.5L1424.1 1125.6L1427.1 1126.7L1430.0 1127.8L1433.0 1128.8L1435.9 1129.8L1438.9 1130.8L1441.8 1131.8L1444.8 1132.8L1447.7 1133.8L1450.7 1134.7L1453.6 1135.7L1456.6 1136.6L1459.5 1137.5L1462.5 1138.4L1465.4 1139.3L1468.4 1140.2L1471.3 1141.1L1474.3 1141.9L1477.2 1142.8L1480.2 1143.6L1483.1 1144.4L1486.1 1145.3L1489.0 1146.1L1492.0 1146.9L1494.9 1147.7L1497.9 1148.5L1500.8 1149.3L1503.8 1150.0L1506.7 1150.8L1509.7 1151.6L1512.7 1152.4L1515.6 1153.1L1518.6 1153.9L1521.5 1154.6L1524.5 1155.4L1527.4 1156.1L1530.4 1156.8L1533.3 1157.6L1536.3 1158.3L1539.2 1159.0L1542.2 1159.7L1545.1 1160.5L1548.1 1161.2L1551.0 1161.9L1554.0 1162.6L1556.9 1163.3L1559.9 1164.0L1562.8 1164.7L1565.8 1165.4L1568.7 1166.1L1571.7 1166.7L1574.6 1167.4L1577.6 1168.1L1580.5 1168.8L1583.5 1169.4L1586.4 1170.1L1589.4 1170.7L1592.3 1171.4L1595.3 1172.0L1598.2 1172.7L1601.2 1173.3L1604.2 1173.9L1607.1 1174.5L1610.1 1175.2L1613.0 1175.8L1616.0 1176.4L1618.9 1177.0L1621.9 1177.6L1624.8 1178.2L1627.8 1178.7L1630.7 1179.3L1633.7 1179.9L1636.6 1180.5L1639.6 1181.0L1642.5 1181.6L1645.5 1182.1L1648.4 1182.7L1651.4 1183.2L1654.3 1183.7L1657.3 1184.2L1660.2 1184.8L1663.2 1185.3L1666.1 1185.8L1669.1 1186.3L1672.0 1186.8L1675.0 1187.2L1677.9 1187.7L1680.9 1188.2L1683.8 1188.7L1686.8 1189.1L1689.8 1189.6L1692.7 1190.0L1695.7 1190.4L1698.6 1190.9L1701.6 1191.3L1704.5 1191.7L1707.5 1192.1L1710.4 1192.5L1713.4 1192.9L1716.3 1193.3L1719.3 1193.7L1722.2 1194.1L1725.2 1194.5L1728.1 1194.8L1731.1 1195.2L1734.0 1195.5L1737.0 1195.9L1739.9 1196.2L1742.9 1196.6L1745.8 1196.9L1748.8 1197.2L1751.7 1197.6L1754.7 1197.9L1757.6 1198.2L1760.6 1198.5L1763.5 1198.8L1766.5 1199.1L1769.4 1199.4L1772.4 1199.7L1775.3 1200.0L1778.3 1200.3L1781.3 1200.5L1784.2 1200.8L1787.2 1201.1L1790.1 1201.3L1793.1 1201.6L1796.0 1201.8L1799.0 1202.1L1801.9 1202.3L1804.9 1202.6L1807.8 1202.8L1810.8 1203.0L1813.7 1203.3L1816.7 1203.5L1819.6 1203.7L1822.6 1203.9L1825.5 1204.1L1828.5 1204.3L1831.4 1204.5L1834.4 1204.7L1837.3 1204.9L1840.3 1205.1L1843.2 1205.3L1846.2 1205.5L1849.1 1205.7L1852.1 1205.9L1855.0 1206.0L1858.0 1206.2L1860.9 1206.4L1863.9 1206.5L1866.9 1206.7L1869.8 1206.8L1872.8 1207.0L1875.7 1207.1L1878.7 1207.3L1881.6 1207.4L1884.6 1207.6L1887.5 1207.7L1890.5 1207.9L1893.4 1208.0L1896.4 1208.1L1899.3 1208.2L1902.3 1208.4L1905.2 1208.5L1908.2 1208.6L1911.1 1208.7L1914.1 1208.8L1917.0 1208.9L1920.0 1209.0L1922.9 1209.1L1925.9 1209.3L1928.8 1209.3L1931.8 1209.4L1934.7 1209.5L1937.7 1209.6L1940.6 1209.7L1943.6 1209.8L1946.5 1209.9L1949.5 1210.0L1952.5 1210.1L1955.4 1210.1L1958.4 1210.2L1961.3 1210.3L1964.3 1210.4L1967.2 1210.4L1970.2 1210.5L1973.1 1210.6L1976.1 1210.6L1979.0 1210.7L1982.0 1210.7L1984.9 1210.8L1987.9 1210.9L1990.8 1210.9L1993.8 1211.0L1996.7 1211.0L1999.7 1211.1L2002.6 1211.1L2005.6 1211.2L2008.5 1211.2L2011.5 1211.3L2014.4 1211.3L2017.4 1211.3L2020.3 1211.4L2023.3 1211.4L2026.2 1211.4L2029.2 1211.4L2032.1 1211.4L2035.1 1211.4L2038.0 1211.4L2041.0 1211.4"/>
<path stroke="#8000FF" d="M270.0 1217.0L273.0 1217.0L275.9 1217.0L278.9 1217.0L281.8 1217.0L284.8 1217.0L287.7 1217.0L290.7 1217.0L293.6 1217.0L296.6 1217.0L299.5 1217.0L302.5 1217.0L305.4 1217.0L308.4 1217.0L311.3 1217.0L314.3 1217.0L317.2 1217.0L320.2 1217.0L323.1 1217.0L326.1 1217.0L329.0 1217.0L332.0 1217.0L334.9 1217.0L337.9 1217.0L340.8 1217.0L343.8 1217.0L346.7 1217.0L349.7 1217.0L352.6 1217.0L355.6 1217.0L358.6 1217.0L361.5 1217.0L364.5 1217.0L367.4 1216.3L370.4 1215.9L373.3 1215.6L376.3 1215.4L379.2 1215.1L382.2 1215.0L385.1 1214.8L388.1 1214.6L391.0 1214.5L394.0 1214.4L396.9 1214.3L399.9 1214.2L402.8 1214.2L405.8 1214.1L408.7 1214.0L411.7 1214.0L414.6 1214.0L417.6 1213.9L420.5 1213.9L423.5 1213.9L426.4 1213.9L429.4 1213.8L432.3 1213.8L435.3 1213.8L438.2 1213.8L441.2 1213.8L444.1 1213.8L447.1 1213.7L450.1 1213.7L453.0 1213.7L456.0 1213.6L458.9 1213.6L461.9 1213.6L464.8 1213.5L467.8 1213.4L470.7 1213.4L473.7 1213.3L476.6 1213.2L479.6 1213.1L482.5 1213.0L485.5 1212.9L488.4 1212.7L491.4 1212.6L494.3 1212.4L497.3 1212.3L500.2 1212.1L503.2 1211.9L506.1 1211.7L509.1 1211.5L512.0 1211.2L515.0 1211.0L517.9 1210.7L520.9 1210.5L523.8 1210.2L526.8 1209.9L529.7 1209.6L532.7 1209.2L535.6 1208.9L538.6 1208.5L541.6 1208.2L544.5 1207.8L547.5 1207.4L550.4 1207.0L553.4 1206.6L556.3 1206.1L559.3 1205.6L562.2 1205.2L565.2 1204.7L568.1 1204.1L571.1 1203.6L574.0 1203.1L577.0 1202.5L579.9 1201.9L582.9 1201.2L585.8 1200.6L588.8 1199.9L591.7 1199.2L594.7 1198.4L597.6 1197.7L600.6 1196.9L603.5 1196.0L606.5 1195.1L609.4 1194.2L612.4 1193.3L615.3 1192.3L618.3 1191.3L621.2 1190.3L624.2 1189.2L627.2 1188.1L630.1 1186.9L633.1 1185.8L636.0 1184.5L639.0 1183.3L641.9 1182.0L644.9 1180.7L647.8 1179.3L650.8 1177.9L653.7 1176.5L656.7 1175.0L659.6 1173.5L662.6 1171.9L665.5 1170.4L668.5 1168.7L671.4 1167.1L674.4 1165.5L677.3 1163.8L680.3 1162.1L683.2 1160.4L686.2 1158.7L689.1 1156.9L692.1 1155.1L695.0 1153.3L698.0 1151.5L700.9 1149.6L703.9 1147.8L706.8 1145.9L709.8 1143.9L712.8 1141.9L715.7 1140.0L718.7 1137.9L721.6 1135.9L724.6 1133.8L727.5 1131.7L730.5 1129.6L733.4 1127.5L736.4 1125.3L739.3 1123.2L742.3 1121.0L745.2 1118.9L748.2 1116.7L751.1 1114.5L754.1 1112.4L757.0 1110.2L760.0 1108.0L762.9 1105.8L765.9 1103.7L768.8 1101.5L771.8 1099.4L774.7 1097.2L777.7 1095.1L780.6 1092.9L783.6 1090.8L786.5 1088.7L789.5 1086.7L792.4 1084.6L795.4 1082.6L798.3 1080.6L801.3 1078.6L804.3 1076.7L807.2 1074.7L810.2 1072.8L813.1 1071.0L816.1 1069.1L819.0 1067.3L822.0 1065.5L824.9 1063.8L827.9 1062.1L830.8 1060.4L833.8 1058.7L836.7 1057.1L839.7 1055.5L842.6 1054.0L845.6 1052.5L848.5 1051.0L851.5 1049.5L854.4 1048.1L857.4 1046.7L860.3 1045.3L863.3 1043.9L866.2 1042.6L869.2 1041.3L872.1 1040.0L875.1 1038.8L878.0 1037.5L881.0 1036.4L883.9 1035.3L886.9 1034.3L889.9 1033.3L892.8 1032.5L895.8 1031.8L898.7 1031.1L901.7 1030.4L904.6 1029.8L907.6 1029.2L910.5 1028.6L913.5 1028.0L916.4 1027.5L919.4 1027.0L922.3 1026.6L925.3 1026.2L928.2 1025.9L931.2 1025.6L934.1 1025.4L937.1 1025.3L940.0 1025.2L943.0 1025.1L945.9 1025.1L948.9 1025.1L951.8 1025.2L954.8 1025.3L957.7 1025.4L960.7 1025.6L963.6 1025.8L966.6 1026.0L969.5 1026.3L972.5 1026.6L975.4 1027.0L978.4 1027.4L981.4 1027.8L984.3 1028.2L987.3 1028.7L990.2 1029.3L993.2 1029.8L996.1 1030.4L999.1 1031.1L1002.0 1031.7L1005.0 1032.4L1007.9 1033.1L1010.9 1033.9L1013.8 1034.6L1016.8 1035.4L1019.7 1036.3L1022.7 1037.1L1025.6 1038.0L1028.6 1038.9L1031.5 1039.8L1034.5 1040.8L1037.4 1041.7L1040.4 1042.7L1043.3 1043.7L1046.3 1044.7L1049.2 1045.7L1052.2 1046.8L1055.1 1047.8L1058.1 1048.9L1061.0 1050.0L1064.0 1051.1L1067.0 1052.2L1069.9 1053.3L1072.9 1054.4L1075.8 1055.5L1078.8 1056.7L1081.7 1057.8L1084.7 1059.0L1087.6 1060.1L1090.6 1061.3L1093.5 1062.5L1096.5 1063.7L1099.4 1064.8L1102.4 1066.0L1105.3 1067.2L1108.3 1068.4L1111.2 1069.5L1114.2 1070.7L1117.1 1071.9L1120.1 1073.0L1123.0 1074.2L1126.0 1075.3L1128.9 1076.4L1131.9 1077.6L1134.8 1078.7L1137.8 1079.8L1140.7 1081.0L1143.7 1082.1L1146.6 1083.2L1149.6 1084.3L1152.5 1085.4L1155.5 1086.5L1158.5 1087.6L1161.4 1088.7L1164.4 1089.8L1167.3 1090.8L1170.3 1091.9L1173.2 1093.0L1176.2 1094.1L1179.1 1095.1L1182.1 1096.2L1185.0 1097.3L1188.0 1098.3L1190.9 1099.4L1193.9 1100.4L1196.8 1101.5L1199.8 1102.5L1202.7 1103.6L1205.7 1104.6L1208.6 1105.7L1211.6 1106.7L1214.5 1107.7L1217.5 1108.8L1220.4 1109.8L1223.4 1110.8L1226.3 1111.8L1229.3 1112.9L1232.2 1113.9L1235.2 1114.9L1238.1 1115.9L1241.1 1116.9L1244.0 1117.9L1247.0 1118.9L1250.0 1119.8L1252.9 1120.8L1255.9 1121.8L1258.8 1122.8L1261.8 1123.7L1264.7 1124.7L1267.7 1125.6L1270.6 1126.6L1273.6 1127.5L1276.5 1128.4L1279.5 1129.4L1282.4 1130.3L1285.4 1131.2L1288.3 1132.1L1291.3 1133.0L1294.2 1133.9L1297.2 1134.8L1300.1 1135.7L1303.1 1136.6L1306.0 1137.5L1309.0 1138.4L1311.9 1139.2L1314.9 1140.1L1317.8 1140.9L1320.8 1141.8L1323.7 1142.6L1326.7 1143.5L1329.6 1144.3L1332.6 1145.2L1335.6 1146.0L1338.5 1146.8L1341.5 1147.6L1344.4 1148.5L1347.4 1149.3L1350.3 1150.1L1353.3 1150.9L1356.2 1151.7L1359.2 1152.5L1362.1 1153.3L1365.1 1154.1L1368.0 1154.9L1371.0 1155.6L1373.9 1156.4L1376.9 1157.2L1379.8 1158.0L1382.8 1158.7L1385.7 1159.5L1388.7 1160.2L1391.6 1161.0L1394.6 1161.7L1397.5 1162.4L1400.5 1163.1L1403.4 1163.8L1406.4 1164.5L1409.3 1165.2L1412.3 1165.9L1415.2 1166.6L1418.2 1167.2L1421.2 1167.8L1424.1 1168.5L1427.1 1169.1L1430.0 1169.7L1433.0 1170.3L1435.9 1170.8L1438.9 1171.4L1441.8 1172.0L1444.8 1172.5L1447.7 1173.0L1450.7 1173.6L1453.6 1174.1L1456.6 1174.6L1459.5 1175.1L1462.5 1175.6L1465.4 1176.1L1468.4 1176.5L1471.3 1177.0L1474.3 1177.5L1477.2 1177.9L1480.2 1178.4L1483.1 1178.8L1486.1 1179.2L1489.0 1179.7L1492.0 1180.1L1494.9 1180.5L1497.9 1180.9L1500.8 1181.3L1503.8 1181.7L1506.7 1182.1L1509.7 1182.5L1512.7 1182.9L1515.6 1183.3L1518.6 1183.7L1521.5 1184.1L1524.5 1184.5L1527.4 1184.8L1530.4 1185.2L1533.3 1185.6L1536.3 1185.9L1539.2 1186.3L1542.2 1186.7L1545.1 1187.0L1548.1 1187.4L1551.0 1187.7L1554.0 1188.1L1556.9 1188.4L1559.9 1188.8L1562.8 1189.1L1565.8 1189.5L1568.7 1189.8L1571.7 1190.1L1574.6 1190.5L1577.6 1190.8L1580.5 1191.1L1583.5 1191.5L1586.4 1191.8L1589.4 1192.1L1592.3 1192.5L1595.3 1192.8L1598.2 1193.1L1601.2 1193.4L1604.2 1193.7L1607.1 1194.1L1610.1 1194.4L1613.0 1194.7L1616.0 1195.0L1618.9 1195.3L1621.9 1195.6L1624.8 1195.9L1627.8 1196.2L1630.7 1196.5L1633.7 1196.8L1636.6 1197.1L1639.6 1197.4L1642.5 1197.7L1645.5 1197.9L1648.4 1198.2L1651.4 1198.5L1654.3 1198.8L1657.3 1199.0L1660.2 1199.3L1663.2 1199.6L1666.1 1199.9L1669.1 1200.1L1672.0 1200.4L1675.0 1200.6L1677.9 1200.9L1680.9 1201.1L1683.8 1201.4L1686.8 1201.6L1689.8 1201.9L1692.7 1202.1L1695.7 1202.3L1698.6 1202.6L1701.6 1202.8L1704.5 1203.0L1707.5 1203.3L1710.4 1203.5L1713.4 1203.7L1716.3 1203.9L1719.3 1204.1L1722.2 1204.3L1725.2 1204.5L1728.1 1204.7L1731.1 1204.9L1734.0 1205.1L1737.0 1205.3L1739.9 1205.5L1742.9 1205.7L1745.8 1205.9L1748.8 1206.1L1751.7 1206.2L1754.7 1206.4L1757.6 1206.6L1760.6 1206.8L1763.5 1206.9L1766.5 1207.1L1769.4 1207.3L1772.4 1207.4L1775.3 1207.6L1778.3 1207.7L1781.3 1207.9L1784.2 1208.0L1787.2 1208.2L1790.1 1208.3L1793.1 1208.5L1796.0 1208.6L1799.0 1208.7L1801.9 1208.9L1804.9 1209.0L1807.8 1209.1L1810.8 1209.3L1813.7 1209.4L1816.7 1209.5L1819.6 1209.7L1822.6 1209.8L1825.5 1209.9L1828.5 1210.0L1831.4 1210.1L1834.4 1210.2L1837.3 1210.3L1840.3 1210.5L1843.2 1210.6L1846.2 1210.7L1849.1 1210.8L1852.1 1210.9L1855.0 1211.0L1858.0 1211.1L1860.9 1211.2L1863.9 1211.3L1866.9 1211.4L1869.8 1211.4L1872.8 1211.5L1875.7 1211.6L1878.7 1211.7L1881.6 1211.8L1884.6 1211.9L1887.5 1212.0L1890.5 1212.0L1893.4 1212.1L1896.4 1212.2L1899.3 1212.3L1902.3 1212.3L1905.2 1212.4L1908.2 1212.5L1911.1 1212.6L1914.1 1212.6L1917.0 1212.7L1920.0 1212.8L1922.9 1212.8L1925.9 1212.9L1928.8 1212.9L1931.8 1213.0L1934.7 1213.1L1937.7 1213.1L1940.6 1213.2L1943.6 1213.2L1946.5 1213.3L1949.5 1213.3L1952.5 1213.4L1955.4 1213.4L1958.4 1213.5L1961.3 1213.5L1964.3 1213.6L1967.2 1213.6L1970.2 1213.7L1973.1 1213.7L1976.1 1213.7L1979.0 1213.8L1982.0 1213.8L1984.9 1213.9L1987.9 1213.9L1990.8 1213.9L1993.8 1214.0L1996.7 1214.0L1999.7 1214.0L2002.6 1214.1L2005.6 1214.1L2008.5 1214.1L2011.5 1214.2L2014.4 1214.2L2017.4 1214.2L2020.3 1214.3L2023.3 1214.3L2026.2 1214.3L2029.2 1214.3L2032.1 1214.4L2035.1 1214.4L2038.0 1214.4L2041.0 1214.4"/>
<path stroke="#FF0080" d="M270.0 1217.0L273.0 1217.0L275.9 1217.0L278.9 1217.0L281.8 1217.0L284.8 1217.0L287.7 1217.0L290.7 1217.0L293.6 1217.0L296.6 1217.0L299.5 1217.0L302.5 1217.0L305.4 1217.0L308.4 1217.0L311.3 1217.0L314.3 1217.0L317.2 1216.9L320.2 1216.8L323.1 1216.7L326.1 1216.6L329.0 1216.5L332.0 1216.5L334.9 1216.4L337.9 1216.3L340.8 1216.3L343.8 1216.3L346.7 1216.2L349.7 1216.2L352.6 1216.1L355.6 1216.1L358.6 1216.1L361.5 1216.1L364.5 1216.1L367.4 1216.0L370.4 1216.0L373.3 1216.0L376.3 1216.0L379.2 1216.0L382.2 1216.0L385.1 1216.0L388.1 1216.0L391.0 1216.0L394.0 1216.0L396.9 1216.0L399.9 1216.0L402.8 1216.0L405.8 1215.9L408.7 1215.9L411.7 1215.9L414.6 1215.9L417.6 1215.9L420.5 1215.9L423.5 1215.9L426.4 1215.8L429.4 1215.8L432.3 1215.8L435.3 1215.8L438.2 1215.7L441.2 1215.7L444.1 1215.7L447.1 1215.6L450.1 1215.6L453.0 1215.5L456.0 1215.5L458.9 1215.4L461.9 1215.3L464.8 1215.3L467.8 1215.2L470.7 1215.1L473.7 1215.0L476.6 1214.9L479.6 1214.8L482.5 1214.7L485.5 1214.6L488.4 1214.5L491.4 1214.4L494.3 1214.3L497.3 1214.1L500.2 1214.0L503.2 1213.8L506.1 1213.7L509.1 1213.5L512.0 1213.4L515.0 1213.2L517.9 1213.0L520.9 1212.8L523.8 1212.6L526.8 1212.4L529.7 1212.2L532.7 1212.0L535.6 1211.7L538.6 1211.5L541.6 1211.3L544.5 1211.0L547.5 1210.7L550.4 1210.4L553.4 1210.1L556.3 1209.8L559.3 1209.5L562.2 1209.1L565.2 1208.8L568.1 1208.4L571.1 1208.0L574.0 1207.6L577.0 1207.2L579.9 1206.7L582.9 1206.2L585.8 1205.7L588.8 1205.2L591.7 1204.7L594.7 1204.1L597.6 1203.6L600.6 1203.0L603.5 1202.4L606.5 1201.7L609.4 1201.1L612.4 1200.4L615.3 1199.7L618.3 1199.0L621.2 1198.2L624.2 1197.4L627.2 1196.6L630.1 1195.8L633.1 1194.9L636.0 1194.1L639.0 1193.1L641.9 1192.2L644.9 1191.3L647.8 1190.3L650.8 1189.3L653.7 1188.3L656.7 1187.2L659.6 1186.2L662.6 1185.1L665.5 1184.0L668.5 1182.9L671.4 1181.8L674.4 1180.7L677.3 1179.5L680.3 1178.3L683.2 1177.1L686.2 1175.9L689.1 1174.6L692.1 1173.4L695.0 1172.1L698.0 1170.7L700.9 1169.4L703.9 1168.0L706.8 1166.6L709.8 1165.2L712.8 1163.8L715.7 1162.3L718.7 1160.9L721.6 1159.4L724.6 1157.9L727.5 1156.4L730.5 1154.9L733.4 1153.4L736.4 1151.8L739.3 1150.3L742.3 1148.7L745.2 1147.2L748.2 1145.6L751.1 1144.1L754.1 1142.5L757.0 1140.9L760.0 1139.3L762.9 1137.8L765.9 1136.2L768.8 1134.6L771.8 1133.1L774.7 1131.5L777.7 1129.9L780.6 1128.4L783.6 1126.9L786.5 1125.3L789.5 1123.8L792.4 1122.3L795.4 1120.8L798.3 1119.4L801.3 1117.9L804.3 1116.5L807.2 1115.1L810.2 1113.7L813.1 1112.3L816.1 1110.9L819.0 1109.6L822.0 1108.2L824.9 1106.9L827.9 1105.6L830.8 1104.4L833.8 1103.1L836.7 1101.9L839.7 1100.7L842.6 1099.5L845.6 1098.3L848.5 1097.2L851.5 1096.1L854.4 1095.0L857.4 1093.9L860.3 1092.8L863.3 1091.7L866.2 1090.7L869.2 1089.7L872.1 1088.7L875.1 1087.7L878.0 1086.7L881.0 1085.8L883.9 1084.9L886.9 1084.1L889.9 1083.4L892.8 1082.7L895.8 1082.1L898.7 1081.5L901.7 1081.0L904.6 1080.4L907.6 1079.9L910.5 1079.4L913.5 1079.0L916.4 1078.5L919.4 1078.1L922.3 1077.7L925.3 1077.3L928.2 1077.0L931.2 1076.8L934.1 1076.5L937.1 1076.4L940.0 1076.2L943.0 1076.1L945.9 1076.0L948.9 1076.0L951.8 1076.0L954.8 1076.0L957.7 1076.0L960.7 1076.1L963.6 1076.2L966.6 1076.3L969.5 1076.5L972.5 1076.7L975.4 1076.9L978.4 1077.1L981.4 1077.4L984.3 1077.7L987.3 1078.0L990.2 1078.3L993.2 1078.7L996.1 1079.1L999.1 1079.5L1002.0 1079.9L1005.0 1080.4L1007.9 1080.9L1010.9 1081.4L1013.8 1081.9L1016.8 1082.5L1019.7 1083.0L1022.7 1083.6L1025.6 1084.3L1028.6 1084.9L1031.5 1085.5L1034.5 1086.2L1037.4 1086.9L1040.4 1087.6L1043.3 1088.3L1046.3 1089.0L1049.2 1089.7L1052.2 1090.5L1055.1 1091.2L1058.1 1092.0L1061.0 1092.8L1064.0 1093.5L1067.0 1094.3L1069.9 1095.1L1072.9 1095.9L1075.8 1096.8L1078.8 1097.6L1081.7 1098.4L1084.7 1099.2L1087.6 1100.1L1090.6 1100.9L1093.5 1101.8L1096.5 1102.6L1099.4 1103.5L1102.4 1104.3L1105.3 1105.2L1108.3 1106.0L1111.2 1106.9L1114.2 1107.7L1117.1 1108.6L1120.1 1109.4L1123.0 1110.3L1126.0 1111.1L1128.9 1111.9L1131.9 1112.7L1134.8 1113.6L1137.8 1114.4L1140.7 1115.2L1143.7 1116.0L1146.6 1116.8L1149.6 1117.6L1152.5 1118.4L1155.5 1119.2L1158.5 1120.0L1161.4 1120.8L1164.4 1121.6L1167.3 1122.4L1170.3 1123.2L1173.2 1124.0L1176.2 1124.8L1179.1 1125.6L1182.1 1126.4L1185.0 1127.1L1188.0 1127.9L1190.9 1128.7L1193.9 1129.5L1196.8 1130.3L1199.8 1131.0L1202.7 1131.8L1205.7 1132.6L1208.6 1133.3L1211.6 1134.1L1214.5 1134.9L1217.5 1135.6L1220.4 1136.4L1223.4 1137.1L1226.3 1137.9L1229.3 1138.6L1232.2 1139.4L1235.2 1140.1L1238.1 1140.9L1241.1 1141.6L1244.0 1142.3L1247.0 1143.1L1250.0 1143.8L1252.9 1144.5L1255.9 1145.2L1258.8 1146.0L1261.8 1146.7L1264.7 1147.4L1267.7 1148.1L1270.6 1148.8L1273.6 1149.5L1276.5 1150.2L1279.5 1150.9L1282.4 1151.6L1285.4 1152.2L1288.3 1152.9L1291.3 1153.6L1294.2 1154.3L1297.2 1154.9L1300.1 1155.6L1303.1 1156.2L1306.0 1156.9L1309.0 1157.5L1311.9 1158.2L1314.9 1158.8L1317.8 1159.5L1320.8 1160.1L1323.7 1160.8L1326.7 1161.4L1329.6 1162.0L1332.6 1162.6L1335.6 1163.3L1338.5 1163.9L1341.5 1164.5L1344.4 1165.1L1347.4 1165.7L1350.3 1166.3L1353.3 1167.0L1356.2 1167.6L1359.2 1168.2L1362.1 1168.8L1365.1 1169.4L1368.0 1170.0L1371.0 1170.6L1373.9 1171.1L1376.9 1171.7L1379.8 1172.3L1382.8 1172.9L1385.7 1173.4L1388.7 1174.0L1391.6 1174.5L1394.6 1175.1L1397.5 1175.6L1400.5 1176.1L1403.4 1176.6L1406.4 1177.1L1409.3 1177.6L1412.3 1178.1L1415.2 1178.6L1418.2 1179.1L1421.2 1179.5L1424.1 1180.0L1427.1 1180.4L1430.0 1180.8L1433.0 1181.3L1435.9 1181.7L1438.9 1182.1L1441.8 1182.5L1444.8 1182.9L1447.7 1183.3L1450.7 1183.6L1453.6 1184.0L1456.6 1184.4L1459.5 1184.8L1462.5 1185.1L1465.4 1185.5L1468.4 1185.8L1471.3 1186.2L1474.3 1186.5L1477.2 1186.8L1480.2 1187.2L1483.1 1187.5L1486.1 1187.8L1489.0 1188.2L1492.0 1188.5L1494.9 1188.8L1497.9 1189.1L1500.8 1189.4L1503.8 1189.7L1506.7 1190.0L1509.7 1190.3L1512.7 1190.6L1515.6 1190.9L1518.6 1191.2L1521.5 1191.5L1524.5 1191.8L1527.4 1192.1L1530.4 1192.4L1533.3 1192.7L1536.3 1192.9L1539.2 1193.2L1542.2 1193.5L1545.1 1193.8L1548.1 1194.1L1551.0 1194.3L1554.0 1194.6L1556.9 1194.9L1559.9 1195.2L1562.8 1195.4L1565.8 1195.7L1568.7 1196.0L1571.7 1196.2L1574.6 1196.5L1577.6 1196.8L1580.5 1197.0L1583.5 1197.3L1586.4 1197.5L1589.4 1197.8L1592.3 1198.1L1595.3 1198.3L1598.2 1198.6L1601.2 1198.8L1604.2 1199.1L1607.1 1199.3L1610.1 1199.6L1613.0 1199.8L1616.0 1200.0L1618.9 1200.3L1621.9 1200.5L1624.8 1200.8L1627.8 1201.0L1630.7 1201.2L1633.7 1201.4L1636.6 1201.7L1639.6 1201.9L1642.5 1202.1L1645.5 1202.3L1648.4 1202.6L1651.4 1202.8L1654.3 1203.0L1657.3 1203.2L1660.2 1203.4L1663.2 1203.6L1666.1 1203.8L1669.1 1204.0L1672.0 1204.2L1675.0 1204.4L1677.9 1204.6L1680.9 1204.8L1683.8 1205.0L1686.8 1205.2L1689.8 1205.4L1692.7 1205.5L1695.7 1205.7L1698.6 1205.9L1701.6 1206.1L1704.5 1206.3L1707.5 1206.4L1710.4 1206.6L1713.4 1206.8L1716.3 1206.9L1719.3 1207.1L1722.2 1207.2L1725.2 1207.4L1728.1 1207.5L1731.1 1207.7L1734.0 1207.8L1737.0 1208.0L1739.9 1208.1L1742.9 1208.3L1745.8 1208.4L1748.8 1208.5L1751.7 1208.7L1754.7 1208.8L1757.6 1208.9L1760.6 1209.1L1763.5 1209.2L1766.5 1209.3L1769.4 1209.4L1772.4 1209.6L1775.3 1209.7L1778.3 1209.8L1781.3 1209.9L1784.2 1210.0L1787.2 1210.1L1790.1 1210.3L1793.1 1210.4L1796.0 1210.5L1799.0 1210.6L1801.9 1210.7L1804.9 1210.8L1807.8 1210.9L1810.8 1211.0L1813.7 1211.1L1816.7 1211.2L1819.6 1211.3L1822.6 1211.4L1825.5 1211.4L1828.5 1211.5L1831.4 1211.6L1834.4 1211.7L1837.3 1211.8L1840.3 1211.9L1843.2 1211.9L1846.2 1212.0L1849.1 1212.1L1852.1 1212.2L1855.0 1212.3L1858.0 1212.3L1860.9 1212.4L1863.9 1212.5L1866.9 1212.5L1869.8 1212.6L1872.8 1212.7L1875.7 1212.7L1878.7 1212.8L1881.6 1212.9L1884.6 1212.9L1887.5 1213.0L1890.5 1213.0L1893.4 1213.1L1896.4 1213.2L1899.3 1213.2L1902.3 1213.3L1905.2 1213.3L1908.2 1213.4L1911.1 1213.4L1914.1 1213.5L1917.0 1213.5L1920.0 1213.6L1922.9 1213.6L1925.9 1213.7L1928.8 1213.7L1931.8 1213.7L1934.7 1213.8L1937.7 1213.8L1940.6 1213.9L1943.6 1213.9L1946.5 1213.9L1949.5 1214.0L1952.5 1214.0L1955.4 1214.0L1958.4 1214.1L1961.3 1214.1L1964.3 1214.1L1967.2 1214.2L1970.2 1214.2L1973.1 1214.2L1976.1 1214.3L1979.0 1214.3L1982.0 1214.3L1984.9 1214.3L1987.9 1214.4L1990.8 1214.4L1993.8 1214.4L1996.7 1214.4L1999.7 1214.5L2002.6 1214.5L2005.6 1214.5L2008.5 1214.5L2011.5 1214.6L2014.4 1214.6L2017.4 1214.6L2020.3 1214.6L2023.3 1214.6L2026.2 1214.6L2029.2 1214.7L2032.1 1214.7L2035.1 1214.7L2038.0 1214.7L2041.0 1214.7"/>
<path stroke="#FFFFFF" d="M270.0 1217.0L273.0 1217.0L275.9 1217.0L278.9 1217.0L281.8 1217.0L284.8 1217.0L287.7 1217.0L290.7 1217.0L293.6 1217.0L296.6 1217.0L299.5 1217.0L302.5 1217.0L305.4 1217.0L308.4 1217.0L311.3 1217.0L314.3 1217.0L317.2 1216.9L320.2 1216.8L323.1 1216.7L326.1 1216.6L329.0 1216.6L332.0 1216.5L334.9 1216.4L337.9 1216.4L340.8 1216.3L343.8 1216.3L346.7 1216.3L349.7 1216.2L352.6 1216.2L355.6 1216.2L358.6 1216.2L361.5 1216.1L364.5 1216.1L367.4 1216.1L370.4 1216.1L373.3 1216.1L376.3 1216.1L379.2 1216.1L382.2 1216.1L385.1 1216.1L388.1 1216.1L391.0 1216.1L394.0 1216.0L396.9 1216.0L399.9 1216.0L402.8 1216.0L405.8 1216.0L408.7 1216.0L411.7 1216.0L414.6 1216.0L417.6 1216.0L420.5 1216.0L423.5 1215.9L426.4 1215.9L429.4 1215.9L432.3 1215.9L435.3 1215.9L438.2 1215.8L441.2 1215.8L444.1 1215.8L447.1 1215.7L450.1 1215.7L453.0 1215.6L456.0 1215.6L458.9 1215.5L461.9 1215.4L464.8 1215.4L467.8 1215.3L470.7 1215.2L473.7 1215.2L476.6 1215.1L479.6 1215.0L482.5 1214.9L485.5 1214.8L488.4 1214.7L491.4 1214.6L494.3 1214.4L497.3 1214.3L500.2 1214.2L503.2 1214.1L506.1 1213.9L509.1 1213.8L512.0 1213.6L515.0 1213.5L517.9 1213.3L520.9 1213.1L523.8 1212.9L526.8 1212.7L529.7 1212.5L532.7 1212.3L535.6 1212.1L538.6 1211.9L541.6 1211.6L544.5 1211.4L547.5 1211.1L550.4 1210.9L553.4 1210.6L556.3 1210.3L559.3 1210.0L562.2 1209.7L565.2 1209.3L568.1 1209.0L571.1 1208.6L574.0 1208.2L577.0 1207.8L579.9 1207.4L582.9 1207.0L585.8 1206.5L588.8 1206.0L591.7 1205.5L594.7 1205.0L597.6 1204.5L600.6 1203.9L603.5 1203.4L606.5 1202.8L609.4 1202.2L612.4 1201.5L615.3 1200.9L618.3 1200.2L621.2 1199.5L624.2 1198.8L627.2 1198.0L630.1 1197.2L633.1 1196.4L636.0 1195.6L639.0 1194.8L641.9 1193.9L644.9 1193.0L647.8 1192.1L650.8 1191.2L653.7 1190.2L656.7 1189.3L659.6 1188.3L662.6 1187.3L665.5 1186.3L668.5 1185.3L671.4 1184.2L674.4 1183.2L677.3 1182.1L680.3 1181.0L683.2 1179.9L686.2 1178.7L689.1 1177.5L692.1 1176.4L695.0 1175.1L698.0 1173.9L700.9 1172.7L703.9 1171.4L706.8 1170.1L709.8 1168.8L712.8 1167.4L715.7 1166.1L718.7 1164.7L721.6 1163.3L724.6 1162.0L727.5 1160.6L730.5 1159.1L733.4 1157.7L736.4 1156.3L739.3 1154.9L742.3 1153.4L745.2 1152.0L748.2 1150.5L751.1 1149.0L754.1 1147.6L757.0 1146.1L760.0 1144.7L762.9 1143.2L765.9 1141.7L768.8 1140.3L771.8 1138.8L774.7 1137.4L777.7 1135.9L780.6 1134.5L783.6 1133.0L786.5 1131.6L789.5 1130.2L792.4 1128.8L795.4 1127.4L798.3 1126.1L801.3 1124.7L804.3 1123.4L807.2 1122.0L810.2 1120.7L813.1 1119.5L816.1 1118.2L819.0 1116.9L822.0 1115.7L824.9 1114.5L827.9 1113.3L830.8 1112.1L833.8 1110.9L836.7 1109.8L839.7 1108.7L842.6 1107.6L845.6 1106.5L848.5 1105.4L851.5 1104.4L854.4 1103.3L857.4 1102.3L860.3 1101.3L863.3 1100.3L866.2 1099.3L869.2 1098.4L872.1 1097.5L875.1 1096.5L878.0 1095.6L881.0 1094.8L883.9 1094.0L886.9 1093.2L889.9 1092.5L892.8 1091.9L895.8 1091.3L898.7 1090.8L901.7 1090.3L904.6 1089.8L907.6 1089.3L910.5 1088.9L913.5 1088.4L916.4 1088.0L919.4 1087.6L922.3 1087.2L925.3 1086.9L928.2 1086.6L931.2 1086.4L934.1 1086.2L937.1 1086.0L940.0 1085.9L943.0 1085.8L945.9 1085.7L948.9 1085.7L951.8 1085.6L954.8 1085.7L957.7 1085.7L960.7 1085.8L963.6 1085.9L966.6 1086.0L969.5 1086.1L972.5 1086.3L975.4 1086.5L978.4 1086.7L981.4 1086.9L984.3 1087.2L987.3 1087.5L990.2 1087.8L993.2 1088.2L996.1 1088.5L999.1 1088.9L1002.0 1089.3L1005.0 1089.8L1007.9 1090.2L1010.9 1090.7L1013.8 1091.2L1016.8 1091.7L1019.7 1092.2L1022.7 1092.8L1025.6 1093.3L1028.6 1093.9L1031.5 1094.5L1034.5 1095.2L1037.4 1095.8L1040.4 1096.4L1043.3 1097.1L1046.3 1097.8L1049.2 1098.5L1052.2 1099.1L1055.1 1099.8L1058.1 1100.5L1061.0 1101.3L1064.0 1102.0L1067.0 1102.7L1069.9 1103.5L1072.9 1104.2L1075.8 1105.0L1078.8 1105.8L1081.7 1106.5L1084.7 1107.3L1087.6 1108.1L1090.6 1108.9L1093.5 1109.7L1096.5 1110.5L1099.4 1111.3L1102.4 1112.1L1105.3 1112.9L1108.3 1113.6L1111.2 1114.4L1114.2 1115.2L1117.1 1116.0L1120.1 1116.8L1123.0 1117.6L1126.0 1118.4L1128.9 1119.1L1131.9 1119.9L1134.8 1120.7L1137.8 1121.4L1140.7 1122.2L1143.7 1122.9L1146.6 1123.7L1149.6 1124.4L1152.5 1125.2L1155.5 1125.9L1158.5 1126.7L1161.4 1127.4L1164.4 1128.2L1167.3 1128.9L1170.3 1129.6L1173.2 1130.4L1176.2 1131.1L1179.1 1131.8L1182.1 1132.6L1185.0 1133.3L1188.0 1134.0L1190.9 1134.8L1193.9 1135.5L1196.8 1136.2L1199.8 1136.9L1202.7 1137.6L1205.7 1138.4L1208.6 1139.1L1211.6 1139.8L1214.5 1140.5L1217.5 1141.2L1220.4 1141.9L1223.4 1142.6L1226.3 1143.3L1229.3 1144.0L1232.2 1144.7L1235.2 1145.4L1238.1 1146.1L1241.1 1146.8L1244.0 1147.5L1247.0 1148.1L1250.0 1148.8L1252.9 1149.5L1255.9 1150.2L1258.8 1150.8L1261.8 1151.5L1264.7 1152.2L1267.7 1152.8L1270.6 1153.5L1273.6 1154.1L1276.5 1154.8L1279.5 1155.4L1282.4 1156.0L1285.4 1156.7L1288.3 1157.3L1291.3 1157.9L1294.2 1158.6L1297.2 1159.2L1300.1 1159.8L1303.1 1160.4L1306.0 1161.0L1309.0 1161.6L1311.9 1162.2L1314.9 1162.8L1317.8 1163.4L1320.8 1164.0L1323.7 1164.6L1326.7 1165.2L1329.6 1165.8L1332.6 1166.4L1335.6 1166.9L1338.5 1167.5L1341.5 1168.1L1344.4 1168.7L1347.4 1169.2L1350.3 1169.8L1353.3 1170.4L1356.2 1170.9L1359.2 1171.5L1362.1 1172.1L1365.1 1172.6L1368.0 1173.2L1371.0 1173.7L1373.9 1174.3L1376.9 1174.8L1379.8 1175.4L1382.8 1175.9L1385.7 1176.4L1388.7 1176.9L1391.6 1177.4L1394.6 1177.9L1397.5 1178.4L1400.5 1178.9L1403.4 1179.4L1406.4 1179.9L1409.3 1180.3L1412.3 1180.8L1415.2 1181.2L1418.2 1181.7L1421.2 1182.1L1424.1 1182.5L1427.1 1182.9L1430.0 1183.3L1433.0 1183.7L1435.9 1184.1L1438.9 1184.5L1441.8 1184.8L1444.8 1185.2L1447.7 1185.6L1450.7 1185.9L1453.6 1186.3L1456.6 1186.6L1459.5 1187.0L1462.5 1187.3L1465.4 1187.6L1468.4 1188.0L1471.3 1188.3L1474.3 1188.6L1477.2 1188.9L1480.2 1189.2L1483.1 1189.5L1486.1 1189.8L1489.0 1190.1L1492.0 1190.4L1494.9 1190.7L1497.9 1191.0L1500.8 1191.3L1503.8 1191.6L1506.7 1191.9L1509.7 1192.2L1512.7 1192.4L1515.6 1192.7L1518.6 1193.0L1521.5 1193.3L1524.5 1193.5L1527.4 1193.8L1530.4 1194.1L1533.3 1194.3L1536.3 1194.6L1539.2 1194.9L1542.2 1195.1L1545.1 1195.4L1548.1 1195.6L1551.0 1195.9L1554.0 1196.1L1556.9 1196.4L1559.9 1196.7L1562.8 1196.9L1565.8 1197.2L1568.7 1197.4L1571.7 1197.7L1574.6 1197.9L1577.6 1198.2L1580.5 1198.4L1583.5 1198.6L1586.4 1198.9L1589.4 1199.1L1592.3 1199.4L1595.3 1199.6L1598.2 1199.8L1601.2 1200.1L1604.2 1200.3L1607.1 1200.5L1610.1 1200.8L1613.0 1201.0L1616.0 1201.2L1618.9 1201.4L1621.9 1201.6L1624.8 1201.9L1627.8 1202.1L1630.7 1202.3L1633.7 1202.5L1636.6 1202.7L1639.6 1202.9L1642.5 1203.1L1645.5 1203.3L1648.4 1203.5L1651.4 1203.7L1654.3 1203.9L1657.3 1204.1L1660.2 1204.3L1663.2 1204.5L1666.1 1204.7L1669.1 1204.9L1672.0 1205.1L1675.0 1205.3L1677.9 1205.5L1680.9 1205.6L1683.8 1205.8L1686.8 1206.0L1689.8 1206.2L1692.7 1206.3L1695.7 1206.5L1698.6 1206.7L1701.6 1206.8L1704.5 1207.0L1707.5 1207.1L1710.4 1207.3L1713.4 1207.5L1716.3 1207.6L1719.3 1207.8L1722.2 1207.9L1725.2 1208.0L1728.1 1208.2L1731.1 1208.3L1734.0 1208.5L1737.0 1208.6L1739.9 1208.7L1742.9 1208.9L1745.8 1209.0L1748.8 1209.1L1751.7 1209.3L1754.7 1209.4L1757.6 1209.5L1760.6 1209.6L1763.5 1209.7L1766.5 1209.9L1769.4 1210.0L1772.4 1210.1L1775.3 1210.2L1778.3 1210.3L1781.3 1210.4L1784.2 1210.5L1787.2 1210.6L1790.1 1210.7L1793.1 1210.8L1796.0 1210.9L1799.0 1211.0L1801.9 1211.1L1804.9 1211.2L1807.8 1211.3L1810.8 1211.4L1813.7 1211.5L1816.7 1211.6L1819.6 1211.7L1822.6 1211.7L1825.5 1211.8L1828.5 1211.9L1831.4 1212.0L1834.4 1212.1L1837.3 1212.1L1840.3 1212.2L1843.2 1212.3L1846.2 1212.4L1849.1 1212.4L1852.1 1212.5L1855.0 1212.6L1858.0 1212.6L1860.9 1212.7L1863.9 1212.8L1866.9 1212.8L1869.8 1212.9L1872.8 1213.0L1875.7 1213.0L1878.7 1213.1L1881.6 1213.1L1884.6 1213.2L1887.5 1213.3L1890.5 1213.3L1893.4 1213.4L1896.4 1213.4L1899.3 1213.5L1902.3 1213.5L1905.2 1213.6L1908.2 1213.6L1911.1 1213.7L1914.1 1213.7L1917.0 1213.8L1920.0 1213.8L1922.9 1213.8L1925.9 1213.9L1928.8 1213.9L1931.8 1214.0L1934.7 1214.0L1937.7 1214.0L1940.6 1214.1L1943.6 1214.1L1946.5 1214.1L1949.5 1214.2L1952.5 1214.2L1955.4 1214.2L1958.4 1214.3L1961.3 1214.3L1964.3 1214.3L1967.2 1214.4L1970.2 1214.4L1973.1 1214.4L1976.1 1214.5L1979.0 1214.5L1982.0 1214.5L1984.9 1214.5L1987.9 1214.6L1990.8 1214.6L1993.8 1214.6L1996.7 1214.6L1999.7 1214.6L2002.6 1214.7L2005.6 1214.7L2008.5 1214.7L2011.5 1214.7L2014.4 1214.7L2017.4 1214.8L2020.3 1214.8L2023.3 1214.8L2026.2 1214.8L2029.2 1214.8L2032.1 1214.8L2035.1 1214.8L2038.0 1214.8L2041.0 1214.8"/>
<path stroke="#D2D2D2" d="M270.0 1215.8L273.0 1215.8L275.9 1215.8L278.9 1215.8L281.8 1215.8L284.8 1215.8L287.7 1215.8L290.7 1215.8L293.6 1215.8L296.6 1215.8L299.5 1215.8L302.5 1215.8L305.4 1215.8L308.4 1215.8L311.3 1215.8L314.3 1215.8L317.2 1215.8L320.2 1215.8L323.1 1215.8L326.1 1215.8L329.0 1215.8L332.0 1215.8L334.9 1215.8L337.9 1215.8L340.8 1215.8L343.8 1215.7L346.7 1215.7L349.7 1215.7L352.6 1215.7L355.6 1215.7L358.6 1215.7L361.5 1215.7L364.5 1215.7L367.4 1215.7L370.4 1215.7L373.3 1215.7L376.3 1215.7L379.2 1215.7L382.2 1215.6L385.1 1215.6L388.1 1215.6L391.0 1215.6L394.0 1215.6L396.9 1215.6L399.9 1215.6L402.8 1215.6L405.8 1215.5L408.7 1215.5L411.7 1215.5L414.6 1215.5L417.6 1215.5L420.5 1215.4L423.5 1215.4L426.4 1215.4L429.4 1215.4L432.3 1215.3L435.3 1215.3L438.2 1215.3L441.2 1215.2L444.1 1215.2L447.1 1215.1L450.1 1215.1L453.0 1215.1L456.0 1215.0L458.9 1215.0L461.9 1214.9L464.8 1214.9L467.8 1214.8L470.7 1214.7L473.7 1214.7L476.6 1214.6L479.6 1214.5L482.5 1214.4L485.5 1214.3L488.4 1214.3L491.4 1214.2L494.3 1214.1L497.3 1214.0L500.2 1213.8L503.2 1213.7L506.1 1213.6L509.1 1213.5L512.0 1213.3L515.0 1213.2L517.9 1213.0L520.9 1212.9L523.8 1212.7L526.8 1212.5L529.7 1212.4L532.7 1212.2L535.6 1212.0L538.6 1211.7L541.6 1211.5L544.5 1211.3L547.5 1211.0L550.4 1210.8L553.4 1210.5L556.3 1210.2L559.3 1210.0L562.2 1209.7L565.2 1209.3L568.1 1209.0L571.1 1208.7L574.0 1208.3L577.0 1208.0L579.9 1207.6L582.9 1207.2L585.8 1206.8L588.8 1206.4L591.7 1206.0L594.7 1205.6L597.6 1205.1L600.6 1204.7L603.5 1204.2L606.5 1203.7L609.4 1203.2L612.4 1202.7L615.3 1202.1L618.3 1201.6L621.2 1201.0L624.2 1200.4L627.2 1199.8L630.1 1199.2L633.1 1198.6L636.0 1197.9L639.0 1197.2L641.9 1196.5L644.9 1195.8L647.8 1195.0L650.8 1194.3L653.7 1193.5L656.7 1192.7L659.6 1191.9L662.6 1191.1L665.5 1190.2L668.5 1189.4L671.4 1188.5L674.4 1187.6L677.3 1186.7L680.3 1185.8L683.2 1184.9L686.2 1183.9L689.1 1182.9L692.1 1182.0L695.0 1181.0L698.0 1179.9L700.9 1178.9L703.9 1177.9L706.8 1176.8L709.8 1175.8L712.8 1174.7L715.7 1173.6L718.7 1172.5L721.6 1171.4L724.6 1170.3L727.5 1169.2L730.5 1168.1L733.4 1166.9L736.4 1165.8L739.3 1164.7L742.3 1163.5L745.2 1162.4L748.2 1161.2L751.1 1160.1L754.1 1158.9L757.0 1157.8L760.0 1156.6L762.9 1155.5L765.9 1154.3L768.8 1153.2L771.8 1152.0L774.7 1150.9L777.7 1149.8L780.6 1148.6L783.6 1147.5L786.5 1146.4L789.5 1145.3L792.4 1144.2L795.4 1143.1L798.3 1142.0L801.3 1140.9L804.3 1139.8L807.2 1138.7L810.2 1137.7L813.1 1136.6L816.1 1135.5L819.0 1134.5L822.0 1133.5L824.9 1132.4L827.9 1131.4L830.8 1130.4L833.8 1129.4L836.7 1128.4L839.7 1127.4L842.6 1126.5L845.6 1125.5L848.5 1124.5L851.5 1123.6L854.4 1122.7L857.4 1121.7L860.3 1120.8L863.3 1120.0L866.2 1119.1L869.2 1118.3L872.1 1117.6L875.1 1116.9L878.0 1116.3L881.0 1115.7L883.9 1115.1L886.9 1114.6L889.9 1114.1L892.8 1113.6L895.8 1113.1L898.7 1112.6L901.7 1112.1L904.6 1111.6L907.6 1111.2L910.5 1110.8L913.5 1110.4L916.4 1110.0L919.4 1109.7L922.3 1109.4L925.3 1109.1L928.2 1108.9L931.2 1108.7L934.1 1108.5L937.1 1108.3L940.0 1108.2L943.0 1108.2L945.9 1108.1L948.9 1108.1L951.8 1108.1L954.8 1108.1L957.7 1108.1L960.7 1108.2L963.6 1108.2L966.6 1108.3L969.5 1108.5L972.5 1108.6L975.4 1108.8L978.4 1108.9L981.4 1109.1L984.3 1109.4L987.3 1109.6L990.2 1109.9L993.2 1110.1L996.1 1110.5L999.1 1110.8L1002.0 1111.1L1005.0 1111.5L1007.9 1111.9L1010.9 1112.3L1013.8 1112.7L1016.8 1113.1L1019.7 1113.5L1022.7 1114.0L1025.6 1114.5L1028.6 1114.9L1031.5 1115.4L1034.5 1116.0L1037.4 1116.5L1040.4 1117.0L1043.3 1117.6L1046.3 1118.1L1049.2 1118.7L1052.2 1119.2L1055.1 1119.8L1058.1 1120.4L1061.0 1121.0L1064.0 1121.6L1067.0 1122.2L1069.9 1122.8L1072.9 1123.5L1075.8 1124.1L1078.8 1124.7L1081.7 1125.4L1084.7 1126.0L1087.6 1126.7L1090.6 1127.3L1093.5 1128.0L1096.5 1128.6L1099.4 1129.3L1102.4 1129.9L1105.3 1130.6L1108.3 1131.2L1111.2 1131.9L1114.2 1132.5L1117.1 1133.2L1120.1 1133.8L1123.0 1134.4L1126.0 1135.1L1128.9 1135.7L1131.9 1136.4L1134.8 1137.0L1137.8 1137.6L1140.7 1138.2L1143.7 1138.9L1146.6 1139.5L1149.6 1140.1L1152.5 1140.7L1155.5 1141.3L1158.5 1141.9L1161.4 1142.6L1164.4 1143.2L1167.3 1143.8L1170.3 1144.4L1173.2 1145.0L1176.2 1145.6L1179.1 1146.2L1182.1 1146.8L1185.0 1147.4L1188.0 1148.0L1190.9 1148.6L1193.9 1149.2L1196.8 1149.8L1199.8 1150.4L1202.7 1151.0L1205.7 1151.5L1208.6 1152.1L1211.6 1152.7L1214.5 1153.3L1217.5 1153.9L1220.4 1154.5L1223.4 1155.0L1226.3 1155.6L1229.3 1156.2L1232.2 1156.8L1235.2 1157.3L1238.1 1157.9L1241.1 1158.5L1244.0 1159.0L1247.0 1159.6L1250.0 1160.2L1252.9 1160.7L1255.9 1161.3L1258.8 1161.8L1261.8 1162.4L1264.7 1162.9L1267.7 1163.4L1270.6 1164.0L1273.6 1164.5L1276.5 1165.0L1279.5 1165.6L1282.4 1166.1L1285.4 1166.6L1288.3 1167.1L1291.3 1167.6L1294.2 1168.2L1297.2 1168.7L1300.1 1169.2L1303.1 1169.7L1306.0 1170.2L1309.0 1170.7L1311.9 1171.2L1314.9 1171.7L1317.8 1172.2L1320.8 1172.7L1323.7 1173.1L1326.7 1173.6L1329.6 1174.1L1332.6 1174.6L1335.6 1175.1L1338.5 1175.5L1341.5 1176.0L1344.4 1176.5L1347.4 1177.0L1350.3 1177.4L1353.3 1177.9L1356.2 1178.4L1359.2 1178.8L1362.1 1179.3L1365.1 1179.8L1368.0 1180.2L1371.0 1180.7L1373.9 1181.1L1376.9 1181.5L1379.8 1182.0L1382.8 1182.4L1385.7 1182.8L1388.7 1183.3L1391.6 1183.7L1394.6 1184.1L1397.5 1184.5L1400.5 1184.9L1403.4 1185.3L1406.4 1185.6L1409.3 1186.0L1412.3 1186.4L1415.2 1186.7L1418.2 1187.1L1421.2 1187.4L1424.1 1187.7L1427.1 1188.1L1430.0 1188.4L1433.0 1188.7L1435.9 1189.0L1438.9 1189.3L1441.8 1189.6L1444.8 1189.9L1447.7 1190.2L1450.7 1190.5L1453.6 1190.8L1456.6 1191.1L1459.5 1191.4L1462.5 1191.6L1465.4 1191.9L1468.4 1192.2L1471.3 1192.4L1474.3 1192.7L1477.2 1192.9L1480.2 1193.2L1483.1 1193.4L1486.1 1193.7L1489.0 1193.9L1492.0 1194.2L1494.9 1194.4L1497.9 1194.7L1500.8 1194.9L1503.8 1195.1L1506.7 1195.4L1509.7 1195.6L1512.7 1195.8L1515.6 1196.0L1518.6 1196.3L1521.5 1196.5L1524.5 1196.7L1527.4 1196.9L1530.4 1197.2L1533.3 1197.4L1536.3 1197.6L1539.2 1197.8L1542.2 1198.0L1545.1 1198.2L1548.1 1198.5L1551.0 1198.7L1554.0 1198.9L1556.9 1199.1L1559.9 1199.3L1562.8 1199.5L1565.8 1199.7L1568.7 1199.9L1571.7 1200.1L1574.6 1200.3L1577.6 1200.5L1580.5 1200.7L1583.5 1201.0L1586.4 1201.1L1589.4 1201.3L1592.3 1201.5L1595.3 1201.7L1598.2 1201.9L1601.2 1202.1L1604.2 1202.3L1607.1 1202.5L1610.1 1202.7L1613.0 1202.9L1616.0 1203.1L1618.9 1203.2L1621.9 1203.4L1624.8 1203.6L1627.8 1203.8L1630.7 1204.0L1633.7 1204.1L1636.6 1204.3L1639.6 1204.5L1642.5 1204.6L1645.5 1204.8L1648.4 1205.0L1651.4 1205.1L1654.3 1205.3L1657.3 1205.5L1660.2 1205.6L1663.2 1205.8L1666.1 1205.9L1669.1 1206.1L1672.0 1206.2L1675.0 1206.4L1677.9 1206.5L1680.9 1206.7L1683.8 1206.8L1686.8 1207.0L1689.8 1207.1L1692.7 1207.3L1695.7 1207.4L1698.6 1207.5L1701.6 1207.7L1704.5 1207.8L1707.5 1207.9L1710.4 1208.0L1713.4 1208.2L1716.3 1208.3L1719.3 1208.4L1722.2 1208.5L1725.2 1208.6L1728.1 1208.7L1731.1 1208.9L1734.0 1209.0L1737.0 1209.1L1739.9 1209.2L1742.9 1209.3L1745.8 1209.4L1748.8 1209.5L1751.7 1209.6L1754.7 1209.7L1757.6 1209.8L1760.6 1209.9L1763.5 1210.0L1766.5 1210.1L1769.4 1210.2L1772.4 1210.3L1775.3 1210.4L1778.3 1210.4L1781.3 1210.5L1784.2 1210.6L1787.2 1210.7L1790.1 1210.8L1793.1 1210.9L1796.0 1210.9L1799.0 1211.0L1801.9 1211.1L1804.9 1211.2L1807.8 1211.2L1810.8 1211.3L1813.7 1211.4L1816.7 1211.5L1819.6 1211.5L1822.6 1211.6L1825.5 1211.7L1828.5 1211.7L1831.4 1211.8L1834.4 1211.9L1837.3 1211.9L1840.3 1212.0L1843.2 1212.0L1846.2 1212.1L1849.1 1212.2L1852.1 1212.2L1855.0 1212.3L1858.0 1212.3L1860.9 1212.4L1863.9 1212.4L1866.9 1212.5L1869.8 1212.5L1872.8 1212.6L1875.7 1212.6L1878.7 1212.7L1881.6 1212.7L1884.6 1212.8L1887.5 1212.8L1890.5 1212.8L1893.4 1212.9L1896.4 1212.9L1899.3 1213.0L1902.3 1213.0L1905.2 1213.0L1908.2 1213.1L1911.1 1213.1L1914.1 1213.2L1917.0 1213.2L1920.0 1213.2L1922.9 1213.3L1925.9 1213.3L1928.8 1213.3L1931.8 1213.4L1934.7 1213.4L1937.7 1213.4L1940.6 1213.4L1943.6 1213.5L1946.5 1213.5L1949.5 1213.5L1952.5 1213.6L1955.4 1213.6L1958.4 1213.6L1961.3 1213.6L1964.3 1213.6L1967.2 1213.7L1970.2 1213.7L1973.1 1213.7L1976.1 1213.7L1979.0 1213.8L1982.0 1213.8L1984.9 1213.8L1987.9 1213.8L1990.8 1213.8L1993.8 1213.8L1996.7 1213.9L1999.7 1213.9L2002.6 1213.9L2005.6 1213.9L2008.5 1213.9L2011.5 1213.9L2014.4 1214.0L2017.4 1214.0L2020.3 1214.0L2023.3 1214.0L2026.2 1214.0L2029.2 1214.0L2032.1 1214.0L2035.1 1214.0L2038.0 1214.0L2041.0 1214.0"/>
<path stroke="#9C9C9C" d="M270.0 1215.5L273.0 1215.5L275.9 1215.5L278.9 1215.5L281.8 1215.5L284.8 1215.5L287.7 1215.5L290.7 1215.5L293.6 1215.5L296.6 1215.5L299.5 1215.5L302.5 1215.5L305.4 1215.5L308.4 1215.5L311.3 1215.5L314.3 1215.5L317.2 1215.5L320.2 1215.5L323.1 1215.5L326.1 1215.5L329.0 1215.5L332.0 1215.5L334.9 1215.5L337.9 1215.5L340.8 1215.5L343.8 1215.5L346.7 1215.5L349.7 1215.4L352.6 1215.4L355.6 1215.4L358.6 1215.4L361.5 1215.4L364.5 1215.4L367.4 1215.4L370.4 1215.4L373.3 1215.4L376.3 1215.4L379.2 1215.4L382.2 1215.4L385.1 1215.4L388.1 1215.4L391.0 1215.3L394.0 1215.3L396.9 1215.3L399.9 1215.3L402.8 1215.3L405.8 1215.3L408.7 1215.3L411.7 1215.2L414.6 1215.2L417.6 1215.2L420.5 1215.2L423.5 1215.2L426.4 1215.1L429.4 1215.1L432.3 1215.1L435.3 1215.1L438.2 1215.0L441.2 1215.0L444.1 1215.0L447.1 1215.0L450.1 1214.9L453.0 1214.9L456.0 1214.8L458.9 1214.8L461.9 1214.8L464.8 1214.7L467.8 1214.7L470.7 1214.6L473.7 1214.6L476.6 1214.5L479.6 1214.4L482.5 1214.4L485.5 1214.3L488.4 1214.2L491.4 1214.1L494.3 1214.1L497.3 1214.0L500.2 1213.9L503.2 1213.8L506.1 1213.7L509.1 1213.6L512.0 1213.4L515.0 1213.3L517.9 1213.2L520.9 1213.1L523.8 1212.9L526.8 1212.8L529.7 1212.6L532.7 1212.4L535.6 1212.3L538.6 1212.1L541.6 1211.9L544.5 1211.7L547.5 1211.5L550.4 1211.3L553.4 1211.0L556.3 1210.8L559.3 1210.5L562.2 1210.3L565.2 1210.0L568.1 1209.7L571.1 1209.4L574.0 1209.1L577.0 1208.7L579.9 1208.4L582.9 1208.0L585.8 1207.7L588.8 1207.3L591.7 1206.9L594.7 1206.5L597.6 1206.1L600.6 1205.6L603.5 1205.2L606.5 1204.7L609.4 1204.3L612.4 1203.8L615.3 1203.3L618.3 1202.8L621.2 1202.2L624.2 1201.7L627.2 1201.1L630.1 1200.5L633.1 1199.9L636.0 1199.3L639.0 1198.7L641.9 1198.0L644.9 1197.4L647.8 1196.7L650.8 1196.0L653.7 1195.3L656.7 1194.5L659.6 1193.8L662.6 1193.0L665.5 1192.2L668.5 1191.3L671.4 1190.5L674.4 1189.7L677.3 1188.8L680.3 1187.9L683.2 1187.0L686.2 1186.1L689.1 1185.2L692.1 1184.2L695.0 1183.2L698.0 1182.3L700.9 1181.3L703.9 1180.3L706.8 1179.3L709.8 1178.2L712.8 1177.2L715.7 1176.2L718.7 1175.1L721.6 1174.0L724.6 1172.9L727.5 1171.9L730.5 1170.8L733.4 1169.7L736.4 1168.5L739.3 1167.4L742.3 1166.3L745.2 1165.2L748.2 1164.1L751.1 1162.9L754.1 1161.8L757.0 1160.7L760.0 1159.5L762.9 1158.4L765.9 1157.3L768.8 1156.2L771.8 1155.0L774.7 1153.9L777.7 1152.8L780.6 1151.7L783.6 1150.6L786.5 1149.5L789.5 1148.4L792.4 1147.3L795.4 1146.3L798.3 1145.2L801.3 1144.1L804.3 1143.1L807.2 1142.1L810.2 1141.0L813.1 1140.0L816.1 1139.0L819.0 1138.0L822.0 1137.0L824.9 1136.0L827.9 1135.0L830.8 1134.1L833.8 1133.1L836.7 1132.2L839.7 1131.2L842.6 1130.3L845.6 1129.4L848.5 1128.5L851.5 1127.6L854.4 1126.7L857.4 1125.8L860.3 1124.9L863.3 1124.1L866.2 1123.3L869.2 1122.5L872.1 1121.8L875.1 1121.1L878.0 1120.5L881.0 1120.0L883.9 1119.4L886.9 1118.9L889.9 1118.4L892.8 1117.9L895.8 1117.5L898.7 1117.0L901.7 1116.6L904.6 1116.1L907.6 1115.7L910.5 1115.3L913.5 1115.0L916.4 1114.6L919.4 1114.3L922.3 1114.1L925.3 1113.8L928.2 1113.6L931.2 1113.5L934.1 1113.3L937.1 1113.2L940.0 1113.2L943.0 1113.1L945.9 1113.1L948.9 1113.1L951.8 1113.1L954.8 1113.1L957.7 1113.2L960.7 1113.2L963.6 1113.3L966.6 1113.5L969.5 1113.6L972.5 1113.7L975.4 1113.9L978.4 1114.1L981.4 1114.3L984.3 1114.6L987.3 1114.8L990.2 1115.1L993.2 1115.4L996.1 1115.7L999.1 1116.1L1002.0 1116.4L1005.0 1116.8L1007.9 1117.2L1010.9 1117.6L1013.8 1118.0L1016.8 1118.4L1019.7 1118.8L1022.7 1119.3L1025.6 1119.8L1028.6 1120.3L1031.5 1120.8L1034.5 1121.3L1037.4 1121.8L1040.4 1122.3L1043.3 1122.9L1046.3 1123.4L1049.2 1124.0L1052.2 1124.5L1055.1 1125.1L1058.1 1125.7L1061.0 1126.3L1064.0 1126.8L1067.0 1127.4L1069.9 1128.1L1072.9 1128.7L1075.8 1129.3L1078.8 1129.9L1081.7 1130.5L1084.7 1131.1L1087.6 1131.8L1090.6 1132.4L1093.5 1133.0L1096.5 1133.7L1099.4 1134.3L1102.4 1134.9L1105.3 1135.6L1108.3 1136.2L1111.2 1136.8L1114.2 1137.5L1117.1 1138.1L1120.1 1138.7L1123.0 1139.3L1126.0 1139.9L1128.9 1140.5L1131.9 1141.1L1134.8 1141.8L1137.8 1142.4L1140.7 1143.0L1143.7 1143.6L1146.6 1144.2L1149.6 1144.7L1152.5 1145.3L1155.5 1145.9L1158.5 1146.5L1161.4 1147.1L1164.4 1147.7L1167.3 1148.3L1170.3 1148.9L1173.2 1149.4L1176.2 1150.0L1179.1 1150.6L1182.1 1151.2L1185.0 1151.8L1188.0 1152.3L1190.9 1152.9L1193.9 1153.5L1196.8 1154.0L1199.8 1154.6L1202.7 1155.2L1205.7 1155.7L1208.6 1156.3L1211.6 1156.9L1214.5 1157.4L1217.5 1158.0L1220.4 1158.5L1223.4 1159.1L1226.3 1159.7L1229.3 1160.2L1232.2 1160.8L1235.2 1161.3L1238.1 1161.8L1241.1 1162.4L1244.0 1162.9L1247.0 1163.4L1250.0 1164.0L1252.9 1164.5L1255.9 1165.0L1258.8 1165.6L1261.8 1166.1L1264.7 1166.6L1267.7 1167.1L1270.6 1167.6L1273.6 1168.1L1276.5 1168.6L1279.5 1169.1L1282.4 1169.6L1285.4 1170.1L1288.3 1170.6L1291.3 1171.1L1294.2 1171.6L1297.2 1172.1L1300.1 1172.6L1303.1 1173.0L1306.0 1173.5L1309.0 1174.0L1311.9 1174.5L1314.9 1174.9L1317.8 1175.4L1320.8 1175.8L1323.7 1176.3L1326.7 1176.8L1329.6 1177.2L1332.6 1177.7L1335.6 1178.1L1338.5 1178.6L1341.5 1179.0L1344.4 1179.5L1347.4 1179.9L1350.3 1180.4L1353.3 1180.8L1356.2 1181.3L1359.2 1181.7L1362.1 1182.1L1365.1 1182.6L1368.0 1183.0L1371.0 1183.4L1373.9 1183.8L1376.9 1184.2L1379.8 1184.7L1382.8 1185.1L1385.7 1185.5L1388.7 1185.8L1391.6 1186.2L1394.6 1186.6L1397.5 1187.0L1400.5 1187.3L1403.4 1187.7L1406.4 1188.0L1409.3 1188.4L1412.3 1188.7L1415.2 1189.1L1418.2 1189.4L1421.2 1189.7L1424.1 1190.0L1427.1 1190.3L1430.0 1190.6L1433.0 1190.9L1435.9 1191.2L1438.9 1191.5L1441.8 1191.7L1444.8 1192.0L1447.7 1192.3L1450.7 1192.6L1453.6 1192.8L1456.6 1193.1L1459.5 1193.3L1462.5 1193.6L1465.4 1193.8L1468.4 1194.1L1471.3 1194.3L1474.3 1194.6L1477.2 1194.8L1480.2 1195.0L1483.1 1195.3L1486.1 1195.5L1489.0 1195.7L1492.0 1196.0L1494.9 1196.2L1497.9 1196.4L1500.8 1196.6L1503.8 1196.8L1506.7 1197.0L1509.7 1197.3L1512.7 1197.5L1515.6 1197.7L1518.6 1197.9L1521.5 1198.1L1524.5 1198.3L1527.4 1198.5L1530.4 1198.7L1533.3 1198.9L1536.3 1199.1L1539.2 1199.3L1542.2 1199.5L1545.1 1199.7L1548.1 1199.9L1551.0 1200.1L1554.0 1200.3L1556.9 1200.5L1559.9 1200.7L1562.8 1200.9L1565.8 1201.1L1568.7 1201.3L1571.7 1201.5L1574.6 1201.7L1577.6 1201.9L1580.5 1202.0L1583.5 1202.2L1586.4 1202.4L1589.4 1202.6L1592.3 1202.8L1595.3 1203.0L1598.2 1203.1L1601.2 1203.3L1604.2 1203.5L1607.1 1203.7L1610.1 1203.8L1613.0 1204.0L1616.0 1204.2L1618.9 1204.3L1621.9 1204.5L1624.8 1204.7L1627.8 1204.8L1630.7 1205.0L1633.7 1205.2L1636.6 1205.3L1639.6 1205.5L1642.5 1205.6L1645.5 1205.8L1648.4 1205.9L1651.4 1206.1L1654.3 1206.2L1657.3 1206.4L1660.2 1206.5L1663.2 1206.7L1666.1 1206.8L1669.1 1206.9L1672.0 1207.1L1675.0 1207.2L1677.9 1207.3L1680.9 1207.5L1683.8 1207.6L1686.8 1207.7L1689.8 1207.9L1692.7 1208.0L1695.7 1208.1L1698.6 1208.2L1701.6 1208.3L1704.5 1208.5L1707.5 1208.6L1710.4 1208.7L1713.4 1208.8L1716.3 1208.9L1719.3 1209.0L1722.2 1209.1L1725.2 1209.2L1728.1 1209.3L1731.1 1209.4L1734.0 1209.5L1737.0 1209.6L1739.9 1209.7L1742.9 1209.8L1745.8 1209.9L1748.8 1210.0L1751.7 1210.1L1754.7 1210.2L1757.6 1210.3L1760.6 1210.4L1763.5 1210.4L1766.5 1210.5L1769.4 1210.6L1772.4 1210.7L1775.3 1210.8L1778.3 1210.9L1781.3 1210.9L1784.2 1211.0L1787.2 1211.1L1790.1 1211.2L1793.1 1211.2L1796.0 1211.3L1799.0 1211.4L1801.9 1211.4L1804.9 1211.5L1807.8 1211.6L1810.8 1211.6L1813.7 1211.7L1816.7 1211.8L1819.6 1211.8L1822.6 1211.9L1825.5 1211.9L1828.5 1212.0L1831.4 1212.0L1834.4 1212.1L1837.3 1212.2L1840.3 1212.2L1843.2 1212.3L1846.2 1212.3L1849.1 1212.4L1852.1 1212.4L1855.0 1212.5L1858.0 1212.5L1860.9 1212.6L1863.9 1212.6L1866.9 1212.6L1869.8 1212.7L1872.8 1212.7L1875.7 1212.8L1878.7 1212.8L1881.6 1212.9L1884.6 1212.9L1887.5 1212.9L1890.5 1213.0L1893.4 1213.0L1896.4 1213.0L1899.3 1213.1L1902.3 1213.1L1905.2 1213.1L1908.2 1213.2L1911.1 1213.2L1914.1 1213.2L1917.0 1213.3L1920.0 1213.3L1922.9 1213.3L1925.9 1213.4L1928.8 1213.4L1931.8 1213.4L1934.7 1213.4L1937.7 1213.5L1940.6 1213.5L1943.6 1213.5L1946.5 1213.5L1949.5 1213.6L1952.5 1213.6L1955.4 1213.6L1958.4 1213.6L1961.3 1213.6L1964.3 1213.7L1967.2 1213.7L1970.2 1213.7L1973.1 1213.7L1976.1 1213.7L1979.0 1213.8L1982.0 1213.8L1984.9 1213.8L1987.9 1213.8L1990.8 1213.8L1993.8 1213.8L1996.7 1213.9L1999.7 1213.9L2002.6 1213.9L2005.6 1213.9L2008.5 1213.9L2011.5 1213.9L2014.4 1213.9L2017.4 1213.9L2020.3 1213.9L2023.3 1213.9L2026.2 1213.9L2029.2 1213.9L2032.1 1213.9L2035.1 1213.9L2038.0 1213.9L2041.0 1213.9"/>
</g>
<g font-family="Liberation Sans, Arial, sans-serif" font-size="52" fill="#000" stroke="#fff" stroke-width="0.8">
<text transform="translate(224.5,1230.0)" text-anchor="end">0</text>
<text transform="translate(224.5,1034.7)" text-anchor="end">200</text>
<text transform="translate(224.5,839.3)" text-anchor="end">400</text>
<text transform="translate(224.5,644.0)" text-anchor="end">600</text>
<text transform="translate(224.5,448.7)" text-anchor="end">800</text>
<text transform="translate(224.5,253.3)" text-anchor="end">1000</text>
<text transform="translate(224.5,58.0)" text-anchor="end">1200</text>
<text transform="translate(269.3,1293.2)" text-anchor="middle">500</text>
<text transform="translate(564.5,1293.2)" text-anchor="middle">550</text>
<text transform="translate(859.6,1293.2)" text-anchor="middle">600</text>
<text transform="translate(1154.8,1293.2)" text-anchor="middle">650</text>
<text transform="translate(1450.0,1293.2)" text-anchor="middle">700</text>
<text transform="translate(1745.1,1293.2)" text-anchor="middle">750</text>
<text transform="translate(2040.3,1293.2)" text-anchor="middle">800</text>
</g>
<g font-family="Liberation Serif, Times New Roman, serif" fill="#000">
<text transform="translate(1155.8,1384.5) scale(1,0.975)" font-size="62" text-anchor="middle">wavelenght (nm)</text>
<text transform="translate(63,669.5) rotate(-90)" font-size="59.3" text-anchor="middle">Intensity (a.u.)</text>
<text transform="translate(566.9,183.2) scale(1,0.96)" font-size="50.7">0 equiv</text>
<text transform="translate(573.4,414.3) scale(1,0.96)" font-size="50.7">1 equiv</text>
</g>
<line x1="650" y1="197" x2="650" y2="355" stroke="#000" stroke-width="6"/>
<path d="M640.5,350.5 L659.5,350.5 Q654,366 650.5,378.5 L649.5,378.5 Q646,366 640.5,350.5 Z" fill="#000"/>
<g stroke="#000" stroke-width="2" fill="none">
<line x1="1348" y1="122" x2="1348" y2="495"/>
<line x1="1338" y1="494" x2="1909" y2="494"/>
<line x1="1338" y1="494.0" x2="1348" y2="494.0"/>
<line x1="1342" y1="463.1" x2="1348" y2="463.1"/>
<line x1="1338" y1="432.2" x2="1348" y2="432.2"/>
<line x1="1342" y1="401.2" x2="1348" y2="401.2"/>
<line x1="1338" y1="370.3" x2="1348" y2="370.3"/>
<line x1="1342" y1="339.4" x2="1348" y2="339.4"/>
<line x1="1338" y1="308.5" x2="1348" y2="308.5"/>
<line x1="1342" y1="277.6" x2="1348" y2="277.6"/>
<line x1="1338" y1="246.7" x2="1348" y2="246.7"/>
<line x1="1342" y1="215.8" x2="1348" y2="215.8"/>
<line x1="1338" y1="184.8" x2="1348" y2="184.8"/>
<line x1="1342" y1="153.9" x2="1348" y2="153.9"/>
<line x1="1338" y1="123.0" x2="1348" y2="123.0"/>
<line x1="1348.0" y1="494" x2="1348.0" y2="503"/>
<line x1="1383.0" y1="494" x2="1383.0" y2="499" stroke-width="3"/>
<line x1="1418.0" y1="494" x2="1418.0" y2="503"/>
<line x1="1453.0" y1="494" x2="1453.0" y2="499" stroke-width="3"/>
<line x1="1488.0" y1="494" x2="1488.0" y2="503"/>
<line x1="1523.0" y1="494" x2="1523.0" y2="499" stroke-width="3"/>
<line x1="1558.0" y1="494" x2="1558.0" y2="503"/>
<line x1="1593.0" y1="494" x2="1593.0" y2="499" stroke-width="3"/>
<line x1="1628.0" y1="494" x2="1628.0" y2="503"/>
<line x1="1663.0" y1="494" x2="1663.0" y2="499" stroke-width="3"/>
<line x1="1698.0" y1="494" x2="1698.0" y2="503"/>
<line x1="1733.0" y1="494" x2="1733.0" y2="499" stroke-width="3"/>
<line x1="1768.0" y1="494" x2="1768.0" y2="503"/>
<line x1="1803.0" y1="494" x2="1803.0" y2="499" stroke-width="3"/>
<line x1="1838.0" y1="494" x2="1838.0" y2="503"/>
<line x1="1873.0" y1="494" x2="1873.0" y2="499" stroke-width="3"/>
<line x1="1908.0" y1="494" x2="1908.0" y2="503"/>
</g>
<g font-family="Liberation Sans, Arial, sans-serif" font-size="16.5" fill="#000">
<text transform="translate(1335.16,498.0) scale(0.79,1)" text-anchor="end" letter-spacing="3.05">0</text>
<text transform="translate(1335.16,436.2) scale(0.79,1)" text-anchor="end" letter-spacing="3.05">200</text>
<text transform="translate(1335.16,374.3) scale(0.79,1)" text-anchor="end" letter-spacing="3.05">400</text>
<text transform="translate(1335.16,312.5) scale(0.79,1)" text-anchor="end" letter-spacing="3.05">600</text>
<text transform="translate(1335.16,250.7) scale(0.79,1)" text-anchor="end" letter-spacing="3.05">800</text>
<text transform="translate(1335.16,188.8) scale(0.79,1)" text-anchor="end" letter-spacing="3.05">1000</text>
<text transform="translate(1335.16,127.0) scale(0.79,1)" text-anchor="end" letter-spacing="3.05">1200</text>
<text transform="translate(1349.05,518.8) scale(0.79,1)" text-anchor="middle" letter-spacing="1.9">0.0</text>
<text transform="translate(1419.05,518.8) scale(0.79,1)" text-anchor="middle" letter-spacing="1.9">0.2</text>
<text transform="translate(1489.05,518.8) scale(0.79,1)" text-anchor="middle" letter-spacing="1.9">0.4</text>
<text transform="translate(1559.05,518.8) scale(0.79,1)" text-anchor="middle" letter-spacing="1.9">0.6</text>
<text transform="translate(1629.05,518.8) scale(0.79,1)" text-anchor="middle" letter-spacing="1.9">0.8</text>
<text transform="translate(1699.05,518.8) scale(0.79,1)" text-anchor="middle" letter-spacing="1.9">1.0</text>
<text transform="translate(1769.05,518.8) scale(0.79,1)" text-anchor="middle" letter-spacing="1.9">1.2</text>
<text transform="translate(1839.05,518.8) scale(0.79,1)" text-anchor="middle" letter-spacing="1.9">1.4</text>
<text transform="translate(1909.05,518.8) scale(0.79,1)" text-anchor="middle" letter-spacing="1.9">1.6</text>
</g>
<text transform="translate(1282,321.2) rotate(-90)" font-family="Liberation Serif, Times New Roman, serif" font-size="18.2" letter-spacing="0.6" stroke="#000" stroke-width="0.45" text-anchor="middle">Intensity</text>
<g font-family="Liberation Serif, Times New Roman, serif" font-size="18.2" letter-spacing="0.9" fill="#000" stroke="#000" stroke-width="0.45">
<text x="1583.6" y="552">Fe</text>
<text x="1622.4" y="552">equiv.</text>
</g>
<text x="1603.6" y="542" font-family="Liberation Sans, Arial, sans-serif" font-size="11" fill="#000">3+</text>
<polyline fill="none" stroke="#f00" stroke-width="1.5" points="1365.5,144.3 1383.0,150.5 1400.5,153.6 1418.0,157.3 1435.5,162.6 1453.0,162.3 1470.5,165.4 1488.0,170.9 1505.5,170.9 1523.0,175.2 1540.5,180.5 1558.0,188.5 1575.5,196.3 1593.0,246.4 1610.5,376.5 1628.0,434.3 1645.5,451.5 1663.0,453.6 1680.5,460.7 1698.0,463.0 1715.5,463.3 1733.0,465.6 1873.0,465.0"/>
<rect x="1360.5" y="139.8" width="10" height="9" fill="#f00"/>
<rect x="1378.0" y="146.0" width="10" height="9" fill="#f00"/>
<rect x="1395.5" y="149.1" width="10" height="9" fill="#f00"/>
<rect x="1413.0" y="152.8" width="10" height="9" fill="#f00"/>
<rect x="1430.5" y="158.1" width="10" height="9" fill="#f00"/>
<rect x="1448.0" y="157.8" width="10" height="9" fill="#f00"/>
<rect x="1465.5" y="160.9" width="10" height="9" fill="#f00"/>
<rect x="1483.0" y="166.4" width="10" height="9" fill="#f00"/>
<rect x="1500.5" y="166.4" width="10" height="9" fill="#f00"/>
<rect x="1518.0" y="170.7" width="10" height="9" fill="#f00"/>
<rect x="1535.5" y="176.0" width="10" height="9" fill="#f00"/>
<rect x="1553.0" y="184.0" width="10" height="9" fill="#f00"/>
<rect x="1570.5" y="191.8" width="10" height="9" fill="#f00"/>
<rect x="1588.0" y="241.9" width="10" height="9" fill="#f00"/>
<rect x="1605.5" y="372.0" width="10" height="9" fill="#f00"/>
<rect x="1623.0" y="429.8" width="10" height="9" fill="#f00"/>
<rect x="1640.5" y="447.0" width="10" height="9" fill="#f00"/>
<rect x="1658.0" y="449.1" width="10" height="9" fill="#f00"/>
<rect x="1675.5" y="456.2" width="10" height="9" fill="#f00"/>
<rect x="1693.0" y="458.5" width="10" height="9" fill="#f00"/>
<rect x="1710.5" y="458.8" width="10" height="9" fill="#f00"/>
<rect x="1728.0" y="461.1" width="10" height="9" fill="#f00"/>
<rect x="1868.0" y="460.5" width="10" height="9" fill="#f00"/>
</svg></body></html>
